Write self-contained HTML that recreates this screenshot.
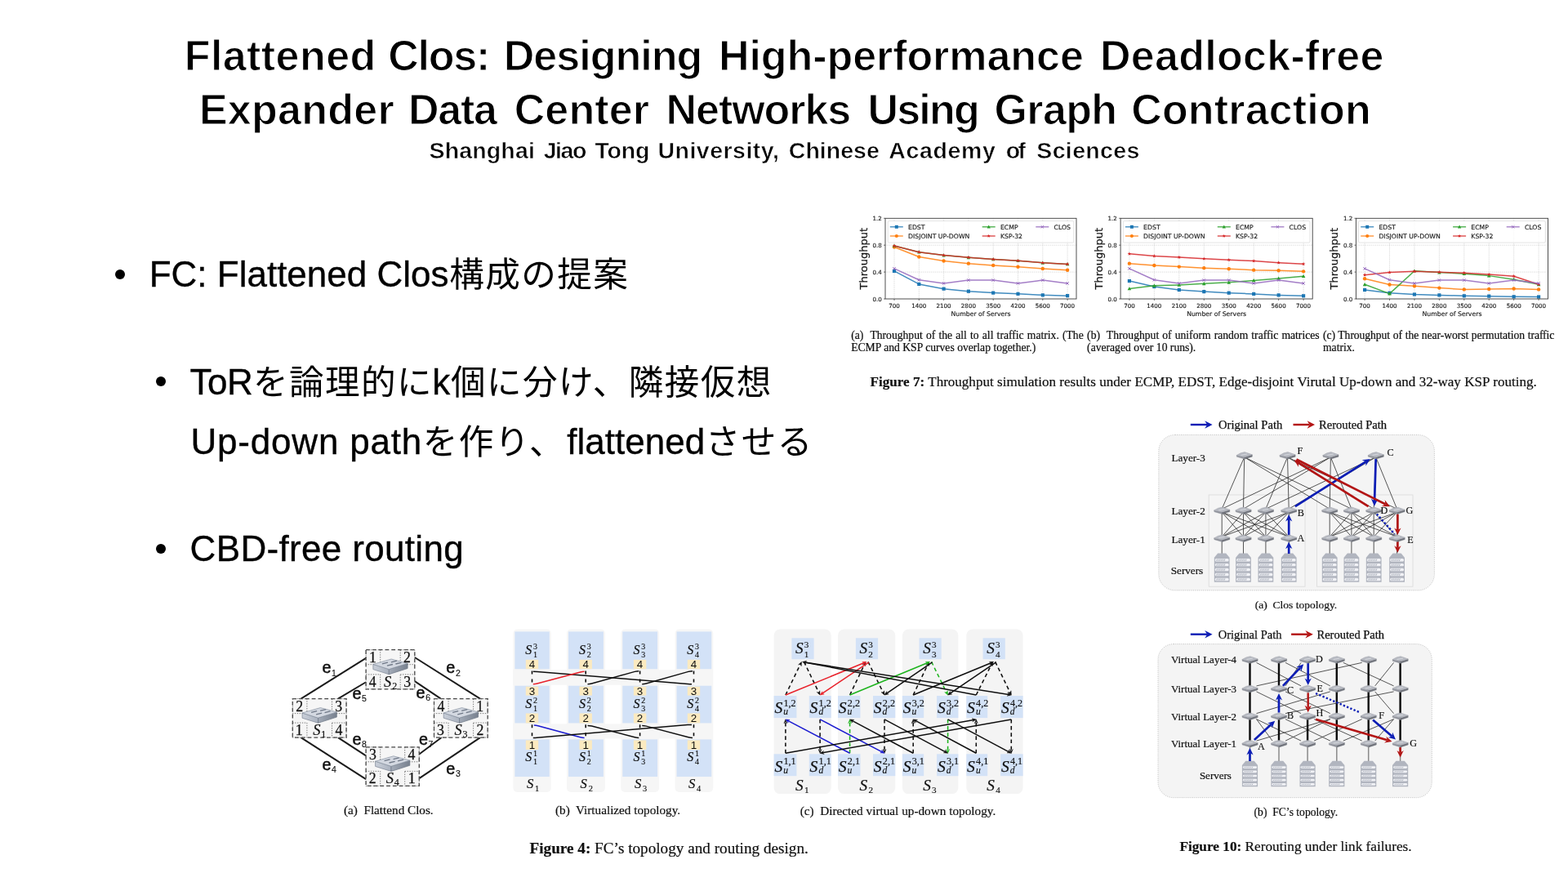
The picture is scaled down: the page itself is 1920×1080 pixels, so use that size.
<!DOCTYPE html>
<html lang="ja">
<head>
<meta charset="utf-8">
<title>Flattened Clos</title>
<style>
html,body{margin:0;padding:0;background:#fff;}
body{width:1920px;height:1080px;position:relative;overflow:hidden;font-family:"Liberation Sans","Noto Sans CJK JP",sans-serif;color:#000;}
.abs{position:absolute;white-space:nowrap;line-height:1;}
.t1{position:absolute;left:0;width:1920px;height:52px;font-size:52px;line-height:1;font-weight:bold;-webkit-text-stroke:1.1px #fff;white-space:nowrap;}
.t1 span{position:absolute;top:0;}
.sub{position:absolute;left:0;width:1920px;height:29px;font-size:28.5px;line-height:1;font-weight:bold;-webkit-text-stroke:0.6px #fff;white-space:nowrap;}
.sub span{position:absolute;top:0;}
.b span.l{-webkit-text-stroke:0.35px #000;}
.b span.c{font-size:42.6px;letter-spacing:1.4px;margin-left:0.7px;margin-right:-0.7px;}
.b{font-size:44px;transform-origin:0 0;}
.dot{position:absolute;border-radius:50%;background:#000;}
.cap{position:absolute;white-space:nowrap;font-family:"Liberation Serif",serif;font-size:13.64px;line-height:15.2px;color:#111;-webkit-text-stroke:0.22px #111;filter:blur(0.3px);}
.cap.j{text-align:justify;text-align-last:justify;white-space:normal;}
.figcap{position:absolute;white-space:nowrap;font-family:"Liberation Serif",serif;font-size:17.05px;line-height:20px;color:#111;text-align:justify;text-align-last:justify;white-space:normal;-webkit-text-stroke:0.22px #111;filter:blur(0.3px);}
svg{position:absolute;overflow:visible;}
svg text{white-space:pre;}
</style>
</head>
<body>
<div class="t1" id="t1a" style="top:42px;"><span style="left:225.7px;letter-spacing:0.429px">Flattened</span> <span style="left:475.3px;letter-spacing:-1.246px">Clos:</span> <span style="left:616.8px;letter-spacing:-0.997px">Designing</span> <span style="left:879.9px;letter-spacing:-0.061px">High-performance</span> <span style="left:1347.0px;letter-spacing:0.284px">Deadlock-free</span></div>
<div class="t1" id="t1b" style="top:107.5px;"><span style="left:243.9px;letter-spacing:0.267px">Expander</span> <span style="left:500.0px;letter-spacing:-1.263px">Data</span> <span style="left:629.7px;letter-spacing:0.125px">Center</span> <span style="left:815.6px;letter-spacing:-1.072px">Networks</span> <span style="left:1062.6px;letter-spacing:-1.846px">Using</span> <span style="left:1217.6px;letter-spacing:-0.667px">Graph</span> <span style="left:1385.2px;letter-spacing:0.17px">Contraction</span></div>
<div class="sub" id="sub" style="top:170px;"><span style="left:525.5px;letter-spacing:0.151px">Shanghai</span> <span style="left:665.7px;letter-spacing:-1.44px">Jiao</span> <span style="left:728.5px;letter-spacing:-0.204px">Tong</span> <span style="left:805.4px;letter-spacing:0.5px">University,</span> <span style="left:965.8px;letter-spacing:0.014px">Chinese</span> <span style="left:1088.3px;letter-spacing:0.62px">Academy</span> <span style="left:1231.7px;letter-spacing:-2.609px">of</span> <span style="left:1269.3px;letter-spacing:0.352px">Sciences</span></div>

<div class="dot" style="left:141px;top:330px;width:12px;height:12px;"></div>
<div class="abs b" id="b1" style="left:182.7px;top:313.6px;"><span class="l">FC: Flattened Clos</span><span class="c">構成の提案</span></div>
<div class="dot" style="left:191.1px;top:461.4px;width:12px;height:12px;"></div>
<div class="abs b" id="b2" style="left:232.5px;top:446.3px;"><span class="l" style="letter-spacing:-0.5px">ToR</span><span class="c">を論理的に</span><span class="l">k</span><span class="c">個に分け、隣接仮想</span></div>
<div class="abs b" id="b3" style="left:233.5px;top:519px;"><span class="l" style="letter-spacing:0.8px">Up-down path</span><span class="c">を作り、</span><span class="l" style="margin-left:3px">flattened</span><span class="c">させる</span></div>
<div class="dot" style="left:190.8px;top:665.6px;width:12px;height:12px;"></div>
<div class="abs b" id="b4" style="left:232.6px;top:649.7px;letter-spacing:0.33px;"><span class="l">CBD-free routing</span></div>
<!--FIG7-->
<svg id="fig7" style="left:0;top:0" width="1920" height="1080" viewBox="0 0 1920 1080" font-family="'DejaVu Sans',sans-serif" filter="url(#soft)">
<defs><filter id="soft" x="-5%" y="-5%" width="110%" height="110%"><feGaussianBlur stdDeviation="0.45"/></filter></defs>
<g><path d="M1095.00 267.3V366.0" stroke="#b8b8b8" stroke-width="0.6" stroke-dasharray="0.8 0.9"/><path d="M1125.30 267.3V366.0" stroke="#b8b8b8" stroke-width="0.6" stroke-dasharray="0.8 0.9"/><path d="M1155.60 267.3V366.0" stroke="#b8b8b8" stroke-width="0.6" stroke-dasharray="0.8 0.9"/><path d="M1185.90 267.3V366.0" stroke="#b8b8b8" stroke-width="0.6" stroke-dasharray="0.8 0.9"/><path d="M1216.20 267.3V366.0" stroke="#b8b8b8" stroke-width="0.6" stroke-dasharray="0.8 0.9"/><path d="M1246.50 267.3V366.0" stroke="#b8b8b8" stroke-width="0.6" stroke-dasharray="0.8 0.9"/><path d="M1276.80 267.3V366.0" stroke="#b8b8b8" stroke-width="0.6" stroke-dasharray="0.8 0.9"/><path d="M1307.10 267.3V366.0" stroke="#b8b8b8" stroke-width="0.6" stroke-dasharray="0.8 0.9"/><path d="M1084.0 333.10H1318.0" stroke="#b8b8b8" stroke-width="0.6" stroke-dasharray="0.8 0.9"/><path d="M1084.0 300.20H1318.0" stroke="#b8b8b8" stroke-width="0.6" stroke-dasharray="0.8 0.9"/><polyline points="1095.00,331.95 1125.30,347.90 1155.60,353.66 1185.90,356.71 1216.20,358.60 1246.50,359.83 1276.80,361.35 1307.10,362.13" fill="none" stroke="#1f77b4" stroke-width="1.5" stroke-opacity="0.85" stroke-linejoin="round"/><rect x="1092.90" y="329.85" width="4.20" height="4.20" fill="#1f77b4"/><rect x="1123.20" y="345.80" width="4.20" height="4.20" fill="#1f77b4"/><rect x="1153.50" y="351.56" width="4.20" height="4.20" fill="#1f77b4"/><rect x="1183.80" y="354.61" width="4.20" height="4.20" fill="#1f77b4"/><rect x="1214.10" y="356.50" width="4.20" height="4.20" fill="#1f77b4"/><rect x="1244.40" y="357.73" width="4.20" height="4.20" fill="#1f77b4"/><rect x="1274.70" y="359.25" width="4.20" height="4.20" fill="#1f77b4"/><rect x="1305.00" y="360.03" width="4.20" height="4.20" fill="#1f77b4"/><polyline points="1095.00,302.50 1125.30,314.43 1155.60,319.53 1185.90,322.65 1216.20,324.88 1246.50,326.77 1276.80,328.99 1307.10,330.80" fill="none" stroke="#ff7f0e" stroke-width="1.5" stroke-opacity="0.85" stroke-linejoin="round"/><circle cx="1095.00" cy="302.50" r="2.20" fill="#ff7f0e"/><circle cx="1125.30" cy="314.43" r="2.20" fill="#ff7f0e"/><circle cx="1155.60" cy="319.53" r="2.20" fill="#ff7f0e"/><circle cx="1185.90" cy="322.65" r="2.20" fill="#ff7f0e"/><circle cx="1216.20" cy="324.88" r="2.20" fill="#ff7f0e"/><circle cx="1246.50" cy="326.77" r="2.20" fill="#ff7f0e"/><circle cx="1276.80" cy="328.99" r="2.20" fill="#ff7f0e"/><circle cx="1307.10" cy="330.80" r="2.20" fill="#ff7f0e"/><polyline points="1095.00,301.02 1125.30,308.67 1155.60,312.54 1185.90,315.33 1216.20,317.47 1246.50,319.20 1276.80,321.83 1307.10,323.39" fill="none" stroke="#2ca02c" stroke-width="1.5" stroke-opacity="0.85" stroke-linejoin="round"/><path d="M1095.00 298.72L1097.30 302.86L1092.70 302.86Z" fill="#2ca02c"/><path d="M1125.30 306.37L1127.60 310.51L1123.00 310.51Z" fill="#2ca02c"/><path d="M1155.60 310.24L1157.90 314.38L1153.30 314.38Z" fill="#2ca02c"/><path d="M1185.90 313.03L1188.20 317.17L1183.60 317.17Z" fill="#2ca02c"/><path d="M1216.20 315.17L1218.50 319.31L1213.90 319.31Z" fill="#2ca02c"/><path d="M1246.50 316.90L1248.80 321.04L1244.20 321.04Z" fill="#2ca02c"/><path d="M1276.80 319.53L1279.10 323.67L1274.50 323.67Z" fill="#2ca02c"/><path d="M1307.10 321.09L1309.40 325.23L1304.80 325.23Z" fill="#2ca02c"/><polyline points="1095.00,301.02 1125.30,308.67 1155.60,312.54 1185.90,315.33 1216.20,317.47 1246.50,319.20 1276.80,321.83 1307.10,323.39" fill="none" stroke="#d62728" stroke-width="1.5" stroke-opacity="0.85" stroke-linejoin="round"/><polygon points="1095.00,298.62 1095.59,300.21 1097.28,300.28 1095.95,301.33 1096.41,302.96 1095.00,302.02 1093.59,302.96 1094.05,301.33 1092.72,300.28 1094.41,300.21" fill="#d62728"/><polygon points="1125.30,306.27 1125.89,307.86 1127.58,307.93 1126.25,308.98 1126.71,310.61 1125.30,309.67 1123.89,310.61 1124.35,308.98 1123.02,307.93 1124.71,307.86" fill="#d62728"/><polygon points="1155.60,310.14 1156.19,311.73 1157.88,311.80 1156.55,312.85 1157.01,314.48 1155.60,313.54 1154.19,314.48 1154.65,312.85 1153.32,311.80 1155.01,311.73" fill="#d62728"/><polygon points="1185.90,312.93 1186.49,314.52 1188.18,314.59 1186.85,315.64 1187.31,317.28 1185.90,316.33 1184.49,317.28 1184.95,315.64 1183.62,314.59 1185.31,314.52" fill="#d62728"/><polygon points="1216.20,315.07 1216.79,316.66 1218.48,316.73 1217.15,317.78 1217.61,319.41 1216.20,318.47 1214.79,319.41 1215.25,317.78 1213.92,316.73 1215.61,316.66" fill="#d62728"/><polygon points="1246.50,316.80 1247.09,318.39 1248.78,318.46 1247.45,319.51 1247.91,321.14 1246.50,320.20 1245.09,321.14 1245.55,319.51 1244.22,318.46 1245.91,318.39" fill="#d62728"/><polygon points="1276.80,319.43 1277.39,321.02 1279.08,321.09 1277.75,322.14 1278.21,323.77 1276.80,322.83 1275.39,323.77 1275.85,322.14 1274.52,321.09 1276.21,321.02" fill="#d62728"/><polygon points="1307.10,320.99 1307.69,322.59 1309.38,322.65 1308.05,323.70 1308.51,325.34 1307.10,324.39 1305.69,325.34 1306.15,323.70 1304.82,322.65 1306.51,322.59" fill="#d62728"/><polyline points="1095.00,328.82 1125.30,342.72 1155.60,346.92 1185.90,343.05 1216.20,343.05 1246.50,346.92 1276.80,343.05 1307.10,346.92" fill="none" stroke="#9467bd" stroke-width="1.5" stroke-opacity="0.85" stroke-linejoin="round"/><path d="M1093.30 327.12L1096.70 330.52M1093.30 330.52L1096.70 327.12" stroke="#9467bd" stroke-width="1" fill="none"/><path d="M1123.60 341.02L1127.00 344.42M1123.60 344.42L1127.00 341.02" stroke="#9467bd" stroke-width="1" fill="none"/><path d="M1153.90 345.22L1157.30 348.62M1153.90 348.62L1157.30 345.22" stroke="#9467bd" stroke-width="1" fill="none"/><path d="M1184.20 341.35L1187.60 344.75M1184.20 344.75L1187.60 341.35" stroke="#9467bd" stroke-width="1" fill="none"/><path d="M1214.50 341.35L1217.90 344.75M1214.50 344.75L1217.90 341.35" stroke="#9467bd" stroke-width="1" fill="none"/><path d="M1244.80 345.22L1248.20 348.62M1244.80 348.62L1248.20 345.22" stroke="#9467bd" stroke-width="1" fill="none"/><path d="M1275.10 341.35L1278.50 344.75M1275.10 344.75L1278.50 341.35" stroke="#9467bd" stroke-width="1" fill="none"/><path d="M1305.40 345.22L1308.80 348.62M1305.40 348.62L1308.80 345.22" stroke="#9467bd" stroke-width="1" fill="none"/><rect x="1084.0" y="267.3" width="234.00" height="98.70" fill="none" stroke="#3a3a3a" stroke-width="0.9"/><path d="M1095.00 366.0v2" stroke="#3a3a3a" stroke-width="0.7"/><text x="1095.00" y="377.20" font-size="7.1" text-anchor="middle" fill="#1a1a1a" stroke="#1a1a1a" stroke-width="0.15">700</text><path d="M1125.30 366.0v2" stroke="#3a3a3a" stroke-width="0.7"/><text x="1125.30" y="377.20" font-size="7.1" text-anchor="middle" fill="#1a1a1a" stroke="#1a1a1a" stroke-width="0.15">1400</text><path d="M1155.60 366.0v2" stroke="#3a3a3a" stroke-width="0.7"/><text x="1155.60" y="377.20" font-size="7.1" text-anchor="middle" fill="#1a1a1a" stroke="#1a1a1a" stroke-width="0.15">2100</text><path d="M1185.90 366.0v2" stroke="#3a3a3a" stroke-width="0.7"/><text x="1185.90" y="377.20" font-size="7.1" text-anchor="middle" fill="#1a1a1a" stroke="#1a1a1a" stroke-width="0.15">2800</text><path d="M1216.20 366.0v2" stroke="#3a3a3a" stroke-width="0.7"/><text x="1216.20" y="377.20" font-size="7.1" text-anchor="middle" fill="#1a1a1a" stroke="#1a1a1a" stroke-width="0.15">3500</text><path d="M1246.50 366.0v2" stroke="#3a3a3a" stroke-width="0.7"/><text x="1246.50" y="377.20" font-size="7.1" text-anchor="middle" fill="#1a1a1a" stroke="#1a1a1a" stroke-width="0.15">4200</text><path d="M1276.80 366.0v2" stroke="#3a3a3a" stroke-width="0.7"/><text x="1276.80" y="377.20" font-size="7.1" text-anchor="middle" fill="#1a1a1a" stroke="#1a1a1a" stroke-width="0.15">5600</text><path d="M1307.10 366.0v2" stroke="#3a3a3a" stroke-width="0.7"/><text x="1307.10" y="377.20" font-size="7.1" text-anchor="middle" fill="#1a1a1a" stroke="#1a1a1a" stroke-width="0.15">7000</text><path d="M1084.0 366.00h-2" stroke="#3a3a3a" stroke-width="0.7"/><text x="1079.80" y="368.60" font-size="7.1" text-anchor="end" fill="#1a1a1a" stroke="#1a1a1a" stroke-width="0.15">0.0</text><path d="M1084.0 333.10h-2" stroke="#3a3a3a" stroke-width="0.7"/><text x="1079.80" y="335.70" font-size="7.1" text-anchor="end" fill="#1a1a1a" stroke="#1a1a1a" stroke-width="0.15">0.4</text><path d="M1084.0 300.20h-2" stroke="#3a3a3a" stroke-width="0.7"/><text x="1079.80" y="302.80" font-size="7.1" text-anchor="end" fill="#1a1a1a" stroke="#1a1a1a" stroke-width="0.15">0.8</text><path d="M1084.0 267.30h-2" stroke="#3a3a3a" stroke-width="0.7"/><text x="1079.80" y="269.90" font-size="7.1" text-anchor="end" fill="#1a1a1a" stroke="#1a1a1a" stroke-width="0.15">1.2</text><text x="1201.00" y="387.30" font-size="7.75" text-anchor="middle" fill="#1a1a1a" stroke="#1a1a1a" stroke-width="0.15">Number of Servers</text><text transform="translate(1061.70 316.65) rotate(-90)" font-size="13" text-anchor="middle" fill="#1a1a1a" stroke="#1a1a1a" stroke-width="0.25">Throughput</text><rect x="1087.20" y="270.60" width="227.60" height="26.5" rx="1.3" fill="#fff" fill-opacity="0.8" stroke="#d0d0d0" stroke-width="0.6"/><path d="M1089.80 277.80h16" stroke="#1f77b4" stroke-width="1.35" stroke-opacity="0.85"/><rect x="1095.81" y="275.81" width="3.99" height="3.99" fill="#1f77b4"/><text x="1112.00" y="280.65" font-size="7.75" fill="#1a1a1a" stroke="#1a1a1a" stroke-width="0.15">EDST</text><path d="M1089.80 289.00h16" stroke="#ff7f0e" stroke-width="1.35" stroke-opacity="0.85"/><circle cx="1097.80" cy="289.00" r="2.09" fill="#ff7f0e"/><text x="1112.00" y="291.85" font-size="7.75" fill="#1a1a1a" stroke="#1a1a1a" stroke-width="0.15">DISJOINT UP-DOWN</text><path d="M1202.70 277.80h16" stroke="#2ca02c" stroke-width="1.35" stroke-opacity="0.85"/><path d="M1210.70 275.62L1212.88 279.55L1208.52 279.55Z" fill="#2ca02c"/><text x="1224.90" y="280.65" font-size="7.75" fill="#1a1a1a" stroke="#1a1a1a" stroke-width="0.15">ECMP</text><path d="M1202.70 289.00h16" stroke="#d62728" stroke-width="1.35" stroke-opacity="0.85"/><polygon points="1210.70,286.72 1211.26,288.23 1212.87,288.30 1211.60,289.29 1212.04,290.84 1210.70,289.95 1209.36,290.84 1209.80,289.29 1208.53,288.30 1210.14,288.23" fill="#d62728"/><text x="1224.90" y="291.85" font-size="7.75" fill="#1a1a1a" stroke="#1a1a1a" stroke-width="0.15">KSP-32</text><path d="M1268.30 277.80h16" stroke="#9467bd" stroke-width="1.35" stroke-opacity="0.85"/><path d="M1274.68 276.19L1277.91 279.42M1274.68 279.42L1277.91 276.19" stroke="#9467bd" stroke-width="1" fill="none"/><text x="1290.50" y="280.65" font-size="7.75" fill="#1a1a1a" stroke="#1a1a1a" stroke-width="0.15">CLOS</text></g>
<g><path d="M1382.90 267.3V366.0" stroke="#b8b8b8" stroke-width="0.6" stroke-dasharray="0.8 0.9"/><path d="M1413.36 267.3V366.0" stroke="#b8b8b8" stroke-width="0.6" stroke-dasharray="0.8 0.9"/><path d="M1443.81 267.3V366.0" stroke="#b8b8b8" stroke-width="0.6" stroke-dasharray="0.8 0.9"/><path d="M1474.27 267.3V366.0" stroke="#b8b8b8" stroke-width="0.6" stroke-dasharray="0.8 0.9"/><path d="M1504.73 267.3V366.0" stroke="#b8b8b8" stroke-width="0.6" stroke-dasharray="0.8 0.9"/><path d="M1535.19 267.3V366.0" stroke="#b8b8b8" stroke-width="0.6" stroke-dasharray="0.8 0.9"/><path d="M1565.64 267.3V366.0" stroke="#b8b8b8" stroke-width="0.6" stroke-dasharray="0.8 0.9"/><path d="M1596.10 267.3V366.0" stroke="#b8b8b8" stroke-width="0.6" stroke-dasharray="0.8 0.9"/><path d="M1372.1 333.10H1607.2" stroke="#b8b8b8" stroke-width="0.6" stroke-dasharray="0.8 0.9"/><path d="M1372.1 300.20H1607.2" stroke="#b8b8b8" stroke-width="0.6" stroke-dasharray="0.8 0.9"/><polyline points="1382.90,344.04 1413.36,351.03 1443.81,354.98 1474.27,357.12 1504.73,358.68 1535.19,359.91 1565.64,361.39 1596.10,362.30" fill="none" stroke="#1f77b4" stroke-width="1.5" stroke-opacity="0.85" stroke-linejoin="round"/><rect x="1380.80" y="341.94" width="4.20" height="4.20" fill="#1f77b4"/><rect x="1411.26" y="348.93" width="4.20" height="4.20" fill="#1f77b4"/><rect x="1441.71" y="352.88" width="4.20" height="4.20" fill="#1f77b4"/><rect x="1472.17" y="355.02" width="4.20" height="4.20" fill="#1f77b4"/><rect x="1502.63" y="356.58" width="4.20" height="4.20" fill="#1f77b4"/><rect x="1533.09" y="357.81" width="4.20" height="4.20" fill="#1f77b4"/><rect x="1563.54" y="359.29" width="4.20" height="4.20" fill="#1f77b4"/><rect x="1594.00" y="360.20" width="4.20" height="4.20" fill="#1f77b4"/><polyline points="1382.90,322.65 1413.36,325.04 1443.81,326.60 1474.27,328.17 1504.73,329.32 1535.19,330.63 1565.64,331.21 1596.10,332.36" fill="none" stroke="#ff7f0e" stroke-width="1.5" stroke-opacity="0.85" stroke-linejoin="round"/><circle cx="1382.90" cy="322.65" r="2.20" fill="#ff7f0e"/><circle cx="1413.36" cy="325.04" r="2.20" fill="#ff7f0e"/><circle cx="1443.81" cy="326.60" r="2.20" fill="#ff7f0e"/><circle cx="1474.27" cy="328.17" r="2.20" fill="#ff7f0e"/><circle cx="1504.73" cy="329.32" r="2.20" fill="#ff7f0e"/><circle cx="1535.19" cy="330.63" r="2.20" fill="#ff7f0e"/><circle cx="1565.64" cy="331.21" r="2.20" fill="#ff7f0e"/><circle cx="1596.10" cy="332.36" r="2.20" fill="#ff7f0e"/><polyline points="1382.90,353.50 1413.36,349.80 1443.81,348.89 1474.27,347.33 1504.73,345.85 1535.19,343.38 1565.64,340.91 1596.10,338.20" fill="none" stroke="#2ca02c" stroke-width="1.5" stroke-opacity="0.85" stroke-linejoin="round"/><path d="M1382.90 351.20L1385.20 355.34L1380.60 355.34Z" fill="#2ca02c"/><path d="M1413.36 347.50L1415.66 351.64L1411.06 351.64Z" fill="#2ca02c"/><path d="M1443.81 346.59L1446.11 350.73L1441.51 350.73Z" fill="#2ca02c"/><path d="M1474.27 345.03L1476.57 349.17L1471.97 349.17Z" fill="#2ca02c"/><path d="M1504.73 343.55L1507.03 347.69L1502.43 347.69Z" fill="#2ca02c"/><path d="M1535.19 341.08L1537.49 345.22L1532.89 345.22Z" fill="#2ca02c"/><path d="M1565.64 338.61L1567.94 342.75L1563.34 342.75Z" fill="#2ca02c"/><path d="M1596.10 335.90L1598.40 340.04L1593.80 340.04Z" fill="#2ca02c"/><polyline points="1382.90,310.73 1413.36,313.44 1443.81,315.00 1474.27,316.81 1504.73,318.30 1535.19,319.53 1565.64,321.67 1596.10,323.23" fill="none" stroke="#d62728" stroke-width="1.5" stroke-opacity="0.85" stroke-linejoin="round"/><polygon points="1382.90,308.33 1383.49,309.92 1385.18,309.99 1383.85,311.04 1384.31,312.67 1382.90,311.73 1381.49,312.67 1381.95,311.04 1380.62,309.99 1382.31,309.92" fill="#d62728"/><polygon points="1413.36,311.04 1413.94,312.63 1415.64,312.70 1414.31,313.75 1414.77,315.38 1413.36,314.44 1411.95,315.38 1412.41,313.75 1411.07,312.70 1412.77,312.63" fill="#d62728"/><polygon points="1443.81,312.61 1444.40,314.20 1446.10,314.26 1444.77,315.31 1445.22,316.95 1443.81,316.00 1442.40,316.95 1442.86,315.31 1441.53,314.26 1443.23,314.20" fill="#d62728"/><polygon points="1474.27,314.41 1474.86,316.01 1476.55,316.07 1475.22,317.12 1475.68,318.76 1474.27,317.81 1472.86,318.76 1473.32,317.12 1471.99,316.07 1473.68,316.01" fill="#d62728"/><polygon points="1504.73,315.90 1505.32,317.49 1507.01,317.55 1505.68,318.60 1506.14,320.24 1504.73,319.30 1503.32,320.24 1503.78,318.60 1502.45,317.55 1504.14,317.49" fill="#d62728"/><polygon points="1535.19,317.13 1535.77,318.72 1537.47,318.79 1536.14,319.84 1536.60,321.47 1535.19,320.53 1533.78,321.47 1534.23,319.84 1532.90,318.79 1534.60,318.72" fill="#d62728"/><polygon points="1565.64,319.27 1566.23,320.86 1567.93,320.93 1566.59,321.98 1567.05,323.61 1565.64,322.67 1564.23,323.61 1564.69,321.98 1563.36,320.93 1565.06,320.86" fill="#d62728"/><polygon points="1596.10,320.83 1596.69,322.42 1598.38,322.49 1597.05,323.54 1597.51,325.17 1596.10,324.23 1594.69,325.17 1595.15,323.54 1593.82,322.49 1595.51,322.42" fill="#d62728"/><polyline points="1382.90,328.82 1413.36,342.72 1443.81,346.92 1474.27,343.05 1504.73,343.05 1535.19,346.92 1565.64,343.05 1596.10,346.92" fill="none" stroke="#9467bd" stroke-width="1.5" stroke-opacity="0.85" stroke-linejoin="round"/><path d="M1381.20 327.12L1384.60 330.52M1381.20 330.52L1384.60 327.12" stroke="#9467bd" stroke-width="1" fill="none"/><path d="M1411.66 341.02L1415.06 344.42M1411.66 344.42L1415.06 341.02" stroke="#9467bd" stroke-width="1" fill="none"/><path d="M1442.11 345.22L1445.51 348.62M1442.11 348.62L1445.51 345.22" stroke="#9467bd" stroke-width="1" fill="none"/><path d="M1472.57 341.35L1475.97 344.75M1472.57 344.75L1475.97 341.35" stroke="#9467bd" stroke-width="1" fill="none"/><path d="M1503.03 341.35L1506.43 344.75M1503.03 344.75L1506.43 341.35" stroke="#9467bd" stroke-width="1" fill="none"/><path d="M1533.49 345.22L1536.89 348.62M1533.49 348.62L1536.89 345.22" stroke="#9467bd" stroke-width="1" fill="none"/><path d="M1563.94 341.35L1567.34 344.75M1563.94 344.75L1567.34 341.35" stroke="#9467bd" stroke-width="1" fill="none"/><path d="M1594.40 345.22L1597.80 348.62M1594.40 348.62L1597.80 345.22" stroke="#9467bd" stroke-width="1" fill="none"/><rect x="1372.1" y="267.3" width="235.10" height="98.70" fill="none" stroke="#3a3a3a" stroke-width="0.9"/><path d="M1382.90 366.0v2" stroke="#3a3a3a" stroke-width="0.7"/><text x="1382.90" y="377.20" font-size="7.1" text-anchor="middle" fill="#1a1a1a" stroke="#1a1a1a" stroke-width="0.15">700</text><path d="M1413.36 366.0v2" stroke="#3a3a3a" stroke-width="0.7"/><text x="1413.36" y="377.20" font-size="7.1" text-anchor="middle" fill="#1a1a1a" stroke="#1a1a1a" stroke-width="0.15">1400</text><path d="M1443.81 366.0v2" stroke="#3a3a3a" stroke-width="0.7"/><text x="1443.81" y="377.20" font-size="7.1" text-anchor="middle" fill="#1a1a1a" stroke="#1a1a1a" stroke-width="0.15">2100</text><path d="M1474.27 366.0v2" stroke="#3a3a3a" stroke-width="0.7"/><text x="1474.27" y="377.20" font-size="7.1" text-anchor="middle" fill="#1a1a1a" stroke="#1a1a1a" stroke-width="0.15">2800</text><path d="M1504.73 366.0v2" stroke="#3a3a3a" stroke-width="0.7"/><text x="1504.73" y="377.20" font-size="7.1" text-anchor="middle" fill="#1a1a1a" stroke="#1a1a1a" stroke-width="0.15">3500</text><path d="M1535.19 366.0v2" stroke="#3a3a3a" stroke-width="0.7"/><text x="1535.19" y="377.20" font-size="7.1" text-anchor="middle" fill="#1a1a1a" stroke="#1a1a1a" stroke-width="0.15">4200</text><path d="M1565.64 366.0v2" stroke="#3a3a3a" stroke-width="0.7"/><text x="1565.64" y="377.20" font-size="7.1" text-anchor="middle" fill="#1a1a1a" stroke="#1a1a1a" stroke-width="0.15">5600</text><path d="M1596.10 366.0v2" stroke="#3a3a3a" stroke-width="0.7"/><text x="1596.10" y="377.20" font-size="7.1" text-anchor="middle" fill="#1a1a1a" stroke="#1a1a1a" stroke-width="0.15">7000</text><path d="M1372.1 366.00h-2" stroke="#3a3a3a" stroke-width="0.7"/><text x="1367.90" y="368.60" font-size="7.1" text-anchor="end" fill="#1a1a1a" stroke="#1a1a1a" stroke-width="0.15">0.0</text><path d="M1372.1 333.10h-2" stroke="#3a3a3a" stroke-width="0.7"/><text x="1367.90" y="335.70" font-size="7.1" text-anchor="end" fill="#1a1a1a" stroke="#1a1a1a" stroke-width="0.15">0.4</text><path d="M1372.1 300.20h-2" stroke="#3a3a3a" stroke-width="0.7"/><text x="1367.90" y="302.80" font-size="7.1" text-anchor="end" fill="#1a1a1a" stroke="#1a1a1a" stroke-width="0.15">0.8</text><path d="M1372.1 267.30h-2" stroke="#3a3a3a" stroke-width="0.7"/><text x="1367.90" y="269.90" font-size="7.1" text-anchor="end" fill="#1a1a1a" stroke="#1a1a1a" stroke-width="0.15">1.2</text><text x="1489.65" y="387.30" font-size="7.75" text-anchor="middle" fill="#1a1a1a" stroke="#1a1a1a" stroke-width="0.15">Number of Servers</text><text transform="translate(1349.80 316.65) rotate(-90)" font-size="13" text-anchor="middle" fill="#1a1a1a" stroke="#1a1a1a" stroke-width="0.25">Throughput</text><rect x="1375.30" y="270.60" width="228.70" height="26.5" rx="1.3" fill="#fff" fill-opacity="0.8" stroke="#d0d0d0" stroke-width="0.6"/><path d="M1377.90 277.80h16" stroke="#1f77b4" stroke-width="1.35" stroke-opacity="0.85"/><rect x="1383.90" y="275.81" width="3.99" height="3.99" fill="#1f77b4"/><text x="1400.10" y="280.65" font-size="7.75" fill="#1a1a1a" stroke="#1a1a1a" stroke-width="0.15">EDST</text><path d="M1377.90 289.00h16" stroke="#ff7f0e" stroke-width="1.35" stroke-opacity="0.85"/><circle cx="1385.90" cy="289.00" r="2.09" fill="#ff7f0e"/><text x="1400.10" y="291.85" font-size="7.75" fill="#1a1a1a" stroke="#1a1a1a" stroke-width="0.15">DISJOINT UP-DOWN</text><path d="M1490.80 277.80h16" stroke="#2ca02c" stroke-width="1.35" stroke-opacity="0.85"/><path d="M1498.80 275.62L1500.98 279.55L1496.62 279.55Z" fill="#2ca02c"/><text x="1513.00" y="280.65" font-size="7.75" fill="#1a1a1a" stroke="#1a1a1a" stroke-width="0.15">ECMP</text><path d="M1490.80 289.00h16" stroke="#d62728" stroke-width="1.35" stroke-opacity="0.85"/><polygon points="1498.80,286.72 1499.36,288.23 1500.97,288.30 1499.70,289.29 1500.14,290.84 1498.80,289.95 1497.46,290.84 1497.90,289.29 1496.63,288.30 1498.24,288.23" fill="#d62728"/><text x="1513.00" y="291.85" font-size="7.75" fill="#1a1a1a" stroke="#1a1a1a" stroke-width="0.15">KSP-32</text><path d="M1556.40 277.80h16" stroke="#9467bd" stroke-width="1.35" stroke-opacity="0.85"/><path d="M1562.78 276.19L1566.01 279.42M1562.78 279.42L1566.01 276.19" stroke="#9467bd" stroke-width="1" fill="none"/><text x="1578.60" y="280.65" font-size="7.75" fill="#1a1a1a" stroke="#1a1a1a" stroke-width="0.15">CLOS</text></g>
<g><path d="M1671.10 267.3V366.0" stroke="#b8b8b8" stroke-width="0.6" stroke-dasharray="0.8 0.9"/><path d="M1701.53 267.3V366.0" stroke="#b8b8b8" stroke-width="0.6" stroke-dasharray="0.8 0.9"/><path d="M1731.96 267.3V366.0" stroke="#b8b8b8" stroke-width="0.6" stroke-dasharray="0.8 0.9"/><path d="M1762.39 267.3V366.0" stroke="#b8b8b8" stroke-width="0.6" stroke-dasharray="0.8 0.9"/><path d="M1792.81 267.3V366.0" stroke="#b8b8b8" stroke-width="0.6" stroke-dasharray="0.8 0.9"/><path d="M1823.24 267.3V366.0" stroke="#b8b8b8" stroke-width="0.6" stroke-dasharray="0.8 0.9"/><path d="M1853.67 267.3V366.0" stroke="#b8b8b8" stroke-width="0.6" stroke-dasharray="0.8 0.9"/><path d="M1884.10 267.3V366.0" stroke="#b8b8b8" stroke-width="0.6" stroke-dasharray="0.8 0.9"/><path d="M1660.4 333.10H1895.5" stroke="#b8b8b8" stroke-width="0.6" stroke-dasharray="0.8 0.9"/><path d="M1660.4 300.20H1895.5" stroke="#b8b8b8" stroke-width="0.6" stroke-dasharray="0.8 0.9"/><polyline points="1671.10,354.98 1701.53,358.68 1731.96,360.49 1762.39,361.39 1792.81,362.30 1823.24,362.63 1853.67,363.29 1884.10,363.53" fill="none" stroke="#1f77b4" stroke-width="1.5" stroke-opacity="0.85" stroke-linejoin="round"/><rect x="1669.00" y="352.88" width="4.20" height="4.20" fill="#1f77b4"/><rect x="1699.43" y="356.58" width="4.20" height="4.20" fill="#1f77b4"/><rect x="1729.86" y="358.39" width="4.20" height="4.20" fill="#1f77b4"/><rect x="1760.29" y="359.29" width="4.20" height="4.20" fill="#1f77b4"/><rect x="1790.71" y="360.20" width="4.20" height="4.20" fill="#1f77b4"/><rect x="1821.14" y="360.53" width="4.20" height="4.20" fill="#1f77b4"/><rect x="1851.57" y="361.19" width="4.20" height="4.20" fill="#1f77b4"/><rect x="1882.00" y="361.43" width="4.20" height="4.20" fill="#1f77b4"/><polyline points="1671.10,341.32 1701.53,348.56 1731.96,350.37 1762.39,352.59 1792.81,354.40 1823.24,354.07 1853.67,353.50 1884.10,354.40" fill="none" stroke="#ff7f0e" stroke-width="1.5" stroke-opacity="0.85" stroke-linejoin="round"/><circle cx="1671.10" cy="341.32" r="2.20" fill="#ff7f0e"/><circle cx="1701.53" cy="348.56" r="2.20" fill="#ff7f0e"/><circle cx="1731.96" cy="350.37" r="2.20" fill="#ff7f0e"/><circle cx="1762.39" cy="352.59" r="2.20" fill="#ff7f0e"/><circle cx="1792.81" cy="354.40" r="2.20" fill="#ff7f0e"/><circle cx="1823.24" cy="354.07" r="2.20" fill="#ff7f0e"/><circle cx="1853.67" cy="353.50" r="2.20" fill="#ff7f0e"/><circle cx="1884.10" cy="354.40" r="2.20" fill="#ff7f0e"/><polyline points="1671.10,348.32 1701.53,359.58 1731.96,331.78 1762.39,333.59 1792.81,335.16 1823.24,337.62 1853.67,342.15 1884.10,348.32" fill="none" stroke="#2ca02c" stroke-width="1.5" stroke-opacity="0.85" stroke-linejoin="round"/><path d="M1671.10 346.02L1673.40 350.16L1668.80 350.16Z" fill="#2ca02c"/><path d="M1701.53 357.28L1703.83 361.42L1699.23 361.42Z" fill="#2ca02c"/><path d="M1731.96 329.48L1734.26 333.62L1729.66 333.62Z" fill="#2ca02c"/><path d="M1762.39 331.29L1764.69 335.43L1760.09 335.43Z" fill="#2ca02c"/><path d="M1792.81 332.86L1795.11 337.00L1790.51 337.00Z" fill="#2ca02c"/><path d="M1823.24 335.32L1825.54 339.46L1820.94 339.46Z" fill="#2ca02c"/><path d="M1853.67 339.85L1855.97 343.99L1851.37 343.99Z" fill="#2ca02c"/><path d="M1884.10 346.02L1886.40 350.16L1881.80 350.16Z" fill="#2ca02c"/><polyline points="1671.10,336.64 1701.53,333.59 1731.96,332.36 1762.39,333.35 1792.81,334.25 1823.24,336.06 1853.67,338.20 1884.10,348.32" fill="none" stroke="#d62728" stroke-width="1.5" stroke-opacity="0.85" stroke-linejoin="round"/><polygon points="1671.10,334.24 1671.69,335.83 1673.38,335.90 1672.05,336.95 1672.51,338.58 1671.10,337.64 1669.69,338.58 1670.15,336.95 1668.82,335.90 1670.51,335.83" fill="#d62728"/><polygon points="1701.53,331.19 1702.12,332.78 1703.81,332.85 1702.48,333.90 1702.94,335.54 1701.53,334.59 1700.12,335.54 1700.58,333.90 1699.25,332.85 1700.94,332.78" fill="#d62728"/><polygon points="1731.96,329.96 1732.54,331.55 1734.24,331.62 1732.91,332.67 1733.37,334.30 1731.96,333.36 1730.55,334.30 1731.01,332.67 1729.67,331.62 1731.37,331.55" fill="#d62728"/><polygon points="1762.39,330.95 1762.97,332.54 1764.67,332.61 1763.34,333.66 1763.80,335.29 1762.39,334.35 1760.98,335.29 1761.43,333.66 1760.10,332.61 1761.80,332.54" fill="#d62728"/><polygon points="1792.81,331.85 1793.40,333.44 1795.10,333.51 1793.77,334.56 1794.22,336.19 1792.81,335.25 1791.40,336.19 1791.86,334.56 1790.53,333.51 1792.23,333.44" fill="#d62728"/><polygon points="1823.24,333.66 1823.83,335.25 1825.53,335.32 1824.19,336.37 1824.65,338.00 1823.24,337.06 1821.83,338.00 1822.29,336.37 1820.96,335.32 1822.66,335.25" fill="#d62728"/><polygon points="1853.67,335.80 1854.26,337.39 1855.95,337.46 1854.62,338.51 1855.08,340.14 1853.67,339.20 1852.26,340.14 1852.72,338.51 1851.39,337.46 1853.08,337.39" fill="#d62728"/><polygon points="1884.10,345.92 1884.69,347.51 1886.38,347.57 1885.05,348.63 1885.51,350.26 1884.10,349.32 1882.69,350.26 1883.15,348.63 1881.82,347.57 1883.51,347.51" fill="#d62728"/><polyline points="1671.10,328.82 1701.53,342.72 1731.96,346.92 1762.39,343.05 1792.81,343.05 1823.24,346.92 1853.67,343.05 1884.10,346.92" fill="none" stroke="#9467bd" stroke-width="1.5" stroke-opacity="0.85" stroke-linejoin="round"/><path d="M1669.40 327.12L1672.80 330.52M1669.40 330.52L1672.80 327.12" stroke="#9467bd" stroke-width="1" fill="none"/><path d="M1699.83 341.02L1703.23 344.42M1699.83 344.42L1703.23 341.02" stroke="#9467bd" stroke-width="1" fill="none"/><path d="M1730.26 345.22L1733.66 348.62M1730.26 348.62L1733.66 345.22" stroke="#9467bd" stroke-width="1" fill="none"/><path d="M1760.69 341.35L1764.09 344.75M1760.69 344.75L1764.09 341.35" stroke="#9467bd" stroke-width="1" fill="none"/><path d="M1791.11 341.35L1794.51 344.75M1791.11 344.75L1794.51 341.35" stroke="#9467bd" stroke-width="1" fill="none"/><path d="M1821.54 345.22L1824.94 348.62M1821.54 348.62L1824.94 345.22" stroke="#9467bd" stroke-width="1" fill="none"/><path d="M1851.97 341.35L1855.37 344.75M1851.97 344.75L1855.37 341.35" stroke="#9467bd" stroke-width="1" fill="none"/><path d="M1882.40 345.22L1885.80 348.62M1882.40 348.62L1885.80 345.22" stroke="#9467bd" stroke-width="1" fill="none"/><rect x="1660.4" y="267.3" width="235.10" height="98.70" fill="none" stroke="#3a3a3a" stroke-width="0.9"/><path d="M1671.10 366.0v2" stroke="#3a3a3a" stroke-width="0.7"/><text x="1671.10" y="377.20" font-size="7.1" text-anchor="middle" fill="#1a1a1a" stroke="#1a1a1a" stroke-width="0.15">700</text><path d="M1701.53 366.0v2" stroke="#3a3a3a" stroke-width="0.7"/><text x="1701.53" y="377.20" font-size="7.1" text-anchor="middle" fill="#1a1a1a" stroke="#1a1a1a" stroke-width="0.15">1400</text><path d="M1731.96 366.0v2" stroke="#3a3a3a" stroke-width="0.7"/><text x="1731.96" y="377.20" font-size="7.1" text-anchor="middle" fill="#1a1a1a" stroke="#1a1a1a" stroke-width="0.15">2100</text><path d="M1762.39 366.0v2" stroke="#3a3a3a" stroke-width="0.7"/><text x="1762.39" y="377.20" font-size="7.1" text-anchor="middle" fill="#1a1a1a" stroke="#1a1a1a" stroke-width="0.15">2800</text><path d="M1792.81 366.0v2" stroke="#3a3a3a" stroke-width="0.7"/><text x="1792.81" y="377.20" font-size="7.1" text-anchor="middle" fill="#1a1a1a" stroke="#1a1a1a" stroke-width="0.15">3500</text><path d="M1823.24 366.0v2" stroke="#3a3a3a" stroke-width="0.7"/><text x="1823.24" y="377.20" font-size="7.1" text-anchor="middle" fill="#1a1a1a" stroke="#1a1a1a" stroke-width="0.15">4200</text><path d="M1853.67 366.0v2" stroke="#3a3a3a" stroke-width="0.7"/><text x="1853.67" y="377.20" font-size="7.1" text-anchor="middle" fill="#1a1a1a" stroke="#1a1a1a" stroke-width="0.15">5600</text><path d="M1884.10 366.0v2" stroke="#3a3a3a" stroke-width="0.7"/><text x="1884.10" y="377.20" font-size="7.1" text-anchor="middle" fill="#1a1a1a" stroke="#1a1a1a" stroke-width="0.15">7000</text><path d="M1660.4 366.00h-2" stroke="#3a3a3a" stroke-width="0.7"/><text x="1656.20" y="368.60" font-size="7.1" text-anchor="end" fill="#1a1a1a" stroke="#1a1a1a" stroke-width="0.15">0.0</text><path d="M1660.4 333.10h-2" stroke="#3a3a3a" stroke-width="0.7"/><text x="1656.20" y="335.70" font-size="7.1" text-anchor="end" fill="#1a1a1a" stroke="#1a1a1a" stroke-width="0.15">0.4</text><path d="M1660.4 300.20h-2" stroke="#3a3a3a" stroke-width="0.7"/><text x="1656.20" y="302.80" font-size="7.1" text-anchor="end" fill="#1a1a1a" stroke="#1a1a1a" stroke-width="0.15">0.8</text><path d="M1660.4 267.30h-2" stroke="#3a3a3a" stroke-width="0.7"/><text x="1656.20" y="269.90" font-size="7.1" text-anchor="end" fill="#1a1a1a" stroke="#1a1a1a" stroke-width="0.15">1.2</text><text x="1777.95" y="387.30" font-size="7.75" text-anchor="middle" fill="#1a1a1a" stroke="#1a1a1a" stroke-width="0.15">Number of Servers</text><text transform="translate(1638.10 316.65) rotate(-90)" font-size="13" text-anchor="middle" fill="#1a1a1a" stroke="#1a1a1a" stroke-width="0.25">Throughput</text><rect x="1663.60" y="270.60" width="228.70" height="26.5" rx="1.3" fill="#fff" fill-opacity="0.8" stroke="#d0d0d0" stroke-width="0.6"/><path d="M1666.20 277.80h16" stroke="#1f77b4" stroke-width="1.35" stroke-opacity="0.85"/><rect x="1672.21" y="275.81" width="3.99" height="3.99" fill="#1f77b4"/><text x="1688.40" y="280.65" font-size="7.75" fill="#1a1a1a" stroke="#1a1a1a" stroke-width="0.15">EDST</text><path d="M1666.20 289.00h16" stroke="#ff7f0e" stroke-width="1.35" stroke-opacity="0.85"/><circle cx="1674.20" cy="289.00" r="2.09" fill="#ff7f0e"/><text x="1688.40" y="291.85" font-size="7.75" fill="#1a1a1a" stroke="#1a1a1a" stroke-width="0.15">DISJOINT UP-DOWN</text><path d="M1779.10 277.80h16" stroke="#2ca02c" stroke-width="1.35" stroke-opacity="0.85"/><path d="M1787.10 275.62L1789.29 279.55L1784.92 279.55Z" fill="#2ca02c"/><text x="1801.30" y="280.65" font-size="7.75" fill="#1a1a1a" stroke="#1a1a1a" stroke-width="0.15">ECMP</text><path d="M1779.10 289.00h16" stroke="#d62728" stroke-width="1.35" stroke-opacity="0.85"/><polygon points="1787.10,286.72 1787.66,288.23 1789.27,288.30 1788.00,289.29 1788.44,290.84 1787.10,289.95 1785.76,290.84 1786.20,289.29 1784.93,288.30 1786.54,288.23" fill="#d62728"/><text x="1801.30" y="291.85" font-size="7.75" fill="#1a1a1a" stroke="#1a1a1a" stroke-width="0.15">KSP-32</text><path d="M1844.70 277.80h16" stroke="#9467bd" stroke-width="1.35" stroke-opacity="0.85"/><path d="M1851.09 276.19L1854.32 279.42M1851.09 279.42L1854.32 276.19" stroke="#9467bd" stroke-width="1" fill="none"/><text x="1866.90" y="280.65" font-size="7.75" fill="#1a1a1a" stroke="#1a1a1a" stroke-width="0.15">CLOS</text></g>
</svg>
<div class="cap j" style="left:1042.2px;top:403.2px;width:284.5px;">(a)&nbsp; Throughput of the all to all traffic matrix. (The</div>
<div class="cap" style="left:1042.2px;top:418.4px;width:300px;">ECMP and KSP curves overlap together.)</div>
<div class="cap j" style="left:1331.1px;top:403.2px;width:284.5px;">(b)&nbsp; Throughput of uniform random traffic matrices</div>
<div class="cap" style="left:1331.1px;top:418.4px;width:300px;">(averaged over 10 runs).</div>
<div class="cap j" style="left:1620.0px;top:403.2px;width:283.3px;"><span style="letter-spacing:-0.06px">(c) Throughput of the near-worst permutation traffic</span></div>
<div class="cap" style="left:1620.0px;top:418.4px;width:300px;">matrix.</div>
<div class="figcap" style="left:1065.6px;top:458.3px;width:816.2px;"><b>Figure 7:</b> Throughput simulation results under ECMP, EDST, Edge-disjoint Virutal Up-down and 32-way KSP routing.</div>
<!--/FIG7-->
<!--FIG10A-->
<svg id="fig10a" style="left:0;top:0" width="1920" height="1080" viewBox="0 0 1920 1080" font-family="'Liberation Serif',serif" filter="url(#soft)">
<path d="M1457.80 520.00L1478.02 520.00" stroke="#0b1fb5" stroke-width="2.4" fill="none"/><path d="M1484.60 520.00L1475.20 524.70L1478.21 520.00L1475.20 515.30Z" fill="#0b1fb5"/>
<text x="1492" y="524.8" font-size="14.6" fill="#111" stroke="#111" stroke-width="0.25">Original Path</text>
<path d="M1583.50 520.00L1603.42 520.00" stroke="#b31212" stroke-width="2.4" fill="none"/><path d="M1610.00 520.00L1600.60 524.70L1603.61 520.00L1600.60 515.30Z" fill="#b31212"/>
<text x="1615" y="524.8" font-size="14.6" fill="#111" stroke="#111" stroke-width="0.25">Rerouted Path</text>
<rect x="1418.8" y="532.5" width="337.6" height="190.4" rx="20" fill="#f4f4f4" stroke="#a8a8a8" stroke-width="0.8" stroke-dasharray="0.9 1.5"/>
<rect x="1480.2" y="606" width="117.8" height="112.2" fill="#f5f5f5" stroke="#d9d9d9" stroke-width="0.8"/>
<rect x="1612.6" y="606" width="117.4" height="112.2" fill="#f5f5f5" stroke="#d9d9d9" stroke-width="0.8"/>
<path d="M1523.7 559.8L1496.2 623.2M1523.7 559.8L1628.2 623.2M1523.7 559.8L1522.5 623.2M1523.7 559.8L1654.9 623.2M1576.5 559.8L1549.9 623.2M1576.5 559.8L1682.2 623.2M1576.5 559.8L1578.2 623.2M1576.5 559.8L1710.6 623.2M1629.4 559.8L1496.2 623.2M1629.4 559.8L1628.2 623.2M1629.4 559.8L1522.5 623.2M1629.4 559.8L1654.9 623.2M1684.7 559.8L1549.9 623.2M1684.7 559.8L1682.2 623.2M1684.7 559.8L1578.2 623.2M1684.7 559.8L1710.6 623.2M1496.2 627.2L1496.2 657.2M1496.2 627.2L1522.5 657.2M1496.2 627.2L1549.9 657.2M1496.2 627.2L1578.2 657.2M1522.5 627.2L1496.2 657.2M1522.5 627.2L1522.5 657.2M1522.5 627.2L1549.9 657.2M1522.5 627.2L1578.2 657.2M1549.9 627.2L1496.2 657.2M1549.9 627.2L1522.5 657.2M1549.9 627.2L1549.9 657.2M1549.9 627.2L1578.2 657.2M1578.2 627.2L1496.2 657.2M1578.2 627.2L1522.5 657.2M1578.2 627.2L1549.9 657.2M1578.2 627.2L1578.2 657.2M1496.2 661.2V678M1522.5 661.2V678M1549.9 661.2V678M1578.2 661.2V678M1628.2 627.2L1628.2 657.2M1628.2 627.2L1654.9 657.2M1628.2 627.2L1682.2 657.2M1628.2 627.2L1710.6 657.2M1654.9 627.2L1628.2 657.2M1654.9 627.2L1654.9 657.2M1654.9 627.2L1682.2 657.2M1654.9 627.2L1710.6 657.2M1682.2 627.2L1628.2 657.2M1682.2 627.2L1654.9 657.2M1682.2 627.2L1682.2 657.2M1682.2 627.2L1710.6 657.2M1710.6 627.2L1628.2 657.2M1710.6 627.2L1654.9 657.2M1710.6 627.2L1682.2 657.2M1710.6 627.2L1710.6 657.2M1628.2 661.2V678M1654.9 661.2V678M1682.2 661.2V678M1710.6 661.2V678" stroke="#2b2b2b" stroke-width="0.8" fill="none"/>
<path d="M1486.80 682.80L1491.20 677.40H1501.20L1505.60 682.80V712.80H1486.80Z" fill="#b1b5bf"/><rect x="1487.80" y="683.95" width="16.80" height="3.46" rx="1.5" fill="#f1f2f6"/><path d="M1489.50 686.81l0.9 -2.26" stroke="#9ba0ad" stroke-width="0.85"/><path d="M1491.40 686.81l0.9 -2.26" stroke="#9ba0ad" stroke-width="0.85"/><path d="M1493.30 686.81l0.9 -2.26" stroke="#9ba0ad" stroke-width="0.85"/><path d="M1495.20 686.81l0.9 -2.26" stroke="#9ba0ad" stroke-width="0.85"/><path d="M1497.10 686.81l0.9 -2.26" stroke="#9ba0ad" stroke-width="0.85"/><path d="M1499.00 686.81l0.9 -2.26" stroke="#9ba0ad" stroke-width="0.85"/><rect x="1487.80" y="689.91" width="16.80" height="3.46" rx="1.5" fill="#f1f2f6"/><path d="M1489.50 692.77l0.9 -2.26" stroke="#9ba0ad" stroke-width="0.85"/><path d="M1491.40 692.77l0.9 -2.26" stroke="#9ba0ad" stroke-width="0.85"/><path d="M1493.30 692.77l0.9 -2.26" stroke="#9ba0ad" stroke-width="0.85"/><path d="M1495.20 692.77l0.9 -2.26" stroke="#9ba0ad" stroke-width="0.85"/><path d="M1497.10 692.77l0.9 -2.26" stroke="#9ba0ad" stroke-width="0.85"/><path d="M1499.00 692.77l0.9 -2.26" stroke="#9ba0ad" stroke-width="0.85"/><rect x="1487.80" y="695.87" width="16.80" height="3.46" rx="1.5" fill="#f1f2f6"/><path d="M1489.50 698.73l0.9 -2.26" stroke="#9ba0ad" stroke-width="0.85"/><path d="M1491.40 698.73l0.9 -2.26" stroke="#9ba0ad" stroke-width="0.85"/><path d="M1493.30 698.73l0.9 -2.26" stroke="#9ba0ad" stroke-width="0.85"/><path d="M1495.20 698.73l0.9 -2.26" stroke="#9ba0ad" stroke-width="0.85"/><path d="M1497.10 698.73l0.9 -2.26" stroke="#9ba0ad" stroke-width="0.85"/><path d="M1499.00 698.73l0.9 -2.26" stroke="#9ba0ad" stroke-width="0.85"/><rect x="1487.80" y="701.83" width="16.80" height="3.46" rx="1.5" fill="#f1f2f6"/><path d="M1489.50 704.69l0.9 -2.26" stroke="#9ba0ad" stroke-width="0.85"/><path d="M1491.40 704.69l0.9 -2.26" stroke="#9ba0ad" stroke-width="0.85"/><path d="M1493.30 704.69l0.9 -2.26" stroke="#9ba0ad" stroke-width="0.85"/><path d="M1495.20 704.69l0.9 -2.26" stroke="#9ba0ad" stroke-width="0.85"/><path d="M1497.10 704.69l0.9 -2.26" stroke="#9ba0ad" stroke-width="0.85"/><path d="M1499.00 704.69l0.9 -2.26" stroke="#9ba0ad" stroke-width="0.85"/><rect x="1487.80" y="707.79" width="16.80" height="3.46" rx="1.5" fill="#f1f2f6"/><path d="M1489.50 710.65l0.9 -2.26" stroke="#9ba0ad" stroke-width="0.85"/><path d="M1491.40 710.65l0.9 -2.26" stroke="#9ba0ad" stroke-width="0.85"/><path d="M1493.30 710.65l0.9 -2.26" stroke="#9ba0ad" stroke-width="0.85"/><path d="M1495.20 710.65l0.9 -2.26" stroke="#9ba0ad" stroke-width="0.85"/><path d="M1497.10 710.65l0.9 -2.26" stroke="#9ba0ad" stroke-width="0.85"/><path d="M1499.00 710.65l0.9 -2.26" stroke="#9ba0ad" stroke-width="0.85"/>
<path d="M1513.10 682.80L1517.50 677.40H1527.50L1531.90 682.80V712.80H1513.10Z" fill="#b1b5bf"/><rect x="1514.10" y="683.95" width="16.80" height="3.46" rx="1.5" fill="#f1f2f6"/><path d="M1515.80 686.81l0.9 -2.26" stroke="#9ba0ad" stroke-width="0.85"/><path d="M1517.70 686.81l0.9 -2.26" stroke="#9ba0ad" stroke-width="0.85"/><path d="M1519.60 686.81l0.9 -2.26" stroke="#9ba0ad" stroke-width="0.85"/><path d="M1521.50 686.81l0.9 -2.26" stroke="#9ba0ad" stroke-width="0.85"/><path d="M1523.40 686.81l0.9 -2.26" stroke="#9ba0ad" stroke-width="0.85"/><path d="M1525.30 686.81l0.9 -2.26" stroke="#9ba0ad" stroke-width="0.85"/><rect x="1514.10" y="689.91" width="16.80" height="3.46" rx="1.5" fill="#f1f2f6"/><path d="M1515.80 692.77l0.9 -2.26" stroke="#9ba0ad" stroke-width="0.85"/><path d="M1517.70 692.77l0.9 -2.26" stroke="#9ba0ad" stroke-width="0.85"/><path d="M1519.60 692.77l0.9 -2.26" stroke="#9ba0ad" stroke-width="0.85"/><path d="M1521.50 692.77l0.9 -2.26" stroke="#9ba0ad" stroke-width="0.85"/><path d="M1523.40 692.77l0.9 -2.26" stroke="#9ba0ad" stroke-width="0.85"/><path d="M1525.30 692.77l0.9 -2.26" stroke="#9ba0ad" stroke-width="0.85"/><rect x="1514.10" y="695.87" width="16.80" height="3.46" rx="1.5" fill="#f1f2f6"/><path d="M1515.80 698.73l0.9 -2.26" stroke="#9ba0ad" stroke-width="0.85"/><path d="M1517.70 698.73l0.9 -2.26" stroke="#9ba0ad" stroke-width="0.85"/><path d="M1519.60 698.73l0.9 -2.26" stroke="#9ba0ad" stroke-width="0.85"/><path d="M1521.50 698.73l0.9 -2.26" stroke="#9ba0ad" stroke-width="0.85"/><path d="M1523.40 698.73l0.9 -2.26" stroke="#9ba0ad" stroke-width="0.85"/><path d="M1525.30 698.73l0.9 -2.26" stroke="#9ba0ad" stroke-width="0.85"/><rect x="1514.10" y="701.83" width="16.80" height="3.46" rx="1.5" fill="#f1f2f6"/><path d="M1515.80 704.69l0.9 -2.26" stroke="#9ba0ad" stroke-width="0.85"/><path d="M1517.70 704.69l0.9 -2.26" stroke="#9ba0ad" stroke-width="0.85"/><path d="M1519.60 704.69l0.9 -2.26" stroke="#9ba0ad" stroke-width="0.85"/><path d="M1521.50 704.69l0.9 -2.26" stroke="#9ba0ad" stroke-width="0.85"/><path d="M1523.40 704.69l0.9 -2.26" stroke="#9ba0ad" stroke-width="0.85"/><path d="M1525.30 704.69l0.9 -2.26" stroke="#9ba0ad" stroke-width="0.85"/><rect x="1514.10" y="707.79" width="16.80" height="3.46" rx="1.5" fill="#f1f2f6"/><path d="M1515.80 710.65l0.9 -2.26" stroke="#9ba0ad" stroke-width="0.85"/><path d="M1517.70 710.65l0.9 -2.26" stroke="#9ba0ad" stroke-width="0.85"/><path d="M1519.60 710.65l0.9 -2.26" stroke="#9ba0ad" stroke-width="0.85"/><path d="M1521.50 710.65l0.9 -2.26" stroke="#9ba0ad" stroke-width="0.85"/><path d="M1523.40 710.65l0.9 -2.26" stroke="#9ba0ad" stroke-width="0.85"/><path d="M1525.30 710.65l0.9 -2.26" stroke="#9ba0ad" stroke-width="0.85"/>
<path d="M1540.50 682.80L1544.90 677.40H1554.90L1559.30 682.80V712.80H1540.50Z" fill="#b1b5bf"/><rect x="1541.50" y="683.95" width="16.80" height="3.46" rx="1.5" fill="#f1f2f6"/><path d="M1543.20 686.81l0.9 -2.26" stroke="#9ba0ad" stroke-width="0.85"/><path d="M1545.10 686.81l0.9 -2.26" stroke="#9ba0ad" stroke-width="0.85"/><path d="M1547.00 686.81l0.9 -2.26" stroke="#9ba0ad" stroke-width="0.85"/><path d="M1548.90 686.81l0.9 -2.26" stroke="#9ba0ad" stroke-width="0.85"/><path d="M1550.80 686.81l0.9 -2.26" stroke="#9ba0ad" stroke-width="0.85"/><path d="M1552.70 686.81l0.9 -2.26" stroke="#9ba0ad" stroke-width="0.85"/><rect x="1541.50" y="689.91" width="16.80" height="3.46" rx="1.5" fill="#f1f2f6"/><path d="M1543.20 692.77l0.9 -2.26" stroke="#9ba0ad" stroke-width="0.85"/><path d="M1545.10 692.77l0.9 -2.26" stroke="#9ba0ad" stroke-width="0.85"/><path d="M1547.00 692.77l0.9 -2.26" stroke="#9ba0ad" stroke-width="0.85"/><path d="M1548.90 692.77l0.9 -2.26" stroke="#9ba0ad" stroke-width="0.85"/><path d="M1550.80 692.77l0.9 -2.26" stroke="#9ba0ad" stroke-width="0.85"/><path d="M1552.70 692.77l0.9 -2.26" stroke="#9ba0ad" stroke-width="0.85"/><rect x="1541.50" y="695.87" width="16.80" height="3.46" rx="1.5" fill="#f1f2f6"/><path d="M1543.20 698.73l0.9 -2.26" stroke="#9ba0ad" stroke-width="0.85"/><path d="M1545.10 698.73l0.9 -2.26" stroke="#9ba0ad" stroke-width="0.85"/><path d="M1547.00 698.73l0.9 -2.26" stroke="#9ba0ad" stroke-width="0.85"/><path d="M1548.90 698.73l0.9 -2.26" stroke="#9ba0ad" stroke-width="0.85"/><path d="M1550.80 698.73l0.9 -2.26" stroke="#9ba0ad" stroke-width="0.85"/><path d="M1552.70 698.73l0.9 -2.26" stroke="#9ba0ad" stroke-width="0.85"/><rect x="1541.50" y="701.83" width="16.80" height="3.46" rx="1.5" fill="#f1f2f6"/><path d="M1543.20 704.69l0.9 -2.26" stroke="#9ba0ad" stroke-width="0.85"/><path d="M1545.10 704.69l0.9 -2.26" stroke="#9ba0ad" stroke-width="0.85"/><path d="M1547.00 704.69l0.9 -2.26" stroke="#9ba0ad" stroke-width="0.85"/><path d="M1548.90 704.69l0.9 -2.26" stroke="#9ba0ad" stroke-width="0.85"/><path d="M1550.80 704.69l0.9 -2.26" stroke="#9ba0ad" stroke-width="0.85"/><path d="M1552.70 704.69l0.9 -2.26" stroke="#9ba0ad" stroke-width="0.85"/><rect x="1541.50" y="707.79" width="16.80" height="3.46" rx="1.5" fill="#f1f2f6"/><path d="M1543.20 710.65l0.9 -2.26" stroke="#9ba0ad" stroke-width="0.85"/><path d="M1545.10 710.65l0.9 -2.26" stroke="#9ba0ad" stroke-width="0.85"/><path d="M1547.00 710.65l0.9 -2.26" stroke="#9ba0ad" stroke-width="0.85"/><path d="M1548.90 710.65l0.9 -2.26" stroke="#9ba0ad" stroke-width="0.85"/><path d="M1550.80 710.65l0.9 -2.26" stroke="#9ba0ad" stroke-width="0.85"/><path d="M1552.70 710.65l0.9 -2.26" stroke="#9ba0ad" stroke-width="0.85"/>
<path d="M1568.80 682.80L1573.20 677.40H1583.20L1587.60 682.80V712.80H1568.80Z" fill="#b1b5bf"/><rect x="1569.80" y="683.95" width="16.80" height="3.46" rx="1.5" fill="#f1f2f6"/><path d="M1571.50 686.81l0.9 -2.26" stroke="#9ba0ad" stroke-width="0.85"/><path d="M1573.40 686.81l0.9 -2.26" stroke="#9ba0ad" stroke-width="0.85"/><path d="M1575.30 686.81l0.9 -2.26" stroke="#9ba0ad" stroke-width="0.85"/><path d="M1577.20 686.81l0.9 -2.26" stroke="#9ba0ad" stroke-width="0.85"/><path d="M1579.10 686.81l0.9 -2.26" stroke="#9ba0ad" stroke-width="0.85"/><path d="M1581.00 686.81l0.9 -2.26" stroke="#9ba0ad" stroke-width="0.85"/><rect x="1569.80" y="689.91" width="16.80" height="3.46" rx="1.5" fill="#f1f2f6"/><path d="M1571.50 692.77l0.9 -2.26" stroke="#9ba0ad" stroke-width="0.85"/><path d="M1573.40 692.77l0.9 -2.26" stroke="#9ba0ad" stroke-width="0.85"/><path d="M1575.30 692.77l0.9 -2.26" stroke="#9ba0ad" stroke-width="0.85"/><path d="M1577.20 692.77l0.9 -2.26" stroke="#9ba0ad" stroke-width="0.85"/><path d="M1579.10 692.77l0.9 -2.26" stroke="#9ba0ad" stroke-width="0.85"/><path d="M1581.00 692.77l0.9 -2.26" stroke="#9ba0ad" stroke-width="0.85"/><rect x="1569.80" y="695.87" width="16.80" height="3.46" rx="1.5" fill="#f1f2f6"/><path d="M1571.50 698.73l0.9 -2.26" stroke="#9ba0ad" stroke-width="0.85"/><path d="M1573.40 698.73l0.9 -2.26" stroke="#9ba0ad" stroke-width="0.85"/><path d="M1575.30 698.73l0.9 -2.26" stroke="#9ba0ad" stroke-width="0.85"/><path d="M1577.20 698.73l0.9 -2.26" stroke="#9ba0ad" stroke-width="0.85"/><path d="M1579.10 698.73l0.9 -2.26" stroke="#9ba0ad" stroke-width="0.85"/><path d="M1581.00 698.73l0.9 -2.26" stroke="#9ba0ad" stroke-width="0.85"/><rect x="1569.80" y="701.83" width="16.80" height="3.46" rx="1.5" fill="#f1f2f6"/><path d="M1571.50 704.69l0.9 -2.26" stroke="#9ba0ad" stroke-width="0.85"/><path d="M1573.40 704.69l0.9 -2.26" stroke="#9ba0ad" stroke-width="0.85"/><path d="M1575.30 704.69l0.9 -2.26" stroke="#9ba0ad" stroke-width="0.85"/><path d="M1577.20 704.69l0.9 -2.26" stroke="#9ba0ad" stroke-width="0.85"/><path d="M1579.10 704.69l0.9 -2.26" stroke="#9ba0ad" stroke-width="0.85"/><path d="M1581.00 704.69l0.9 -2.26" stroke="#9ba0ad" stroke-width="0.85"/><rect x="1569.80" y="707.79" width="16.80" height="3.46" rx="1.5" fill="#f1f2f6"/><path d="M1571.50 710.65l0.9 -2.26" stroke="#9ba0ad" stroke-width="0.85"/><path d="M1573.40 710.65l0.9 -2.26" stroke="#9ba0ad" stroke-width="0.85"/><path d="M1575.30 710.65l0.9 -2.26" stroke="#9ba0ad" stroke-width="0.85"/><path d="M1577.20 710.65l0.9 -2.26" stroke="#9ba0ad" stroke-width="0.85"/><path d="M1579.10 710.65l0.9 -2.26" stroke="#9ba0ad" stroke-width="0.85"/><path d="M1581.00 710.65l0.9 -2.26" stroke="#9ba0ad" stroke-width="0.85"/>
<path d="M1618.80 682.80L1623.20 677.40H1633.20L1637.60 682.80V712.80H1618.80Z" fill="#b1b5bf"/><rect x="1619.80" y="683.95" width="16.80" height="3.46" rx="1.5" fill="#f1f2f6"/><path d="M1621.50 686.81l0.9 -2.26" stroke="#9ba0ad" stroke-width="0.85"/><path d="M1623.40 686.81l0.9 -2.26" stroke="#9ba0ad" stroke-width="0.85"/><path d="M1625.30 686.81l0.9 -2.26" stroke="#9ba0ad" stroke-width="0.85"/><path d="M1627.20 686.81l0.9 -2.26" stroke="#9ba0ad" stroke-width="0.85"/><path d="M1629.10 686.81l0.9 -2.26" stroke="#9ba0ad" stroke-width="0.85"/><path d="M1631.00 686.81l0.9 -2.26" stroke="#9ba0ad" stroke-width="0.85"/><rect x="1619.80" y="689.91" width="16.80" height="3.46" rx="1.5" fill="#f1f2f6"/><path d="M1621.50 692.77l0.9 -2.26" stroke="#9ba0ad" stroke-width="0.85"/><path d="M1623.40 692.77l0.9 -2.26" stroke="#9ba0ad" stroke-width="0.85"/><path d="M1625.30 692.77l0.9 -2.26" stroke="#9ba0ad" stroke-width="0.85"/><path d="M1627.20 692.77l0.9 -2.26" stroke="#9ba0ad" stroke-width="0.85"/><path d="M1629.10 692.77l0.9 -2.26" stroke="#9ba0ad" stroke-width="0.85"/><path d="M1631.00 692.77l0.9 -2.26" stroke="#9ba0ad" stroke-width="0.85"/><rect x="1619.80" y="695.87" width="16.80" height="3.46" rx="1.5" fill="#f1f2f6"/><path d="M1621.50 698.73l0.9 -2.26" stroke="#9ba0ad" stroke-width="0.85"/><path d="M1623.40 698.73l0.9 -2.26" stroke="#9ba0ad" stroke-width="0.85"/><path d="M1625.30 698.73l0.9 -2.26" stroke="#9ba0ad" stroke-width="0.85"/><path d="M1627.20 698.73l0.9 -2.26" stroke="#9ba0ad" stroke-width="0.85"/><path d="M1629.10 698.73l0.9 -2.26" stroke="#9ba0ad" stroke-width="0.85"/><path d="M1631.00 698.73l0.9 -2.26" stroke="#9ba0ad" stroke-width="0.85"/><rect x="1619.80" y="701.83" width="16.80" height="3.46" rx="1.5" fill="#f1f2f6"/><path d="M1621.50 704.69l0.9 -2.26" stroke="#9ba0ad" stroke-width="0.85"/><path d="M1623.40 704.69l0.9 -2.26" stroke="#9ba0ad" stroke-width="0.85"/><path d="M1625.30 704.69l0.9 -2.26" stroke="#9ba0ad" stroke-width="0.85"/><path d="M1627.20 704.69l0.9 -2.26" stroke="#9ba0ad" stroke-width="0.85"/><path d="M1629.10 704.69l0.9 -2.26" stroke="#9ba0ad" stroke-width="0.85"/><path d="M1631.00 704.69l0.9 -2.26" stroke="#9ba0ad" stroke-width="0.85"/><rect x="1619.80" y="707.79" width="16.80" height="3.46" rx="1.5" fill="#f1f2f6"/><path d="M1621.50 710.65l0.9 -2.26" stroke="#9ba0ad" stroke-width="0.85"/><path d="M1623.40 710.65l0.9 -2.26" stroke="#9ba0ad" stroke-width="0.85"/><path d="M1625.30 710.65l0.9 -2.26" stroke="#9ba0ad" stroke-width="0.85"/><path d="M1627.20 710.65l0.9 -2.26" stroke="#9ba0ad" stroke-width="0.85"/><path d="M1629.10 710.65l0.9 -2.26" stroke="#9ba0ad" stroke-width="0.85"/><path d="M1631.00 710.65l0.9 -2.26" stroke="#9ba0ad" stroke-width="0.85"/>
<path d="M1645.50 682.80L1649.90 677.40H1659.90L1664.30 682.80V712.80H1645.50Z" fill="#b1b5bf"/><rect x="1646.50" y="683.95" width="16.80" height="3.46" rx="1.5" fill="#f1f2f6"/><path d="M1648.20 686.81l0.9 -2.26" stroke="#9ba0ad" stroke-width="0.85"/><path d="M1650.10 686.81l0.9 -2.26" stroke="#9ba0ad" stroke-width="0.85"/><path d="M1652.00 686.81l0.9 -2.26" stroke="#9ba0ad" stroke-width="0.85"/><path d="M1653.90 686.81l0.9 -2.26" stroke="#9ba0ad" stroke-width="0.85"/><path d="M1655.80 686.81l0.9 -2.26" stroke="#9ba0ad" stroke-width="0.85"/><path d="M1657.70 686.81l0.9 -2.26" stroke="#9ba0ad" stroke-width="0.85"/><rect x="1646.50" y="689.91" width="16.80" height="3.46" rx="1.5" fill="#f1f2f6"/><path d="M1648.20 692.77l0.9 -2.26" stroke="#9ba0ad" stroke-width="0.85"/><path d="M1650.10 692.77l0.9 -2.26" stroke="#9ba0ad" stroke-width="0.85"/><path d="M1652.00 692.77l0.9 -2.26" stroke="#9ba0ad" stroke-width="0.85"/><path d="M1653.90 692.77l0.9 -2.26" stroke="#9ba0ad" stroke-width="0.85"/><path d="M1655.80 692.77l0.9 -2.26" stroke="#9ba0ad" stroke-width="0.85"/><path d="M1657.70 692.77l0.9 -2.26" stroke="#9ba0ad" stroke-width="0.85"/><rect x="1646.50" y="695.87" width="16.80" height="3.46" rx="1.5" fill="#f1f2f6"/><path d="M1648.20 698.73l0.9 -2.26" stroke="#9ba0ad" stroke-width="0.85"/><path d="M1650.10 698.73l0.9 -2.26" stroke="#9ba0ad" stroke-width="0.85"/><path d="M1652.00 698.73l0.9 -2.26" stroke="#9ba0ad" stroke-width="0.85"/><path d="M1653.90 698.73l0.9 -2.26" stroke="#9ba0ad" stroke-width="0.85"/><path d="M1655.80 698.73l0.9 -2.26" stroke="#9ba0ad" stroke-width="0.85"/><path d="M1657.70 698.73l0.9 -2.26" stroke="#9ba0ad" stroke-width="0.85"/><rect x="1646.50" y="701.83" width="16.80" height="3.46" rx="1.5" fill="#f1f2f6"/><path d="M1648.20 704.69l0.9 -2.26" stroke="#9ba0ad" stroke-width="0.85"/><path d="M1650.10 704.69l0.9 -2.26" stroke="#9ba0ad" stroke-width="0.85"/><path d="M1652.00 704.69l0.9 -2.26" stroke="#9ba0ad" stroke-width="0.85"/><path d="M1653.90 704.69l0.9 -2.26" stroke="#9ba0ad" stroke-width="0.85"/><path d="M1655.80 704.69l0.9 -2.26" stroke="#9ba0ad" stroke-width="0.85"/><path d="M1657.70 704.69l0.9 -2.26" stroke="#9ba0ad" stroke-width="0.85"/><rect x="1646.50" y="707.79" width="16.80" height="3.46" rx="1.5" fill="#f1f2f6"/><path d="M1648.20 710.65l0.9 -2.26" stroke="#9ba0ad" stroke-width="0.85"/><path d="M1650.10 710.65l0.9 -2.26" stroke="#9ba0ad" stroke-width="0.85"/><path d="M1652.00 710.65l0.9 -2.26" stroke="#9ba0ad" stroke-width="0.85"/><path d="M1653.90 710.65l0.9 -2.26" stroke="#9ba0ad" stroke-width="0.85"/><path d="M1655.80 710.65l0.9 -2.26" stroke="#9ba0ad" stroke-width="0.85"/><path d="M1657.70 710.65l0.9 -2.26" stroke="#9ba0ad" stroke-width="0.85"/>
<path d="M1672.80 682.80L1677.20 677.40H1687.20L1691.60 682.80V712.80H1672.80Z" fill="#b1b5bf"/><rect x="1673.80" y="683.95" width="16.80" height="3.46" rx="1.5" fill="#f1f2f6"/><path d="M1675.50 686.81l0.9 -2.26" stroke="#9ba0ad" stroke-width="0.85"/><path d="M1677.40 686.81l0.9 -2.26" stroke="#9ba0ad" stroke-width="0.85"/><path d="M1679.30 686.81l0.9 -2.26" stroke="#9ba0ad" stroke-width="0.85"/><path d="M1681.20 686.81l0.9 -2.26" stroke="#9ba0ad" stroke-width="0.85"/><path d="M1683.10 686.81l0.9 -2.26" stroke="#9ba0ad" stroke-width="0.85"/><path d="M1685.00 686.81l0.9 -2.26" stroke="#9ba0ad" stroke-width="0.85"/><rect x="1673.80" y="689.91" width="16.80" height="3.46" rx="1.5" fill="#f1f2f6"/><path d="M1675.50 692.77l0.9 -2.26" stroke="#9ba0ad" stroke-width="0.85"/><path d="M1677.40 692.77l0.9 -2.26" stroke="#9ba0ad" stroke-width="0.85"/><path d="M1679.30 692.77l0.9 -2.26" stroke="#9ba0ad" stroke-width="0.85"/><path d="M1681.20 692.77l0.9 -2.26" stroke="#9ba0ad" stroke-width="0.85"/><path d="M1683.10 692.77l0.9 -2.26" stroke="#9ba0ad" stroke-width="0.85"/><path d="M1685.00 692.77l0.9 -2.26" stroke="#9ba0ad" stroke-width="0.85"/><rect x="1673.80" y="695.87" width="16.80" height="3.46" rx="1.5" fill="#f1f2f6"/><path d="M1675.50 698.73l0.9 -2.26" stroke="#9ba0ad" stroke-width="0.85"/><path d="M1677.40 698.73l0.9 -2.26" stroke="#9ba0ad" stroke-width="0.85"/><path d="M1679.30 698.73l0.9 -2.26" stroke="#9ba0ad" stroke-width="0.85"/><path d="M1681.20 698.73l0.9 -2.26" stroke="#9ba0ad" stroke-width="0.85"/><path d="M1683.10 698.73l0.9 -2.26" stroke="#9ba0ad" stroke-width="0.85"/><path d="M1685.00 698.73l0.9 -2.26" stroke="#9ba0ad" stroke-width="0.85"/><rect x="1673.80" y="701.83" width="16.80" height="3.46" rx="1.5" fill="#f1f2f6"/><path d="M1675.50 704.69l0.9 -2.26" stroke="#9ba0ad" stroke-width="0.85"/><path d="M1677.40 704.69l0.9 -2.26" stroke="#9ba0ad" stroke-width="0.85"/><path d="M1679.30 704.69l0.9 -2.26" stroke="#9ba0ad" stroke-width="0.85"/><path d="M1681.20 704.69l0.9 -2.26" stroke="#9ba0ad" stroke-width="0.85"/><path d="M1683.10 704.69l0.9 -2.26" stroke="#9ba0ad" stroke-width="0.85"/><path d="M1685.00 704.69l0.9 -2.26" stroke="#9ba0ad" stroke-width="0.85"/><rect x="1673.80" y="707.79" width="16.80" height="3.46" rx="1.5" fill="#f1f2f6"/><path d="M1675.50 710.65l0.9 -2.26" stroke="#9ba0ad" stroke-width="0.85"/><path d="M1677.40 710.65l0.9 -2.26" stroke="#9ba0ad" stroke-width="0.85"/><path d="M1679.30 710.65l0.9 -2.26" stroke="#9ba0ad" stroke-width="0.85"/><path d="M1681.20 710.65l0.9 -2.26" stroke="#9ba0ad" stroke-width="0.85"/><path d="M1683.10 710.65l0.9 -2.26" stroke="#9ba0ad" stroke-width="0.85"/><path d="M1685.00 710.65l0.9 -2.26" stroke="#9ba0ad" stroke-width="0.85"/>
<path d="M1701.20 682.80L1705.60 677.40H1715.60L1720.00 682.80V712.80H1701.20Z" fill="#b1b5bf"/><rect x="1702.20" y="683.95" width="16.80" height="3.46" rx="1.5" fill="#f1f2f6"/><path d="M1703.90 686.81l0.9 -2.26" stroke="#9ba0ad" stroke-width="0.85"/><path d="M1705.80 686.81l0.9 -2.26" stroke="#9ba0ad" stroke-width="0.85"/><path d="M1707.70 686.81l0.9 -2.26" stroke="#9ba0ad" stroke-width="0.85"/><path d="M1709.60 686.81l0.9 -2.26" stroke="#9ba0ad" stroke-width="0.85"/><path d="M1711.50 686.81l0.9 -2.26" stroke="#9ba0ad" stroke-width="0.85"/><path d="M1713.40 686.81l0.9 -2.26" stroke="#9ba0ad" stroke-width="0.85"/><rect x="1702.20" y="689.91" width="16.80" height="3.46" rx="1.5" fill="#f1f2f6"/><path d="M1703.90 692.77l0.9 -2.26" stroke="#9ba0ad" stroke-width="0.85"/><path d="M1705.80 692.77l0.9 -2.26" stroke="#9ba0ad" stroke-width="0.85"/><path d="M1707.70 692.77l0.9 -2.26" stroke="#9ba0ad" stroke-width="0.85"/><path d="M1709.60 692.77l0.9 -2.26" stroke="#9ba0ad" stroke-width="0.85"/><path d="M1711.50 692.77l0.9 -2.26" stroke="#9ba0ad" stroke-width="0.85"/><path d="M1713.40 692.77l0.9 -2.26" stroke="#9ba0ad" stroke-width="0.85"/><rect x="1702.20" y="695.87" width="16.80" height="3.46" rx="1.5" fill="#f1f2f6"/><path d="M1703.90 698.73l0.9 -2.26" stroke="#9ba0ad" stroke-width="0.85"/><path d="M1705.80 698.73l0.9 -2.26" stroke="#9ba0ad" stroke-width="0.85"/><path d="M1707.70 698.73l0.9 -2.26" stroke="#9ba0ad" stroke-width="0.85"/><path d="M1709.60 698.73l0.9 -2.26" stroke="#9ba0ad" stroke-width="0.85"/><path d="M1711.50 698.73l0.9 -2.26" stroke="#9ba0ad" stroke-width="0.85"/><path d="M1713.40 698.73l0.9 -2.26" stroke="#9ba0ad" stroke-width="0.85"/><rect x="1702.20" y="701.83" width="16.80" height="3.46" rx="1.5" fill="#f1f2f6"/><path d="M1703.90 704.69l0.9 -2.26" stroke="#9ba0ad" stroke-width="0.85"/><path d="M1705.80 704.69l0.9 -2.26" stroke="#9ba0ad" stroke-width="0.85"/><path d="M1707.70 704.69l0.9 -2.26" stroke="#9ba0ad" stroke-width="0.85"/><path d="M1709.60 704.69l0.9 -2.26" stroke="#9ba0ad" stroke-width="0.85"/><path d="M1711.50 704.69l0.9 -2.26" stroke="#9ba0ad" stroke-width="0.85"/><path d="M1713.40 704.69l0.9 -2.26" stroke="#9ba0ad" stroke-width="0.85"/><rect x="1702.20" y="707.79" width="16.80" height="3.46" rx="1.5" fill="#f1f2f6"/><path d="M1703.90 710.65l0.9 -2.26" stroke="#9ba0ad" stroke-width="0.85"/><path d="M1705.80 710.65l0.9 -2.26" stroke="#9ba0ad" stroke-width="0.85"/><path d="M1707.70 710.65l0.9 -2.26" stroke="#9ba0ad" stroke-width="0.85"/><path d="M1709.60 710.65l0.9 -2.26" stroke="#9ba0ad" stroke-width="0.85"/><path d="M1711.50 710.65l0.9 -2.26" stroke="#9ba0ad" stroke-width="0.85"/><path d="M1713.40 710.65l0.9 -2.26" stroke="#9ba0ad" stroke-width="0.85"/>
<path d="M1578.20 678.00L1578.20 669.55" stroke="#0b1fb5" stroke-width="2.7" fill="none"/><path d="M1578.20 663.60L1582.30 672.10L1578.20 669.38L1574.10 672.10Z" fill="#0b1fb5"/>
<path d="M1578.20 656.00L1578.20 635.95" stroke="#0b1fb5" stroke-width="2.7" fill="none"/><path d="M1578.20 630.00L1582.30 638.50L1578.20 635.78L1574.10 638.50Z" fill="#0b1fb5"/>
<path d="M1585.90 620.20L1672.36 565.35" stroke="#0b1fb5" stroke-width="2.7" fill="none"/><path d="M1677.80 561.90L1672.33 570.46L1672.52 565.25L1667.73 563.20Z" fill="#0b1fb5"/>
<path d="M1684.70 561.50L1683.10 613.36" stroke="#0b1fb5" stroke-width="2.7" fill="none"/><path d="M1682.90 619.80L1678.89 610.47L1683.09 613.55L1687.48 610.74Z" fill="#0b1fb5"/>
<path d="M1685.80 629.50L1707.70 654.00" stroke="#0b1fb5" stroke-width="2.6" fill="none" stroke-dasharray="2.3 2.3"/>
<path d="M1675.60 620.20L1589.96 566.71" stroke="#b31212" stroke-width="2.7" fill="none"/><path d="M1584.50 563.30L1594.58 564.53L1589.81 566.61L1590.03 571.82Z" fill="#b31212"/>
<path d="M1587.50 562.50L1696.25 617.40" stroke="#b31212" stroke-width="2.7" fill="none"/><path d="M1702.00 620.30L1691.85 619.99L1696.42 617.48L1695.72 612.32Z" fill="#b31212"/>
<path d="M1711.40 629.50L1711.40 649.05" stroke="#b31212" stroke-width="2.7" fill="none"/><path d="M1711.40 655.00L1707.30 646.50L1711.40 649.22L1715.50 646.50Z" fill="#b31212"/>
<path d="M1711.40 663.00L1711.40 670.85" stroke="#b31212" stroke-width="2.7" fill="none"/><path d="M1711.40 676.80L1707.30 668.30L1711.40 671.02L1715.50 668.30Z" fill="#b31212"/>
<path d="M1514.10 557.50L1524.10 559.70V562.10L1514.40 559.30Z" fill="#8f929b" stroke="#8f929b" stroke-width="0.4" stroke-linejoin="round"/><path d="M1524.10 559.70L1533.30 556.80V559.20L1524.10 562.10Z" fill="#70737b" stroke="#70737b" stroke-width="0.4" stroke-linejoin="round"/><path d="M1514.10 557.50L1519.10 554.80L1524.10 553.60L1530.00 555.60L1533.30 556.80L1524.10 559.70Z" fill="#b7bac2" stroke="#a0a3ab" stroke-width="0.5" stroke-linejoin="round"/><path d="M1519.70 557.40L1527.10 555.90" stroke="#d9dbe0" stroke-width="0.9"/>
<path d="M1566.90 557.50L1576.90 559.70V562.10L1567.20 559.30Z" fill="#8f929b" stroke="#8f929b" stroke-width="0.4" stroke-linejoin="round"/><path d="M1576.90 559.70L1586.10 556.80V559.20L1576.90 562.10Z" fill="#70737b" stroke="#70737b" stroke-width="0.4" stroke-linejoin="round"/><path d="M1566.90 557.50L1571.90 554.80L1576.90 553.60L1582.80 555.60L1586.10 556.80L1576.90 559.70Z" fill="#b7bac2" stroke="#a0a3ab" stroke-width="0.5" stroke-linejoin="round"/><path d="M1572.50 557.40L1579.90 555.90" stroke="#d9dbe0" stroke-width="0.9"/>
<path d="M1619.80 557.50L1629.80 559.70V562.10L1620.10 559.30Z" fill="#8f929b" stroke="#8f929b" stroke-width="0.4" stroke-linejoin="round"/><path d="M1629.80 559.70L1639.00 556.80V559.20L1629.80 562.10Z" fill="#70737b" stroke="#70737b" stroke-width="0.4" stroke-linejoin="round"/><path d="M1619.80 557.50L1624.80 554.80L1629.80 553.60L1635.70 555.60L1639.00 556.80L1629.80 559.70Z" fill="#b7bac2" stroke="#a0a3ab" stroke-width="0.5" stroke-linejoin="round"/><path d="M1625.40 557.40L1632.80 555.90" stroke="#d9dbe0" stroke-width="0.9"/>
<path d="M1675.10 557.50L1685.10 559.70V562.10L1675.40 559.30Z" fill="#8f929b" stroke="#8f929b" stroke-width="0.4" stroke-linejoin="round"/><path d="M1685.10 559.70L1694.30 556.80V559.20L1685.10 562.10Z" fill="#70737b" stroke="#70737b" stroke-width="0.4" stroke-linejoin="round"/><path d="M1675.10 557.50L1680.10 554.80L1685.10 553.60L1691.00 555.60L1694.30 556.80L1685.10 559.70Z" fill="#b7bac2" stroke="#a0a3ab" stroke-width="0.5" stroke-linejoin="round"/><path d="M1680.70 557.40L1688.10 555.90" stroke="#d9dbe0" stroke-width="0.9"/>
<path d="M1486.60 624.90L1496.60 627.10V629.50L1486.90 626.70Z" fill="#8f929b" stroke="#8f929b" stroke-width="0.4" stroke-linejoin="round"/><path d="M1496.60 627.10L1505.80 624.20V626.60L1496.60 629.50Z" fill="#70737b" stroke="#70737b" stroke-width="0.4" stroke-linejoin="round"/><path d="M1486.60 624.90L1491.60 622.20L1496.60 621.00L1502.50 623.00L1505.80 624.20L1496.60 627.10Z" fill="#b7bac2" stroke="#a0a3ab" stroke-width="0.5" stroke-linejoin="round"/><path d="M1492.20 624.80L1499.60 623.30" stroke="#d9dbe0" stroke-width="0.9"/>
<path d="M1486.60 658.90L1496.60 661.10V663.50L1486.90 660.70Z" fill="#8f929b" stroke="#8f929b" stroke-width="0.4" stroke-linejoin="round"/><path d="M1496.60 661.10L1505.80 658.20V660.60L1496.60 663.50Z" fill="#70737b" stroke="#70737b" stroke-width="0.4" stroke-linejoin="round"/><path d="M1486.60 658.90L1491.60 656.20L1496.60 655.00L1502.50 657.00L1505.80 658.20L1496.60 661.10Z" fill="#b7bac2" stroke="#a0a3ab" stroke-width="0.5" stroke-linejoin="round"/><path d="M1492.20 658.80L1499.60 657.30" stroke="#d9dbe0" stroke-width="0.9"/>
<path d="M1512.90 624.90L1522.90 627.10V629.50L1513.20 626.70Z" fill="#8f929b" stroke="#8f929b" stroke-width="0.4" stroke-linejoin="round"/><path d="M1522.90 627.10L1532.10 624.20V626.60L1522.90 629.50Z" fill="#70737b" stroke="#70737b" stroke-width="0.4" stroke-linejoin="round"/><path d="M1512.90 624.90L1517.90 622.20L1522.90 621.00L1528.80 623.00L1532.10 624.20L1522.90 627.10Z" fill="#b7bac2" stroke="#a0a3ab" stroke-width="0.5" stroke-linejoin="round"/><path d="M1518.50 624.80L1525.90 623.30" stroke="#d9dbe0" stroke-width="0.9"/>
<path d="M1512.90 658.90L1522.90 661.10V663.50L1513.20 660.70Z" fill="#8f929b" stroke="#8f929b" stroke-width="0.4" stroke-linejoin="round"/><path d="M1522.90 661.10L1532.10 658.20V660.60L1522.90 663.50Z" fill="#70737b" stroke="#70737b" stroke-width="0.4" stroke-linejoin="round"/><path d="M1512.90 658.90L1517.90 656.20L1522.90 655.00L1528.80 657.00L1532.10 658.20L1522.90 661.10Z" fill="#b7bac2" stroke="#a0a3ab" stroke-width="0.5" stroke-linejoin="round"/><path d="M1518.50 658.80L1525.90 657.30" stroke="#d9dbe0" stroke-width="0.9"/>
<path d="M1540.30 624.90L1550.30 627.10V629.50L1540.60 626.70Z" fill="#8f929b" stroke="#8f929b" stroke-width="0.4" stroke-linejoin="round"/><path d="M1550.30 627.10L1559.50 624.20V626.60L1550.30 629.50Z" fill="#70737b" stroke="#70737b" stroke-width="0.4" stroke-linejoin="round"/><path d="M1540.30 624.90L1545.30 622.20L1550.30 621.00L1556.20 623.00L1559.50 624.20L1550.30 627.10Z" fill="#b7bac2" stroke="#a0a3ab" stroke-width="0.5" stroke-linejoin="round"/><path d="M1545.90 624.80L1553.30 623.30" stroke="#d9dbe0" stroke-width="0.9"/>
<path d="M1540.30 658.90L1550.30 661.10V663.50L1540.60 660.70Z" fill="#8f929b" stroke="#8f929b" stroke-width="0.4" stroke-linejoin="round"/><path d="M1550.30 661.10L1559.50 658.20V660.60L1550.30 663.50Z" fill="#70737b" stroke="#70737b" stroke-width="0.4" stroke-linejoin="round"/><path d="M1540.30 658.90L1545.30 656.20L1550.30 655.00L1556.20 657.00L1559.50 658.20L1550.30 661.10Z" fill="#b7bac2" stroke="#a0a3ab" stroke-width="0.5" stroke-linejoin="round"/><path d="M1545.90 658.80L1553.30 657.30" stroke="#d9dbe0" stroke-width="0.9"/>
<path d="M1568.60 624.90L1578.60 627.10V629.50L1568.90 626.70Z" fill="#8f929b" stroke="#8f929b" stroke-width="0.4" stroke-linejoin="round"/><path d="M1578.60 627.10L1587.80 624.20V626.60L1578.60 629.50Z" fill="#70737b" stroke="#70737b" stroke-width="0.4" stroke-linejoin="round"/><path d="M1568.60 624.90L1573.60 622.20L1578.60 621.00L1584.50 623.00L1587.80 624.20L1578.60 627.10Z" fill="#b7bac2" stroke="#a0a3ab" stroke-width="0.5" stroke-linejoin="round"/><path d="M1574.20 624.80L1581.60 623.30" stroke="#d9dbe0" stroke-width="0.9"/>
<path d="M1568.60 658.90L1578.60 661.10V663.50L1568.90 660.70Z" fill="#8f929b" stroke="#8f929b" stroke-width="0.4" stroke-linejoin="round"/><path d="M1578.60 661.10L1587.80 658.20V660.60L1578.60 663.50Z" fill="#70737b" stroke="#70737b" stroke-width="0.4" stroke-linejoin="round"/><path d="M1568.60 658.90L1573.60 656.20L1578.60 655.00L1584.50 657.00L1587.80 658.20L1578.60 661.10Z" fill="#b7bac2" stroke="#a0a3ab" stroke-width="0.5" stroke-linejoin="round"/><path d="M1574.20 658.80L1581.60 657.30" stroke="#d9dbe0" stroke-width="0.9"/>
<path d="M1618.60 624.90L1628.60 627.10V629.50L1618.90 626.70Z" fill="#8f929b" stroke="#8f929b" stroke-width="0.4" stroke-linejoin="round"/><path d="M1628.60 627.10L1637.80 624.20V626.60L1628.60 629.50Z" fill="#70737b" stroke="#70737b" stroke-width="0.4" stroke-linejoin="round"/><path d="M1618.60 624.90L1623.60 622.20L1628.60 621.00L1634.50 623.00L1637.80 624.20L1628.60 627.10Z" fill="#b7bac2" stroke="#a0a3ab" stroke-width="0.5" stroke-linejoin="round"/><path d="M1624.20 624.80L1631.60 623.30" stroke="#d9dbe0" stroke-width="0.9"/>
<path d="M1618.60 658.90L1628.60 661.10V663.50L1618.90 660.70Z" fill="#8f929b" stroke="#8f929b" stroke-width="0.4" stroke-linejoin="round"/><path d="M1628.60 661.10L1637.80 658.20V660.60L1628.60 663.50Z" fill="#70737b" stroke="#70737b" stroke-width="0.4" stroke-linejoin="round"/><path d="M1618.60 658.90L1623.60 656.20L1628.60 655.00L1634.50 657.00L1637.80 658.20L1628.60 661.10Z" fill="#b7bac2" stroke="#a0a3ab" stroke-width="0.5" stroke-linejoin="round"/><path d="M1624.20 658.80L1631.60 657.30" stroke="#d9dbe0" stroke-width="0.9"/>
<path d="M1645.30 624.90L1655.30 627.10V629.50L1645.60 626.70Z" fill="#8f929b" stroke="#8f929b" stroke-width="0.4" stroke-linejoin="round"/><path d="M1655.30 627.10L1664.50 624.20V626.60L1655.30 629.50Z" fill="#70737b" stroke="#70737b" stroke-width="0.4" stroke-linejoin="round"/><path d="M1645.30 624.90L1650.30 622.20L1655.30 621.00L1661.20 623.00L1664.50 624.20L1655.30 627.10Z" fill="#b7bac2" stroke="#a0a3ab" stroke-width="0.5" stroke-linejoin="round"/><path d="M1650.90 624.80L1658.30 623.30" stroke="#d9dbe0" stroke-width="0.9"/>
<path d="M1645.30 658.90L1655.30 661.10V663.50L1645.60 660.70Z" fill="#8f929b" stroke="#8f929b" stroke-width="0.4" stroke-linejoin="round"/><path d="M1655.30 661.10L1664.50 658.20V660.60L1655.30 663.50Z" fill="#70737b" stroke="#70737b" stroke-width="0.4" stroke-linejoin="round"/><path d="M1645.30 658.90L1650.30 656.20L1655.30 655.00L1661.20 657.00L1664.50 658.20L1655.30 661.10Z" fill="#b7bac2" stroke="#a0a3ab" stroke-width="0.5" stroke-linejoin="round"/><path d="M1650.90 658.80L1658.30 657.30" stroke="#d9dbe0" stroke-width="0.9"/>
<path d="M1672.60 624.90L1682.60 627.10V629.50L1672.90 626.70Z" fill="#8f929b" stroke="#8f929b" stroke-width="0.4" stroke-linejoin="round"/><path d="M1682.60 627.10L1691.80 624.20V626.60L1682.60 629.50Z" fill="#70737b" stroke="#70737b" stroke-width="0.4" stroke-linejoin="round"/><path d="M1672.60 624.90L1677.60 622.20L1682.60 621.00L1688.50 623.00L1691.80 624.20L1682.60 627.10Z" fill="#b7bac2" stroke="#a0a3ab" stroke-width="0.5" stroke-linejoin="round"/><path d="M1678.20 624.80L1685.60 623.30" stroke="#d9dbe0" stroke-width="0.9"/>
<path d="M1672.60 658.90L1682.60 661.10V663.50L1672.90 660.70Z" fill="#8f929b" stroke="#8f929b" stroke-width="0.4" stroke-linejoin="round"/><path d="M1682.60 661.10L1691.80 658.20V660.60L1682.60 663.50Z" fill="#70737b" stroke="#70737b" stroke-width="0.4" stroke-linejoin="round"/><path d="M1672.60 658.90L1677.60 656.20L1682.60 655.00L1688.50 657.00L1691.80 658.20L1682.60 661.10Z" fill="#b7bac2" stroke="#a0a3ab" stroke-width="0.5" stroke-linejoin="round"/><path d="M1678.20 658.80L1685.60 657.30" stroke="#d9dbe0" stroke-width="0.9"/>
<path d="M1701.00 624.90L1711.00 627.10V629.50L1701.30 626.70Z" fill="#8f929b" stroke="#8f929b" stroke-width="0.4" stroke-linejoin="round"/><path d="M1711.00 627.10L1720.20 624.20V626.60L1711.00 629.50Z" fill="#70737b" stroke="#70737b" stroke-width="0.4" stroke-linejoin="round"/><path d="M1701.00 624.90L1706.00 622.20L1711.00 621.00L1716.90 623.00L1720.20 624.20L1711.00 627.10Z" fill="#b7bac2" stroke="#a0a3ab" stroke-width="0.5" stroke-linejoin="round"/><path d="M1706.60 624.80L1714.00 623.30" stroke="#d9dbe0" stroke-width="0.9"/>
<path d="M1701.00 658.90L1711.00 661.10V663.50L1701.30 660.70Z" fill="#8f929b" stroke="#8f929b" stroke-width="0.4" stroke-linejoin="round"/><path d="M1711.00 661.10L1720.20 658.20V660.60L1711.00 663.50Z" fill="#70737b" stroke="#70737b" stroke-width="0.4" stroke-linejoin="round"/><path d="M1701.00 658.90L1706.00 656.20L1711.00 655.00L1716.90 657.00L1720.20 658.20L1711.00 661.10Z" fill="#b7bac2" stroke="#a0a3ab" stroke-width="0.5" stroke-linejoin="round"/><path d="M1706.60 658.80L1714.00 657.30" stroke="#d9dbe0" stroke-width="0.9"/>
<text x="1434.4" y="564.5" font-size="13.2" fill="#111" stroke="#111" stroke-width="0.2">Layer-3</text>
<text x="1434.4" y="630" font-size="13.2" fill="#111" stroke="#111" stroke-width="0.2">Layer-2</text>
<text x="1434.4" y="665" font-size="13.2" fill="#111" stroke="#111" stroke-width="0.2">Layer-1</text>
<text x="1433.7" y="702.8" font-size="13.2" fill="#111" stroke="#111" stroke-width="0.2">Servers</text>
<text x="1588.6" y="555.8" font-size="12.2" fill="#111" stroke="#111" stroke-width="0.15">F</text>
<text x="1698.5" y="557.8" font-size="12.2" fill="#111" stroke="#111" stroke-width="0.15">C</text>
<text x="1588.8" y="632.2" font-size="12.2" fill="#111" stroke="#111" stroke-width="0.15">B</text>
<text x="1588.4" y="663" font-size="12.2" fill="#111" stroke="#111" stroke-width="0.15">A</text>
<text x="1690.6" y="629.4" font-size="12.2" fill="#111" stroke="#111" stroke-width="0.15">D</text>
<text x="1721.4" y="629.4" font-size="12.2" fill="#111" stroke="#111" stroke-width="0.15">G</text>
<text x="1723.3" y="664.8" font-size="12.2" fill="#111" stroke="#111" stroke-width="0.15">E</text>
<text x="1536.8" y="744.6" font-size="13.5" fill="#111" stroke="#111" stroke-width="0.2">(a)  Clos topology.</text>
</svg>
<!--/FIG10A-->
<!--FIG10B-->
<svg id="fig10b" style="left:0;top:0" width="1920" height="1080" viewBox="0 0 1920 1080" font-family="'Liberation Serif',serif" filter="url(#soft)">
<path d="M1457.80 776.70L1478.02 776.70" stroke="#0b1fb5" stroke-width="2.4" fill="none"/><path d="M1484.60 776.70L1475.20 781.40L1478.21 776.70L1475.20 772.00Z" fill="#0b1fb5"/>
<text x="1491.7" y="781.5" font-size="14.5" fill="#111" stroke="#111" stroke-width="0.25">Original Path</text>
<path d="M1581.10 776.70L1601.22 776.70" stroke="#b31212" stroke-width="2.4" fill="none"/><path d="M1607.80 776.70L1598.40 781.40L1601.41 776.70L1598.40 772.00Z" fill="#b31212"/>
<text x="1612.5" y="781.5" font-size="14.5" fill="#111" stroke="#111" stroke-width="0.25">Rerouted Path</text>
<rect x="1418" y="788.6" width="335.3" height="188.1" rx="19" fill="#f4f4f4" stroke="#a8a8a8" stroke-width="0.8" stroke-dasharray="0.9 1.5"/>
<path d="M1538.5 811.4L1593.1 839.9M1574.0 811.4L1628.8 839.9M1667.7 811.4L1538.5 839.9M1644.8 811.4L1706.6 839.9M1706.6 811.4L1683.7 839.9M1593.1 811.4L1574.0 839.9M1538.5 846.9L1593.1 873.6M1574.0 846.9L1628.8 873.6M1628.8 846.9L1538.5 873.6M1706.6 846.9L1574.0 873.6M1683.7 846.9L1706.6 873.6M1538.5 880.6L1558.0 907.1M1538.5 880.6L1593.1 907.1M1574.0 880.6L1628.8 907.1M1609.1 880.6L1667.7 907.1M1628.8 880.6L1538.5 907.1M1628.8 880.6L1574.0 907.1M1667.7 880.6L1609.1 907.1M1706.6 880.6L1644.8 907.1M1706.6 880.6L1683.7 907.1" stroke="#2b2b2b" stroke-width="0.8" fill="none"/>
<path d="M1530.5 807.9V910.6M1566.0 807.9V843.4M1566.0 877.1V910.6M1601.1 877.1V910.6M1636.8 807.9V910.6M1675.7 807.9V910.6M1714.6 807.9V910.6" stroke="#0a0a0a" stroke-width="2.4" fill="none"/>
<path d="M1530.5 910.6V933M1566.0 910.6V933M1601.1 910.6V933M1636.8 910.6V933M1675.7 910.6V933M1714.6 910.6V933" stroke="#8a8a8a" stroke-width="1.5" fill="none"/>
<path d="M1520.90 937.10L1525.30 931.70H1535.70L1540.10 937.10V963.30H1520.90Z" fill="#b1b5bf"/><rect x="1521.90" y="938.25" width="17.20" height="2.70" rx="1.5" fill="#f1f2f6"/><path d="M1523.60 940.35l0.9 -1.50" stroke="#9ba0ad" stroke-width="0.85"/><path d="M1525.50 940.35l0.9 -1.50" stroke="#9ba0ad" stroke-width="0.85"/><path d="M1527.40 940.35l0.9 -1.50" stroke="#9ba0ad" stroke-width="0.85"/><path d="M1529.30 940.35l0.9 -1.50" stroke="#9ba0ad" stroke-width="0.85"/><path d="M1531.20 940.35l0.9 -1.50" stroke="#9ba0ad" stroke-width="0.85"/><path d="M1533.10 940.35l0.9 -1.50" stroke="#9ba0ad" stroke-width="0.85"/><rect x="1521.90" y="943.45" width="17.20" height="2.70" rx="1.5" fill="#f1f2f6"/><path d="M1523.60 945.55l0.9 -1.50" stroke="#9ba0ad" stroke-width="0.85"/><path d="M1525.50 945.55l0.9 -1.50" stroke="#9ba0ad" stroke-width="0.85"/><path d="M1527.40 945.55l0.9 -1.50" stroke="#9ba0ad" stroke-width="0.85"/><path d="M1529.30 945.55l0.9 -1.50" stroke="#9ba0ad" stroke-width="0.85"/><path d="M1531.20 945.55l0.9 -1.50" stroke="#9ba0ad" stroke-width="0.85"/><path d="M1533.10 945.55l0.9 -1.50" stroke="#9ba0ad" stroke-width="0.85"/><rect x="1521.90" y="948.65" width="17.20" height="2.70" rx="1.5" fill="#f1f2f6"/><path d="M1523.60 950.75l0.9 -1.50" stroke="#9ba0ad" stroke-width="0.85"/><path d="M1525.50 950.75l0.9 -1.50" stroke="#9ba0ad" stroke-width="0.85"/><path d="M1527.40 950.75l0.9 -1.50" stroke="#9ba0ad" stroke-width="0.85"/><path d="M1529.30 950.75l0.9 -1.50" stroke="#9ba0ad" stroke-width="0.85"/><path d="M1531.20 950.75l0.9 -1.50" stroke="#9ba0ad" stroke-width="0.85"/><path d="M1533.10 950.75l0.9 -1.50" stroke="#9ba0ad" stroke-width="0.85"/><rect x="1521.90" y="953.85" width="17.20" height="2.70" rx="1.5" fill="#f1f2f6"/><path d="M1523.60 955.95l0.9 -1.50" stroke="#9ba0ad" stroke-width="0.85"/><path d="M1525.50 955.95l0.9 -1.50" stroke="#9ba0ad" stroke-width="0.85"/><path d="M1527.40 955.95l0.9 -1.50" stroke="#9ba0ad" stroke-width="0.85"/><path d="M1529.30 955.95l0.9 -1.50" stroke="#9ba0ad" stroke-width="0.85"/><path d="M1531.20 955.95l0.9 -1.50" stroke="#9ba0ad" stroke-width="0.85"/><path d="M1533.10 955.95l0.9 -1.50" stroke="#9ba0ad" stroke-width="0.85"/><rect x="1521.90" y="959.05" width="17.20" height="2.70" rx="1.5" fill="#f1f2f6"/><path d="M1523.60 961.15l0.9 -1.50" stroke="#9ba0ad" stroke-width="0.85"/><path d="M1525.50 961.15l0.9 -1.50" stroke="#9ba0ad" stroke-width="0.85"/><path d="M1527.40 961.15l0.9 -1.50" stroke="#9ba0ad" stroke-width="0.85"/><path d="M1529.30 961.15l0.9 -1.50" stroke="#9ba0ad" stroke-width="0.85"/><path d="M1531.20 961.15l0.9 -1.50" stroke="#9ba0ad" stroke-width="0.85"/><path d="M1533.10 961.15l0.9 -1.50" stroke="#9ba0ad" stroke-width="0.85"/>
<path d="M1556.40 937.10L1560.80 931.70H1571.20L1575.60 937.10V963.30H1556.40Z" fill="#b1b5bf"/><rect x="1557.40" y="938.25" width="17.20" height="2.70" rx="1.5" fill="#f1f2f6"/><path d="M1559.10 940.35l0.9 -1.50" stroke="#9ba0ad" stroke-width="0.85"/><path d="M1561.00 940.35l0.9 -1.50" stroke="#9ba0ad" stroke-width="0.85"/><path d="M1562.90 940.35l0.9 -1.50" stroke="#9ba0ad" stroke-width="0.85"/><path d="M1564.80 940.35l0.9 -1.50" stroke="#9ba0ad" stroke-width="0.85"/><path d="M1566.70 940.35l0.9 -1.50" stroke="#9ba0ad" stroke-width="0.85"/><path d="M1568.60 940.35l0.9 -1.50" stroke="#9ba0ad" stroke-width="0.85"/><rect x="1557.40" y="943.45" width="17.20" height="2.70" rx="1.5" fill="#f1f2f6"/><path d="M1559.10 945.55l0.9 -1.50" stroke="#9ba0ad" stroke-width="0.85"/><path d="M1561.00 945.55l0.9 -1.50" stroke="#9ba0ad" stroke-width="0.85"/><path d="M1562.90 945.55l0.9 -1.50" stroke="#9ba0ad" stroke-width="0.85"/><path d="M1564.80 945.55l0.9 -1.50" stroke="#9ba0ad" stroke-width="0.85"/><path d="M1566.70 945.55l0.9 -1.50" stroke="#9ba0ad" stroke-width="0.85"/><path d="M1568.60 945.55l0.9 -1.50" stroke="#9ba0ad" stroke-width="0.85"/><rect x="1557.40" y="948.65" width="17.20" height="2.70" rx="1.5" fill="#f1f2f6"/><path d="M1559.10 950.75l0.9 -1.50" stroke="#9ba0ad" stroke-width="0.85"/><path d="M1561.00 950.75l0.9 -1.50" stroke="#9ba0ad" stroke-width="0.85"/><path d="M1562.90 950.75l0.9 -1.50" stroke="#9ba0ad" stroke-width="0.85"/><path d="M1564.80 950.75l0.9 -1.50" stroke="#9ba0ad" stroke-width="0.85"/><path d="M1566.70 950.75l0.9 -1.50" stroke="#9ba0ad" stroke-width="0.85"/><path d="M1568.60 950.75l0.9 -1.50" stroke="#9ba0ad" stroke-width="0.85"/><rect x="1557.40" y="953.85" width="17.20" height="2.70" rx="1.5" fill="#f1f2f6"/><path d="M1559.10 955.95l0.9 -1.50" stroke="#9ba0ad" stroke-width="0.85"/><path d="M1561.00 955.95l0.9 -1.50" stroke="#9ba0ad" stroke-width="0.85"/><path d="M1562.90 955.95l0.9 -1.50" stroke="#9ba0ad" stroke-width="0.85"/><path d="M1564.80 955.95l0.9 -1.50" stroke="#9ba0ad" stroke-width="0.85"/><path d="M1566.70 955.95l0.9 -1.50" stroke="#9ba0ad" stroke-width="0.85"/><path d="M1568.60 955.95l0.9 -1.50" stroke="#9ba0ad" stroke-width="0.85"/><rect x="1557.40" y="959.05" width="17.20" height="2.70" rx="1.5" fill="#f1f2f6"/><path d="M1559.10 961.15l0.9 -1.50" stroke="#9ba0ad" stroke-width="0.85"/><path d="M1561.00 961.15l0.9 -1.50" stroke="#9ba0ad" stroke-width="0.85"/><path d="M1562.90 961.15l0.9 -1.50" stroke="#9ba0ad" stroke-width="0.85"/><path d="M1564.80 961.15l0.9 -1.50" stroke="#9ba0ad" stroke-width="0.85"/><path d="M1566.70 961.15l0.9 -1.50" stroke="#9ba0ad" stroke-width="0.85"/><path d="M1568.60 961.15l0.9 -1.50" stroke="#9ba0ad" stroke-width="0.85"/>
<path d="M1591.50 937.10L1595.90 931.70H1606.30L1610.70 937.10V963.30H1591.50Z" fill="#b1b5bf"/><rect x="1592.50" y="938.25" width="17.20" height="2.70" rx="1.5" fill="#f1f2f6"/><path d="M1594.20 940.35l0.9 -1.50" stroke="#9ba0ad" stroke-width="0.85"/><path d="M1596.10 940.35l0.9 -1.50" stroke="#9ba0ad" stroke-width="0.85"/><path d="M1598.00 940.35l0.9 -1.50" stroke="#9ba0ad" stroke-width="0.85"/><path d="M1599.90 940.35l0.9 -1.50" stroke="#9ba0ad" stroke-width="0.85"/><path d="M1601.80 940.35l0.9 -1.50" stroke="#9ba0ad" stroke-width="0.85"/><path d="M1603.70 940.35l0.9 -1.50" stroke="#9ba0ad" stroke-width="0.85"/><rect x="1592.50" y="943.45" width="17.20" height="2.70" rx="1.5" fill="#f1f2f6"/><path d="M1594.20 945.55l0.9 -1.50" stroke="#9ba0ad" stroke-width="0.85"/><path d="M1596.10 945.55l0.9 -1.50" stroke="#9ba0ad" stroke-width="0.85"/><path d="M1598.00 945.55l0.9 -1.50" stroke="#9ba0ad" stroke-width="0.85"/><path d="M1599.90 945.55l0.9 -1.50" stroke="#9ba0ad" stroke-width="0.85"/><path d="M1601.80 945.55l0.9 -1.50" stroke="#9ba0ad" stroke-width="0.85"/><path d="M1603.70 945.55l0.9 -1.50" stroke="#9ba0ad" stroke-width="0.85"/><rect x="1592.50" y="948.65" width="17.20" height="2.70" rx="1.5" fill="#f1f2f6"/><path d="M1594.20 950.75l0.9 -1.50" stroke="#9ba0ad" stroke-width="0.85"/><path d="M1596.10 950.75l0.9 -1.50" stroke="#9ba0ad" stroke-width="0.85"/><path d="M1598.00 950.75l0.9 -1.50" stroke="#9ba0ad" stroke-width="0.85"/><path d="M1599.90 950.75l0.9 -1.50" stroke="#9ba0ad" stroke-width="0.85"/><path d="M1601.80 950.75l0.9 -1.50" stroke="#9ba0ad" stroke-width="0.85"/><path d="M1603.70 950.75l0.9 -1.50" stroke="#9ba0ad" stroke-width="0.85"/><rect x="1592.50" y="953.85" width="17.20" height="2.70" rx="1.5" fill="#f1f2f6"/><path d="M1594.20 955.95l0.9 -1.50" stroke="#9ba0ad" stroke-width="0.85"/><path d="M1596.10 955.95l0.9 -1.50" stroke="#9ba0ad" stroke-width="0.85"/><path d="M1598.00 955.95l0.9 -1.50" stroke="#9ba0ad" stroke-width="0.85"/><path d="M1599.90 955.95l0.9 -1.50" stroke="#9ba0ad" stroke-width="0.85"/><path d="M1601.80 955.95l0.9 -1.50" stroke="#9ba0ad" stroke-width="0.85"/><path d="M1603.70 955.95l0.9 -1.50" stroke="#9ba0ad" stroke-width="0.85"/><rect x="1592.50" y="959.05" width="17.20" height="2.70" rx="1.5" fill="#f1f2f6"/><path d="M1594.20 961.15l0.9 -1.50" stroke="#9ba0ad" stroke-width="0.85"/><path d="M1596.10 961.15l0.9 -1.50" stroke="#9ba0ad" stroke-width="0.85"/><path d="M1598.00 961.15l0.9 -1.50" stroke="#9ba0ad" stroke-width="0.85"/><path d="M1599.90 961.15l0.9 -1.50" stroke="#9ba0ad" stroke-width="0.85"/><path d="M1601.80 961.15l0.9 -1.50" stroke="#9ba0ad" stroke-width="0.85"/><path d="M1603.70 961.15l0.9 -1.50" stroke="#9ba0ad" stroke-width="0.85"/>
<path d="M1627.20 937.10L1631.60 931.70H1642.00L1646.40 937.10V963.30H1627.20Z" fill="#b1b5bf"/><rect x="1628.20" y="938.25" width="17.20" height="2.70" rx="1.5" fill="#f1f2f6"/><path d="M1629.90 940.35l0.9 -1.50" stroke="#9ba0ad" stroke-width="0.85"/><path d="M1631.80 940.35l0.9 -1.50" stroke="#9ba0ad" stroke-width="0.85"/><path d="M1633.70 940.35l0.9 -1.50" stroke="#9ba0ad" stroke-width="0.85"/><path d="M1635.60 940.35l0.9 -1.50" stroke="#9ba0ad" stroke-width="0.85"/><path d="M1637.50 940.35l0.9 -1.50" stroke="#9ba0ad" stroke-width="0.85"/><path d="M1639.40 940.35l0.9 -1.50" stroke="#9ba0ad" stroke-width="0.85"/><rect x="1628.20" y="943.45" width="17.20" height="2.70" rx="1.5" fill="#f1f2f6"/><path d="M1629.90 945.55l0.9 -1.50" stroke="#9ba0ad" stroke-width="0.85"/><path d="M1631.80 945.55l0.9 -1.50" stroke="#9ba0ad" stroke-width="0.85"/><path d="M1633.70 945.55l0.9 -1.50" stroke="#9ba0ad" stroke-width="0.85"/><path d="M1635.60 945.55l0.9 -1.50" stroke="#9ba0ad" stroke-width="0.85"/><path d="M1637.50 945.55l0.9 -1.50" stroke="#9ba0ad" stroke-width="0.85"/><path d="M1639.40 945.55l0.9 -1.50" stroke="#9ba0ad" stroke-width="0.85"/><rect x="1628.20" y="948.65" width="17.20" height="2.70" rx="1.5" fill="#f1f2f6"/><path d="M1629.90 950.75l0.9 -1.50" stroke="#9ba0ad" stroke-width="0.85"/><path d="M1631.80 950.75l0.9 -1.50" stroke="#9ba0ad" stroke-width="0.85"/><path d="M1633.70 950.75l0.9 -1.50" stroke="#9ba0ad" stroke-width="0.85"/><path d="M1635.60 950.75l0.9 -1.50" stroke="#9ba0ad" stroke-width="0.85"/><path d="M1637.50 950.75l0.9 -1.50" stroke="#9ba0ad" stroke-width="0.85"/><path d="M1639.40 950.75l0.9 -1.50" stroke="#9ba0ad" stroke-width="0.85"/><rect x="1628.20" y="953.85" width="17.20" height="2.70" rx="1.5" fill="#f1f2f6"/><path d="M1629.90 955.95l0.9 -1.50" stroke="#9ba0ad" stroke-width="0.85"/><path d="M1631.80 955.95l0.9 -1.50" stroke="#9ba0ad" stroke-width="0.85"/><path d="M1633.70 955.95l0.9 -1.50" stroke="#9ba0ad" stroke-width="0.85"/><path d="M1635.60 955.95l0.9 -1.50" stroke="#9ba0ad" stroke-width="0.85"/><path d="M1637.50 955.95l0.9 -1.50" stroke="#9ba0ad" stroke-width="0.85"/><path d="M1639.40 955.95l0.9 -1.50" stroke="#9ba0ad" stroke-width="0.85"/><rect x="1628.20" y="959.05" width="17.20" height="2.70" rx="1.5" fill="#f1f2f6"/><path d="M1629.90 961.15l0.9 -1.50" stroke="#9ba0ad" stroke-width="0.85"/><path d="M1631.80 961.15l0.9 -1.50" stroke="#9ba0ad" stroke-width="0.85"/><path d="M1633.70 961.15l0.9 -1.50" stroke="#9ba0ad" stroke-width="0.85"/><path d="M1635.60 961.15l0.9 -1.50" stroke="#9ba0ad" stroke-width="0.85"/><path d="M1637.50 961.15l0.9 -1.50" stroke="#9ba0ad" stroke-width="0.85"/><path d="M1639.40 961.15l0.9 -1.50" stroke="#9ba0ad" stroke-width="0.85"/>
<path d="M1666.10 937.10L1670.50 931.70H1680.90L1685.30 937.10V963.30H1666.10Z" fill="#b1b5bf"/><rect x="1667.10" y="938.25" width="17.20" height="2.70" rx="1.5" fill="#f1f2f6"/><path d="M1668.80 940.35l0.9 -1.50" stroke="#9ba0ad" stroke-width="0.85"/><path d="M1670.70 940.35l0.9 -1.50" stroke="#9ba0ad" stroke-width="0.85"/><path d="M1672.60 940.35l0.9 -1.50" stroke="#9ba0ad" stroke-width="0.85"/><path d="M1674.50 940.35l0.9 -1.50" stroke="#9ba0ad" stroke-width="0.85"/><path d="M1676.40 940.35l0.9 -1.50" stroke="#9ba0ad" stroke-width="0.85"/><path d="M1678.30 940.35l0.9 -1.50" stroke="#9ba0ad" stroke-width="0.85"/><rect x="1667.10" y="943.45" width="17.20" height="2.70" rx="1.5" fill="#f1f2f6"/><path d="M1668.80 945.55l0.9 -1.50" stroke="#9ba0ad" stroke-width="0.85"/><path d="M1670.70 945.55l0.9 -1.50" stroke="#9ba0ad" stroke-width="0.85"/><path d="M1672.60 945.55l0.9 -1.50" stroke="#9ba0ad" stroke-width="0.85"/><path d="M1674.50 945.55l0.9 -1.50" stroke="#9ba0ad" stroke-width="0.85"/><path d="M1676.40 945.55l0.9 -1.50" stroke="#9ba0ad" stroke-width="0.85"/><path d="M1678.30 945.55l0.9 -1.50" stroke="#9ba0ad" stroke-width="0.85"/><rect x="1667.10" y="948.65" width="17.20" height="2.70" rx="1.5" fill="#f1f2f6"/><path d="M1668.80 950.75l0.9 -1.50" stroke="#9ba0ad" stroke-width="0.85"/><path d="M1670.70 950.75l0.9 -1.50" stroke="#9ba0ad" stroke-width="0.85"/><path d="M1672.60 950.75l0.9 -1.50" stroke="#9ba0ad" stroke-width="0.85"/><path d="M1674.50 950.75l0.9 -1.50" stroke="#9ba0ad" stroke-width="0.85"/><path d="M1676.40 950.75l0.9 -1.50" stroke="#9ba0ad" stroke-width="0.85"/><path d="M1678.30 950.75l0.9 -1.50" stroke="#9ba0ad" stroke-width="0.85"/><rect x="1667.10" y="953.85" width="17.20" height="2.70" rx="1.5" fill="#f1f2f6"/><path d="M1668.80 955.95l0.9 -1.50" stroke="#9ba0ad" stroke-width="0.85"/><path d="M1670.70 955.95l0.9 -1.50" stroke="#9ba0ad" stroke-width="0.85"/><path d="M1672.60 955.95l0.9 -1.50" stroke="#9ba0ad" stroke-width="0.85"/><path d="M1674.50 955.95l0.9 -1.50" stroke="#9ba0ad" stroke-width="0.85"/><path d="M1676.40 955.95l0.9 -1.50" stroke="#9ba0ad" stroke-width="0.85"/><path d="M1678.30 955.95l0.9 -1.50" stroke="#9ba0ad" stroke-width="0.85"/><rect x="1667.10" y="959.05" width="17.20" height="2.70" rx="1.5" fill="#f1f2f6"/><path d="M1668.80 961.15l0.9 -1.50" stroke="#9ba0ad" stroke-width="0.85"/><path d="M1670.70 961.15l0.9 -1.50" stroke="#9ba0ad" stroke-width="0.85"/><path d="M1672.60 961.15l0.9 -1.50" stroke="#9ba0ad" stroke-width="0.85"/><path d="M1674.50 961.15l0.9 -1.50" stroke="#9ba0ad" stroke-width="0.85"/><path d="M1676.40 961.15l0.9 -1.50" stroke="#9ba0ad" stroke-width="0.85"/><path d="M1678.30 961.15l0.9 -1.50" stroke="#9ba0ad" stroke-width="0.85"/>
<path d="M1705.00 937.10L1709.40 931.70H1719.80L1724.20 937.10V963.30H1705.00Z" fill="#b1b5bf"/><rect x="1706.00" y="938.25" width="17.20" height="2.70" rx="1.5" fill="#f1f2f6"/><path d="M1707.70 940.35l0.9 -1.50" stroke="#9ba0ad" stroke-width="0.85"/><path d="M1709.60 940.35l0.9 -1.50" stroke="#9ba0ad" stroke-width="0.85"/><path d="M1711.50 940.35l0.9 -1.50" stroke="#9ba0ad" stroke-width="0.85"/><path d="M1713.40 940.35l0.9 -1.50" stroke="#9ba0ad" stroke-width="0.85"/><path d="M1715.30 940.35l0.9 -1.50" stroke="#9ba0ad" stroke-width="0.85"/><path d="M1717.20 940.35l0.9 -1.50" stroke="#9ba0ad" stroke-width="0.85"/><rect x="1706.00" y="943.45" width="17.20" height="2.70" rx="1.5" fill="#f1f2f6"/><path d="M1707.70 945.55l0.9 -1.50" stroke="#9ba0ad" stroke-width="0.85"/><path d="M1709.60 945.55l0.9 -1.50" stroke="#9ba0ad" stroke-width="0.85"/><path d="M1711.50 945.55l0.9 -1.50" stroke="#9ba0ad" stroke-width="0.85"/><path d="M1713.40 945.55l0.9 -1.50" stroke="#9ba0ad" stroke-width="0.85"/><path d="M1715.30 945.55l0.9 -1.50" stroke="#9ba0ad" stroke-width="0.85"/><path d="M1717.20 945.55l0.9 -1.50" stroke="#9ba0ad" stroke-width="0.85"/><rect x="1706.00" y="948.65" width="17.20" height="2.70" rx="1.5" fill="#f1f2f6"/><path d="M1707.70 950.75l0.9 -1.50" stroke="#9ba0ad" stroke-width="0.85"/><path d="M1709.60 950.75l0.9 -1.50" stroke="#9ba0ad" stroke-width="0.85"/><path d="M1711.50 950.75l0.9 -1.50" stroke="#9ba0ad" stroke-width="0.85"/><path d="M1713.40 950.75l0.9 -1.50" stroke="#9ba0ad" stroke-width="0.85"/><path d="M1715.30 950.75l0.9 -1.50" stroke="#9ba0ad" stroke-width="0.85"/><path d="M1717.20 950.75l0.9 -1.50" stroke="#9ba0ad" stroke-width="0.85"/><rect x="1706.00" y="953.85" width="17.20" height="2.70" rx="1.5" fill="#f1f2f6"/><path d="M1707.70 955.95l0.9 -1.50" stroke="#9ba0ad" stroke-width="0.85"/><path d="M1709.60 955.95l0.9 -1.50" stroke="#9ba0ad" stroke-width="0.85"/><path d="M1711.50 955.95l0.9 -1.50" stroke="#9ba0ad" stroke-width="0.85"/><path d="M1713.40 955.95l0.9 -1.50" stroke="#9ba0ad" stroke-width="0.85"/><path d="M1715.30 955.95l0.9 -1.50" stroke="#9ba0ad" stroke-width="0.85"/><path d="M1717.20 955.95l0.9 -1.50" stroke="#9ba0ad" stroke-width="0.85"/><rect x="1706.00" y="959.05" width="17.20" height="2.70" rx="1.5" fill="#f1f2f6"/><path d="M1707.70 961.15l0.9 -1.50" stroke="#9ba0ad" stroke-width="0.85"/><path d="M1709.60 961.15l0.9 -1.50" stroke="#9ba0ad" stroke-width="0.85"/><path d="M1711.50 961.15l0.9 -1.50" stroke="#9ba0ad" stroke-width="0.85"/><path d="M1713.40 961.15l0.9 -1.50" stroke="#9ba0ad" stroke-width="0.85"/><path d="M1715.30 961.15l0.9 -1.50" stroke="#9ba0ad" stroke-width="0.85"/><path d="M1717.20 961.15l0.9 -1.50" stroke="#9ba0ad" stroke-width="0.85"/>
<path d="M1530.50 932.00L1530.50 921.82" stroke="#0b1fb5" stroke-width="2.7" fill="none"/><path d="M1530.50 915.80L1534.60 924.40L1530.50 921.65L1526.40 924.40Z" fill="#0b1fb5"/>
<path d="M1535.90 906.00L1556.77 886.78" stroke="#0b1fb5" stroke-width="2.7" fill="none"/><path d="M1561.20 882.70L1557.65 891.54L1556.90 886.66L1552.10 885.51Z" fill="#0b1fb5"/>
<path d="M1566.00 872.60L1566.00 855.02" stroke="#0b1fb5" stroke-width="2.7" fill="none"/><path d="M1566.00 849.00L1570.10 857.60L1566.00 854.85L1561.90 857.60Z" fill="#0b1fb5"/>
<path d="M1570.90 839.90L1592.05 817.66" stroke="#0b1fb5" stroke-width="2.7" fill="none"/><path d="M1596.20 813.30L1593.24 822.36L1592.17 817.54L1587.30 816.71Z" fill="#0b1fb5"/>
<path d="M1601.70 812.00L1601.70 832.98" stroke="#0b1fb5" stroke-width="2.7" fill="none"/><path d="M1601.70 839.00L1597.60 830.40L1601.70 833.15L1605.80 830.40Z" fill="#0b1fb5"/>
<path d="M1611.10 849.00L1664.90 872.30" stroke="#0b1fb5" stroke-width="2.4" fill="none" stroke-dasharray="2.3 2.3"/>
<path d="M1681.10 881.40L1704.44 901.47" stroke="#0b1fb5" stroke-width="2.7" fill="none"/><path d="M1709.00 905.40L1699.81 902.90L1704.57 901.59L1705.15 896.68Z" fill="#0b1fb5"/>
<path d="M1601.70 848.30L1601.70 866.28" stroke="#b31212" stroke-width="2.4" fill="none"/><path d="M1601.70 872.30L1597.60 863.70L1601.70 866.45L1605.80 863.70Z" fill="#b31212"/>
<path d="M1611.10 880.80L1698.72 906.32" stroke="#b31212" stroke-width="2.7" fill="none"/><path d="M1704.50 908.00L1695.10 909.53L1698.89 906.36L1697.39 901.66Z" fill="#b31212"/>
<path d="M1714.60 915.10L1714.60 921.58" stroke="#b31212" stroke-width="2.7" fill="none"/><path d="M1714.60 927.60L1710.50 919.00L1714.60 921.75L1718.70 919.00Z" fill="#b31212"/>
<path d="M1520.90 807.60L1530.90 809.80V812.20L1521.20 809.40Z" fill="#8f929b" stroke="#8f929b" stroke-width="0.4" stroke-linejoin="round"/><path d="M1530.90 809.80L1540.10 806.90V809.30L1530.90 812.20Z" fill="#70737b" stroke="#70737b" stroke-width="0.4" stroke-linejoin="round"/><path d="M1520.90 807.60L1525.90 804.90L1530.90 803.70L1536.80 805.70L1540.10 806.90L1530.90 809.80Z" fill="#b7bac2" stroke="#a0a3ab" stroke-width="0.5" stroke-linejoin="round"/><path d="M1526.50 807.50L1533.90 806.00" stroke="#d9dbe0" stroke-width="0.9"/>
<path d="M1556.40 807.60L1566.40 809.80V812.20L1556.70 809.40Z" fill="#8f929b" stroke="#8f929b" stroke-width="0.4" stroke-linejoin="round"/><path d="M1566.40 809.80L1575.60 806.90V809.30L1566.40 812.20Z" fill="#70737b" stroke="#70737b" stroke-width="0.4" stroke-linejoin="round"/><path d="M1556.40 807.60L1561.40 804.90L1566.40 803.70L1572.30 805.70L1575.60 806.90L1566.40 809.80Z" fill="#b7bac2" stroke="#a0a3ab" stroke-width="0.5" stroke-linejoin="round"/><path d="M1562.00 807.50L1569.40 806.00" stroke="#d9dbe0" stroke-width="0.9"/>
<path d="M1591.50 807.60L1601.50 809.80V812.20L1591.80 809.40Z" fill="#8f929b" stroke="#8f929b" stroke-width="0.4" stroke-linejoin="round"/><path d="M1601.50 809.80L1610.70 806.90V809.30L1601.50 812.20Z" fill="#70737b" stroke="#70737b" stroke-width="0.4" stroke-linejoin="round"/><path d="M1591.50 807.60L1596.50 804.90L1601.50 803.70L1607.40 805.70L1610.70 806.90L1601.50 809.80Z" fill="#b7bac2" stroke="#a0a3ab" stroke-width="0.5" stroke-linejoin="round"/><path d="M1597.10 807.50L1604.50 806.00" stroke="#d9dbe0" stroke-width="0.9"/>
<path d="M1627.20 807.60L1637.20 809.80V812.20L1627.50 809.40Z" fill="#8f929b" stroke="#8f929b" stroke-width="0.4" stroke-linejoin="round"/><path d="M1637.20 809.80L1646.40 806.90V809.30L1637.20 812.20Z" fill="#70737b" stroke="#70737b" stroke-width="0.4" stroke-linejoin="round"/><path d="M1627.20 807.60L1632.20 804.90L1637.20 803.70L1643.10 805.70L1646.40 806.90L1637.20 809.80Z" fill="#b7bac2" stroke="#a0a3ab" stroke-width="0.5" stroke-linejoin="round"/><path d="M1632.80 807.50L1640.20 806.00" stroke="#d9dbe0" stroke-width="0.9"/>
<path d="M1666.10 807.60L1676.10 809.80V812.20L1666.40 809.40Z" fill="#8f929b" stroke="#8f929b" stroke-width="0.4" stroke-linejoin="round"/><path d="M1676.10 809.80L1685.30 806.90V809.30L1676.10 812.20Z" fill="#70737b" stroke="#70737b" stroke-width="0.4" stroke-linejoin="round"/><path d="M1666.10 807.60L1671.10 804.90L1676.10 803.70L1682.00 805.70L1685.30 806.90L1676.10 809.80Z" fill="#b7bac2" stroke="#a0a3ab" stroke-width="0.5" stroke-linejoin="round"/><path d="M1671.70 807.50L1679.10 806.00" stroke="#d9dbe0" stroke-width="0.9"/>
<path d="M1705.00 807.60L1715.00 809.80V812.20L1705.30 809.40Z" fill="#8f929b" stroke="#8f929b" stroke-width="0.4" stroke-linejoin="round"/><path d="M1715.00 809.80L1724.20 806.90V809.30L1715.00 812.20Z" fill="#70737b" stroke="#70737b" stroke-width="0.4" stroke-linejoin="round"/><path d="M1705.00 807.60L1710.00 804.90L1715.00 803.70L1720.90 805.70L1724.20 806.90L1715.00 809.80Z" fill="#b7bac2" stroke="#a0a3ab" stroke-width="0.5" stroke-linejoin="round"/><path d="M1710.60 807.50L1718.00 806.00" stroke="#d9dbe0" stroke-width="0.9"/>
<path d="M1520.90 843.10L1530.90 845.30V847.70L1521.20 844.90Z" fill="#8f929b" stroke="#8f929b" stroke-width="0.4" stroke-linejoin="round"/><path d="M1530.90 845.30L1540.10 842.40V844.80L1530.90 847.70Z" fill="#70737b" stroke="#70737b" stroke-width="0.4" stroke-linejoin="round"/><path d="M1520.90 843.10L1525.90 840.40L1530.90 839.20L1536.80 841.20L1540.10 842.40L1530.90 845.30Z" fill="#b7bac2" stroke="#a0a3ab" stroke-width="0.5" stroke-linejoin="round"/><path d="M1526.50 843.00L1533.90 841.50" stroke="#d9dbe0" stroke-width="0.9"/>
<path d="M1556.40 843.10L1566.40 845.30V847.70L1556.70 844.90Z" fill="#8f929b" stroke="#8f929b" stroke-width="0.4" stroke-linejoin="round"/><path d="M1566.40 845.30L1575.60 842.40V844.80L1566.40 847.70Z" fill="#70737b" stroke="#70737b" stroke-width="0.4" stroke-linejoin="round"/><path d="M1556.40 843.10L1561.40 840.40L1566.40 839.20L1572.30 841.20L1575.60 842.40L1566.40 845.30Z" fill="#b7bac2" stroke="#a0a3ab" stroke-width="0.5" stroke-linejoin="round"/><path d="M1562.00 843.00L1569.40 841.50" stroke="#d9dbe0" stroke-width="0.9"/>
<path d="M1591.50 843.10L1601.50 845.30V847.70L1591.80 844.90Z" fill="#8f929b" stroke="#8f929b" stroke-width="0.4" stroke-linejoin="round"/><path d="M1601.50 845.30L1610.70 842.40V844.80L1601.50 847.70Z" fill="#70737b" stroke="#70737b" stroke-width="0.4" stroke-linejoin="round"/><path d="M1591.50 843.10L1596.50 840.40L1601.50 839.20L1607.40 841.20L1610.70 842.40L1601.50 845.30Z" fill="#b7bac2" stroke="#a0a3ab" stroke-width="0.5" stroke-linejoin="round"/><path d="M1597.10 843.00L1604.50 841.50" stroke="#d9dbe0" stroke-width="0.9"/>
<path d="M1627.20 843.10L1637.20 845.30V847.70L1627.50 844.90Z" fill="#8f929b" stroke="#8f929b" stroke-width="0.4" stroke-linejoin="round"/><path d="M1637.20 845.30L1646.40 842.40V844.80L1637.20 847.70Z" fill="#70737b" stroke="#70737b" stroke-width="0.4" stroke-linejoin="round"/><path d="M1627.20 843.10L1632.20 840.40L1637.20 839.20L1643.10 841.20L1646.40 842.40L1637.20 845.30Z" fill="#b7bac2" stroke="#a0a3ab" stroke-width="0.5" stroke-linejoin="round"/><path d="M1632.80 843.00L1640.20 841.50" stroke="#d9dbe0" stroke-width="0.9"/>
<path d="M1666.10 843.10L1676.10 845.30V847.70L1666.40 844.90Z" fill="#8f929b" stroke="#8f929b" stroke-width="0.4" stroke-linejoin="round"/><path d="M1676.10 845.30L1685.30 842.40V844.80L1676.10 847.70Z" fill="#70737b" stroke="#70737b" stroke-width="0.4" stroke-linejoin="round"/><path d="M1666.10 843.10L1671.10 840.40L1676.10 839.20L1682.00 841.20L1685.30 842.40L1676.10 845.30Z" fill="#b7bac2" stroke="#a0a3ab" stroke-width="0.5" stroke-linejoin="round"/><path d="M1671.70 843.00L1679.10 841.50" stroke="#d9dbe0" stroke-width="0.9"/>
<path d="M1705.00 843.10L1715.00 845.30V847.70L1705.30 844.90Z" fill="#8f929b" stroke="#8f929b" stroke-width="0.4" stroke-linejoin="round"/><path d="M1715.00 845.30L1724.20 842.40V844.80L1715.00 847.70Z" fill="#70737b" stroke="#70737b" stroke-width="0.4" stroke-linejoin="round"/><path d="M1705.00 843.10L1710.00 840.40L1715.00 839.20L1720.90 841.20L1724.20 842.40L1715.00 845.30Z" fill="#b7bac2" stroke="#a0a3ab" stroke-width="0.5" stroke-linejoin="round"/><path d="M1710.60 843.00L1718.00 841.50" stroke="#d9dbe0" stroke-width="0.9"/>
<path d="M1520.90 876.80L1530.90 879.00V881.40L1521.20 878.60Z" fill="#8f929b" stroke="#8f929b" stroke-width="0.4" stroke-linejoin="round"/><path d="M1530.90 879.00L1540.10 876.10V878.50L1530.90 881.40Z" fill="#70737b" stroke="#70737b" stroke-width="0.4" stroke-linejoin="round"/><path d="M1520.90 876.80L1525.90 874.10L1530.90 872.90L1536.80 874.90L1540.10 876.10L1530.90 879.00Z" fill="#b7bac2" stroke="#a0a3ab" stroke-width="0.5" stroke-linejoin="round"/><path d="M1526.50 876.70L1533.90 875.20" stroke="#d9dbe0" stroke-width="0.9"/>
<path d="M1556.40 876.80L1566.40 879.00V881.40L1556.70 878.60Z" fill="#8f929b" stroke="#8f929b" stroke-width="0.4" stroke-linejoin="round"/><path d="M1566.40 879.00L1575.60 876.10V878.50L1566.40 881.40Z" fill="#70737b" stroke="#70737b" stroke-width="0.4" stroke-linejoin="round"/><path d="M1556.40 876.80L1561.40 874.10L1566.40 872.90L1572.30 874.90L1575.60 876.10L1566.40 879.00Z" fill="#b7bac2" stroke="#a0a3ab" stroke-width="0.5" stroke-linejoin="round"/><path d="M1562.00 876.70L1569.40 875.20" stroke="#d9dbe0" stroke-width="0.9"/>
<path d="M1591.50 876.80L1601.50 879.00V881.40L1591.80 878.60Z" fill="#8f929b" stroke="#8f929b" stroke-width="0.4" stroke-linejoin="round"/><path d="M1601.50 879.00L1610.70 876.10V878.50L1601.50 881.40Z" fill="#70737b" stroke="#70737b" stroke-width="0.4" stroke-linejoin="round"/><path d="M1591.50 876.80L1596.50 874.10L1601.50 872.90L1607.40 874.90L1610.70 876.10L1601.50 879.00Z" fill="#b7bac2" stroke="#a0a3ab" stroke-width="0.5" stroke-linejoin="round"/><path d="M1597.10 876.70L1604.50 875.20" stroke="#d9dbe0" stroke-width="0.9"/>
<path d="M1627.20 876.80L1637.20 879.00V881.40L1627.50 878.60Z" fill="#8f929b" stroke="#8f929b" stroke-width="0.4" stroke-linejoin="round"/><path d="M1637.20 879.00L1646.40 876.10V878.50L1637.20 881.40Z" fill="#70737b" stroke="#70737b" stroke-width="0.4" stroke-linejoin="round"/><path d="M1627.20 876.80L1632.20 874.10L1637.20 872.90L1643.10 874.90L1646.40 876.10L1637.20 879.00Z" fill="#b7bac2" stroke="#a0a3ab" stroke-width="0.5" stroke-linejoin="round"/><path d="M1632.80 876.70L1640.20 875.20" stroke="#d9dbe0" stroke-width="0.9"/>
<path d="M1666.10 876.80L1676.10 879.00V881.40L1666.40 878.60Z" fill="#8f929b" stroke="#8f929b" stroke-width="0.4" stroke-linejoin="round"/><path d="M1676.10 879.00L1685.30 876.10V878.50L1676.10 881.40Z" fill="#70737b" stroke="#70737b" stroke-width="0.4" stroke-linejoin="round"/><path d="M1666.10 876.80L1671.10 874.10L1676.10 872.90L1682.00 874.90L1685.30 876.10L1676.10 879.00Z" fill="#b7bac2" stroke="#a0a3ab" stroke-width="0.5" stroke-linejoin="round"/><path d="M1671.70 876.70L1679.10 875.20" stroke="#d9dbe0" stroke-width="0.9"/>
<path d="M1705.00 876.80L1715.00 879.00V881.40L1705.30 878.60Z" fill="#8f929b" stroke="#8f929b" stroke-width="0.4" stroke-linejoin="round"/><path d="M1715.00 879.00L1724.20 876.10V878.50L1715.00 881.40Z" fill="#70737b" stroke="#70737b" stroke-width="0.4" stroke-linejoin="round"/><path d="M1705.00 876.80L1710.00 874.10L1715.00 872.90L1720.90 874.90L1724.20 876.10L1715.00 879.00Z" fill="#b7bac2" stroke="#a0a3ab" stroke-width="0.5" stroke-linejoin="round"/><path d="M1710.60 876.70L1718.00 875.20" stroke="#d9dbe0" stroke-width="0.9"/>
<path d="M1520.90 910.30L1530.90 912.50V914.90L1521.20 912.10Z" fill="#8f929b" stroke="#8f929b" stroke-width="0.4" stroke-linejoin="round"/><path d="M1530.90 912.50L1540.10 909.60V912.00L1530.90 914.90Z" fill="#70737b" stroke="#70737b" stroke-width="0.4" stroke-linejoin="round"/><path d="M1520.90 910.30L1525.90 907.60L1530.90 906.40L1536.80 908.40L1540.10 909.60L1530.90 912.50Z" fill="#b7bac2" stroke="#a0a3ab" stroke-width="0.5" stroke-linejoin="round"/><path d="M1526.50 910.20L1533.90 908.70" stroke="#d9dbe0" stroke-width="0.9"/>
<path d="M1556.40 910.30L1566.40 912.50V914.90L1556.70 912.10Z" fill="#8f929b" stroke="#8f929b" stroke-width="0.4" stroke-linejoin="round"/><path d="M1566.40 912.50L1575.60 909.60V912.00L1566.40 914.90Z" fill="#70737b" stroke="#70737b" stroke-width="0.4" stroke-linejoin="round"/><path d="M1556.40 910.30L1561.40 907.60L1566.40 906.40L1572.30 908.40L1575.60 909.60L1566.40 912.50Z" fill="#b7bac2" stroke="#a0a3ab" stroke-width="0.5" stroke-linejoin="round"/><path d="M1562.00 910.20L1569.40 908.70" stroke="#d9dbe0" stroke-width="0.9"/>
<path d="M1591.50 910.30L1601.50 912.50V914.90L1591.80 912.10Z" fill="#8f929b" stroke="#8f929b" stroke-width="0.4" stroke-linejoin="round"/><path d="M1601.50 912.50L1610.70 909.60V912.00L1601.50 914.90Z" fill="#70737b" stroke="#70737b" stroke-width="0.4" stroke-linejoin="round"/><path d="M1591.50 910.30L1596.50 907.60L1601.50 906.40L1607.40 908.40L1610.70 909.60L1601.50 912.50Z" fill="#b7bac2" stroke="#a0a3ab" stroke-width="0.5" stroke-linejoin="round"/><path d="M1597.10 910.20L1604.50 908.70" stroke="#d9dbe0" stroke-width="0.9"/>
<path d="M1627.20 910.30L1637.20 912.50V914.90L1627.50 912.10Z" fill="#8f929b" stroke="#8f929b" stroke-width="0.4" stroke-linejoin="round"/><path d="M1637.20 912.50L1646.40 909.60V912.00L1637.20 914.90Z" fill="#70737b" stroke="#70737b" stroke-width="0.4" stroke-linejoin="round"/><path d="M1627.20 910.30L1632.20 907.60L1637.20 906.40L1643.10 908.40L1646.40 909.60L1637.20 912.50Z" fill="#b7bac2" stroke="#a0a3ab" stroke-width="0.5" stroke-linejoin="round"/><path d="M1632.80 910.20L1640.20 908.70" stroke="#d9dbe0" stroke-width="0.9"/>
<path d="M1666.10 910.30L1676.10 912.50V914.90L1666.40 912.10Z" fill="#8f929b" stroke="#8f929b" stroke-width="0.4" stroke-linejoin="round"/><path d="M1676.10 912.50L1685.30 909.60V912.00L1676.10 914.90Z" fill="#70737b" stroke="#70737b" stroke-width="0.4" stroke-linejoin="round"/><path d="M1666.10 910.30L1671.10 907.60L1676.10 906.40L1682.00 908.40L1685.30 909.60L1676.10 912.50Z" fill="#b7bac2" stroke="#a0a3ab" stroke-width="0.5" stroke-linejoin="round"/><path d="M1671.70 910.20L1679.10 908.70" stroke="#d9dbe0" stroke-width="0.9"/>
<path d="M1705.00 910.30L1715.00 912.50V914.90L1705.30 912.10Z" fill="#8f929b" stroke="#8f929b" stroke-width="0.4" stroke-linejoin="round"/><path d="M1715.00 912.50L1724.20 909.60V912.00L1715.00 914.90Z" fill="#70737b" stroke="#70737b" stroke-width="0.4" stroke-linejoin="round"/><path d="M1705.00 910.30L1710.00 907.60L1715.00 906.40L1720.90 908.40L1724.20 909.60L1715.00 912.50Z" fill="#b7bac2" stroke="#a0a3ab" stroke-width="0.5" stroke-linejoin="round"/><path d="M1710.60 910.20L1718.00 908.70" stroke="#d9dbe0" stroke-width="0.9"/>
<text x="1433.9" y="811.9" font-size="13" fill="#111" stroke="#111" stroke-width="0.2">Virtual Layer-4</text>
<text x="1433.9" y="848" font-size="13" fill="#111" stroke="#111" stroke-width="0.2">Virtual Layer-3</text>
<text x="1433.9" y="881.7" font-size="13" fill="#111" stroke="#111" stroke-width="0.2">Virtual Layer-2</text>
<text x="1433.9" y="915" font-size="13" fill="#111" stroke="#111" stroke-width="0.2">Virtual Layer-1</text>
<text x="1468.9" y="953.6" font-size="13" fill="#111" stroke="#111" stroke-width="0.2">Servers</text>
<text x="1611.1" y="810.9" font-size="12.2" fill="#111" stroke="#111" stroke-width="0.15">D</text>
<text x="1575.9" y="849.2" font-size="12.2" fill="#111" stroke="#111" stroke-width="0.15">C</text>
<text x="1612.4" y="847.2" font-size="12.2" fill="#111" stroke="#111" stroke-width="0.15">E</text>
<text x="1576.1" y="880" font-size="12.2" fill="#111" stroke="#111" stroke-width="0.15">B</text>
<text x="1611.5" y="877.3" font-size="12.2" fill="#111" stroke="#111" stroke-width="0.15">H</text>
<text x="1688.3" y="880" font-size="12.2" fill="#111" stroke="#111" stroke-width="0.15">F</text>
<text x="1726.3" y="914.4" font-size="12.2" fill="#111" stroke="#111" stroke-width="0.15">G</text>
<text x="1540.1" y="917.9" font-size="12.2" fill="#111" stroke="#111" stroke-width="0.15">A</text>
<text x="1535.6" y="999.1" font-size="13.6" fill="#111" stroke="#111" stroke-width="0.2">(b)  FC’s topology.</text>
<text x="1444.4" y="1042.1" font-size="17.25" fill="#111" stroke="#111" stroke-width="0.2"><tspan font-weight="bold">Figure 10:</tspan> Rerouting under link failures.</text>
</svg>
<!--/FIG10B-->
<!--FIG4-->
<svg id="fig4" style="left:0;top:0" width="1920" height="1080" viewBox="0 0 1920 1080" font-family="'Liberation Serif',serif" filter="url(#soft)">
<defs><linearGradient id="swl" x1="0" x2="1" y1="0" y2="0"><stop offset="0" stop-color="#c9cfd9"/><stop offset="1" stop-color="#aab2bf"/></linearGradient><linearGradient id="swr" x1="0" x2="1" y1="0" y2="0"><stop offset="0" stop-color="#a3abb8"/><stop offset="1" stop-color="#78818f"/></linearGradient></defs>
<path d="M368.5 855.6L448.1 805.9M413.9 855.6L448.1 835.2M507.8 805L588 855.6M507.8 834.1L539.8 855.6M368.5 903.1L448.1 954.1M413.9 903.1L448.1 925.4M513.3 923.5L540.7 903.1M513.3 953.1L588 903.1" stroke="#1a1a1a" stroke-width="1.9" fill="none"/>
<rect x="448.1" y="795.7" width="59.7" height="48.2" fill="#f6f6f6" stroke="#444" stroke-width="1.3" stroke-dasharray="4.8 3"/>
<rect x="448.1" y="795.7" width="17.6" height="18.0" fill="none" stroke="#666" stroke-width="0.9" stroke-dasharray="1.3 1.6"/>
<rect x="490.2" y="795.7" width="17.6" height="18.0" fill="none" stroke="#666" stroke-width="0.9" stroke-dasharray="1.3 1.6"/>
<rect x="448.1" y="825.9" width="17.6" height="18.0" fill="none" stroke="#666" stroke-width="0.9" stroke-dasharray="1.3 1.6"/>
<rect x="490.2" y="825.9" width="17.6" height="18.0" fill="none" stroke="#666" stroke-width="0.9" stroke-dasharray="1.3 1.6"/>
<path d="M456.9 813.4L476.3 819.5V825.7L456.9 819.6Z" fill="url(#swl)" stroke="#7b8494" stroke-width="0.7" stroke-linejoin="round"/><path d="M476.3 819.5L499.1 812.3V818.5L476.3 825.7Z" fill="url(#swr)" stroke="#6c7584" stroke-width="0.7" stroke-linejoin="round"/><path d="M456.9 813.4L479.1 807.0L499.1 812.3L476.3 819.5Z" fill="#d3d8e1" stroke="#8a93a2" stroke-width="0.7" stroke-linejoin="round"/><path d="M467.9 812.8l7 -1.7" stroke="#6f7887" stroke-width="1.3"/><path d="M478.9 810.8l7 -1.7" stroke="#6f7887" stroke-width="1.3"/><path d="M473.9 815.2l7 -1.7" stroke="#6f7887" stroke-width="1.3"/><path d="M484.4 813.0l7 -1.7" stroke="#6f7887" stroke-width="1.3"/>
<text x="456.5" y="811.0" font-size="17.8" text-anchor="middle" fill="#111" stroke="#111" stroke-width="0.25">1</text>
<text x="498.4" y="810.8" font-size="17.8" text-anchor="middle" fill="#111" stroke="#111" stroke-width="0.25">2</text>
<text x="456.1" y="840.7" font-size="17.8" text-anchor="middle" fill="#111" stroke="#111" stroke-width="0.25">4</text>
<text x="498.6" y="840.8" font-size="17.8" text-anchor="middle" fill="#111" stroke="#111" stroke-width="0.25">3</text>
<text x="470.1" y="840.7" font-size="18.5" font-style="italic" fill="#111" stroke="#111" stroke-width="0.2">S<tspan font-size="12" font-style="normal" dy="2.8" dx="0.8">2</tspan></text>
<rect x="358.3" y="855.6" width="65.8" height="47.5" fill="#f6f6f6" stroke="#444" stroke-width="1.3" stroke-dasharray="4.8 3"/>
<rect x="358.3" y="855.6" width="17.6" height="18.0" fill="none" stroke="#666" stroke-width="0.9" stroke-dasharray="1.3 1.6"/>
<rect x="406.5" y="855.6" width="17.6" height="18.0" fill="none" stroke="#666" stroke-width="0.9" stroke-dasharray="1.3 1.6"/>
<rect x="358.3" y="885.1" width="17.6" height="18.0" fill="none" stroke="#666" stroke-width="0.9" stroke-dasharray="1.3 1.6"/>
<rect x="406.5" y="885.1" width="17.6" height="18.0" fill="none" stroke="#666" stroke-width="0.9" stroke-dasharray="1.3 1.6"/>
<path d="M370.1 873.0L389.5 879.1V885.3L370.1 879.2Z" fill="url(#swl)" stroke="#7b8494" stroke-width="0.7" stroke-linejoin="round"/><path d="M389.5 879.1L412.3 871.9V878.1L389.5 885.3Z" fill="url(#swr)" stroke="#6c7584" stroke-width="0.7" stroke-linejoin="round"/><path d="M370.1 873.0L392.3 866.6L412.3 871.9L389.5 879.1Z" fill="#d3d8e1" stroke="#8a93a2" stroke-width="0.7" stroke-linejoin="round"/><path d="M381.1 872.4l7 -1.7" stroke="#6f7887" stroke-width="1.3"/><path d="M392.1 870.4l7 -1.7" stroke="#6f7887" stroke-width="1.3"/><path d="M387.1 874.8l7 -1.7" stroke="#6f7887" stroke-width="1.3"/><path d="M397.6 872.6l7 -1.7" stroke="#6f7887" stroke-width="1.3"/>
<text x="366.7" y="870.9" font-size="17.8" text-anchor="middle" fill="#111" stroke="#111" stroke-width="0.25">2</text>
<text x="414.7" y="870.7" font-size="17.8" text-anchor="middle" fill="#111" stroke="#111" stroke-width="0.25">3</text>
<text x="366.3" y="899.9" font-size="17.8" text-anchor="middle" fill="#111" stroke="#111" stroke-width="0.25">1</text>
<text x="414.9" y="900.0" font-size="17.8" text-anchor="middle" fill="#111" stroke="#111" stroke-width="0.25">4</text>
<text x="383.3" y="899.9" font-size="18.5" font-style="italic" fill="#111" stroke="#111" stroke-width="0.2">S<tspan font-size="12" font-style="normal" dy="2.8" dx="0.8">1</tspan></text>
<rect x="531.5" y="855.6" width="65.7" height="47.5" fill="#f6f6f6" stroke="#444" stroke-width="1.3" stroke-dasharray="4.8 3"/>
<rect x="531.5" y="855.6" width="17.6" height="18.0" fill="none" stroke="#666" stroke-width="0.9" stroke-dasharray="1.3 1.6"/>
<rect x="579.6" y="855.6" width="17.6" height="18.0" fill="none" stroke="#666" stroke-width="0.9" stroke-dasharray="1.3 1.6"/>
<rect x="531.5" y="885.1" width="17.6" height="18.0" fill="none" stroke="#666" stroke-width="0.9" stroke-dasharray="1.3 1.6"/>
<rect x="579.6" y="885.1" width="17.6" height="18.0" fill="none" stroke="#666" stroke-width="0.9" stroke-dasharray="1.3 1.6"/>
<path d="M543.2 873.0L562.6 879.1V885.3L543.2 879.2Z" fill="url(#swl)" stroke="#7b8494" stroke-width="0.7" stroke-linejoin="round"/><path d="M562.6 879.1L585.5 871.9V878.1L562.6 885.3Z" fill="url(#swr)" stroke="#6c7584" stroke-width="0.7" stroke-linejoin="round"/><path d="M543.2 873.0L565.5 866.6L585.5 871.9L562.6 879.1Z" fill="#d3d8e1" stroke="#8a93a2" stroke-width="0.7" stroke-linejoin="round"/><path d="M554.2 872.4l7 -1.7" stroke="#6f7887" stroke-width="1.3"/><path d="M565.2 870.4l7 -1.7" stroke="#6f7887" stroke-width="1.3"/><path d="M560.2 874.8l7 -1.7" stroke="#6f7887" stroke-width="1.3"/><path d="M570.8 872.6l7 -1.7" stroke="#6f7887" stroke-width="1.3"/>
<text x="539.9" y="870.9" font-size="17.8" text-anchor="middle" fill="#111" stroke="#111" stroke-width="0.25">4</text>
<text x="587.8" y="870.7" font-size="17.8" text-anchor="middle" fill="#111" stroke="#111" stroke-width="0.25">1</text>
<text x="539.5" y="899.9" font-size="17.8" text-anchor="middle" fill="#111" stroke="#111" stroke-width="0.25">3</text>
<text x="588.0" y="900.0" font-size="17.8" text-anchor="middle" fill="#111" stroke="#111" stroke-width="0.25">2</text>
<text x="556.5" y="899.9" font-size="18.5" font-style="italic" fill="#111" stroke="#111" stroke-width="0.2">S<tspan font-size="12" font-style="normal" dy="2.8" dx="0.8">3</tspan></text>
<rect x="448.1" y="914.8" width="65.2" height="47.6" fill="#f6f6f6" stroke="#444" stroke-width="1.3" stroke-dasharray="4.8 3"/>
<rect x="448.1" y="914.8" width="17.6" height="18.0" fill="none" stroke="#666" stroke-width="0.9" stroke-dasharray="1.3 1.6"/>
<rect x="495.7" y="914.8" width="17.6" height="18.0" fill="none" stroke="#666" stroke-width="0.9" stroke-dasharray="1.3 1.6"/>
<rect x="448.1" y="944.4" width="17.6" height="18.0" fill="none" stroke="#666" stroke-width="0.9" stroke-dasharray="1.3 1.6"/>
<rect x="495.7" y="944.4" width="17.6" height="18.0" fill="none" stroke="#666" stroke-width="0.9" stroke-dasharray="1.3 1.6"/>
<path d="M459.6 932.2L479.0 938.3V944.5L459.6 938.4Z" fill="url(#swl)" stroke="#7b8494" stroke-width="0.7" stroke-linejoin="round"/><path d="M479.0 938.3L501.8 931.1V937.3L479.0 944.5Z" fill="url(#swr)" stroke="#6c7584" stroke-width="0.7" stroke-linejoin="round"/><path d="M459.6 932.2L481.8 925.8L501.8 931.1L479.0 938.3Z" fill="#d3d8e1" stroke="#8a93a2" stroke-width="0.7" stroke-linejoin="round"/><path d="M470.6 931.6l7 -1.7" stroke="#6f7887" stroke-width="1.3"/><path d="M481.6 929.6l7 -1.7" stroke="#6f7887" stroke-width="1.3"/><path d="M476.6 934.0l7 -1.7" stroke="#6f7887" stroke-width="1.3"/><path d="M487.1 931.8l7 -1.7" stroke="#6f7887" stroke-width="1.3"/>
<text x="456.5" y="930.1" font-size="17.8" text-anchor="middle" fill="#111" stroke="#111" stroke-width="0.25">3</text>
<text x="503.9" y="929.9" font-size="17.8" text-anchor="middle" fill="#111" stroke="#111" stroke-width="0.25">4</text>
<text x="456.1" y="959.2" font-size="17.8" text-anchor="middle" fill="#111" stroke="#111" stroke-width="0.25">2</text>
<text x="504.1" y="959.3" font-size="17.8" text-anchor="middle" fill="#111" stroke="#111" stroke-width="0.25">1</text>
<text x="472.8" y="959.2" font-size="18.5" font-style="italic" fill="#111" stroke="#111" stroke-width="0.2">S<tspan font-size="12" font-style="normal" dy="2.8" dx="0.8">4</tspan></text>
<text x="394.4" y="824.4" font-family="'Liberation Sans',sans-serif" font-size="19.8" fill="#111" stroke="#111" stroke-width="0.5">e<tspan font-size="10.5" dy="3.2" dx="0.6" stroke-width="0.15">1</tspan></text>
<text x="546.3" y="824.4" font-family="'Liberation Sans',sans-serif" font-size="19.8" fill="#111" stroke="#111" stroke-width="0.5">e<tspan font-size="10.5" dy="3.2" dx="0.6" stroke-width="0.15">2</tspan></text>
<text x="431.5" y="855.9" font-family="'Liberation Sans',sans-serif" font-size="19.8" fill="#111" stroke="#111" stroke-width="0.5">e<tspan font-size="10.5" dy="3.2" dx="0.6" stroke-width="0.15">5</tspan></text>
<text x="509.6" y="855" font-family="'Liberation Sans',sans-serif" font-size="19.8" fill="#111" stroke="#111" stroke-width="0.5">e<tspan font-size="10.5" dy="3.2" dx="0.6" stroke-width="0.15">6</tspan></text>
<text x="431.5" y="911.5" font-family="'Liberation Sans',sans-serif" font-size="19.8" fill="#111" stroke="#111" stroke-width="0.5">e<tspan font-size="10.5" dy="3.2" dx="0.6" stroke-width="0.15">8</tspan></text>
<text x="513" y="911.5" font-family="'Liberation Sans',sans-serif" font-size="19.8" fill="#111" stroke="#111" stroke-width="0.5">e<tspan font-size="10.5" dy="3.2" dx="0.6" stroke-width="0.15">7</tspan></text>
<text x="394.4" y="943" font-family="'Liberation Sans',sans-serif" font-size="19.8" fill="#111" stroke="#111" stroke-width="0.5">e<tspan font-size="10.5" dy="3.2" dx="0.6" stroke-width="0.15">4</tspan></text>
<text x="546.3" y="947.6" font-family="'Liberation Sans',sans-serif" font-size="19.8" fill="#111" stroke="#111" stroke-width="0.5">e<tspan font-size="10.5" dy="3.2" dx="0.6" stroke-width="0.15">3</tspan></text>
<text x="421" y="997" font-size="15.2" fill="#111" stroke="#111" stroke-width="0.2">(a)  Flattend Clos.</text>
<rect x="628.4" y="820.3" width="244.8" height="18.4" fill="#f6f6f6"/>
<rect x="628.4" y="886.4" width="244.8" height="18.0" fill="#f6f6f6"/>
<rect x="628.4" y="770.6" width="46.4" height="199.4" rx="5" fill="#f6f6f6"/>
<rect x="694.0" y="770.6" width="46.9" height="199.4" rx="5" fill="#f6f6f6"/>
<rect x="760.3" y="770.6" width="46.8" height="199.4" rx="5" fill="#f6f6f6"/>
<rect x="826.6" y="770.6" width="46.6" height="199.4" rx="5" fill="#f6f6f6"/>
<rect x="630.4" y="773.4" width="42.4" height="45.8" fill="#d3e2f7"/>
<rect x="630.4" y="839.7" width="42.4" height="45.7" fill="#d3e2f7"/>
<rect x="630.4" y="905.4" width="42.4" height="45.7" fill="#d3e2f7"/>
<rect x="696.0" y="773.4" width="42.9" height="45.8" fill="#d3e2f7"/>
<rect x="696.0" y="839.7" width="42.9" height="45.7" fill="#d3e2f7"/>
<rect x="696.0" y="905.4" width="42.9" height="45.7" fill="#d3e2f7"/>
<rect x="762.3" y="773.4" width="42.8" height="45.8" fill="#d3e2f7"/>
<rect x="762.3" y="839.7" width="42.8" height="45.7" fill="#d3e2f7"/>
<rect x="762.3" y="905.4" width="42.8" height="45.7" fill="#d3e2f7"/>
<rect x="828.6" y="773.4" width="42.6" height="45.8" fill="#d3e2f7"/>
<rect x="828.6" y="839.7" width="42.6" height="45.7" fill="#d3e2f7"/>
<rect x="828.6" y="905.4" width="42.6" height="45.7" fill="#d3e2f7"/>
<rect x="643.8" y="807.8" width="15.4" height="11.4" fill="#fbeac0"/>
<text x="651.5" y="818.3" font-size="13.4" font-family="'Liberation Sans',sans-serif" text-anchor="middle" fill="#111">4</text>
<rect x="643.8" y="840.7" width="15.4" height="10.9" fill="#fbeac0"/>
<text x="651.5" y="851.0" font-size="13.4" font-family="'Liberation Sans',sans-serif" text-anchor="middle" fill="#111">3</text>
<rect x="643.8" y="873.5" width="15.4" height="11.9" fill="#fbeac0"/>
<text x="651.5" y="884.2" font-size="13.4" font-family="'Liberation Sans',sans-serif" text-anchor="middle" fill="#111">2</text>
<rect x="643.8" y="906.4" width="15.4" height="11.5" fill="#fbeac0"/>
<text x="651.5" y="916.9" font-size="13.4" font-family="'Liberation Sans',sans-serif" text-anchor="middle" fill="#111">1</text>
<text x="643.3" y="801.0" font-size="16.0" font-style="italic" fill="#111" stroke="#111" stroke-width="0.2">S</text><text x="653.1" y="794.6" font-size="10.0" fill="#111" stroke="#111" stroke-width="0.15">3</text><text x="653.1" y="805.0" font-size="10.0" fill="#111" stroke="#111" stroke-width="0.15">1</text>
<text x="643.3" y="867.1" font-size="16.0" font-style="italic" fill="#111" stroke="#111" stroke-width="0.2">S</text><text x="653.1" y="860.7" font-size="10.0" fill="#111" stroke="#111" stroke-width="0.15">2</text><text x="653.1" y="871.1" font-size="10.0" fill="#111" stroke="#111" stroke-width="0.15">1</text>
<text x="643.3" y="932.4" font-size="16.0" font-style="italic" fill="#111" stroke="#111" stroke-width="0.2">S</text><text x="653.1" y="926.0" font-size="10.0" fill="#111" stroke="#111" stroke-width="0.15">1</text><text x="653.1" y="936.4" font-size="10.0" fill="#111" stroke="#111" stroke-width="0.15">1</text>
<text x="644.9" y="965.1" font-size="16.6" font-style="italic" fill="#111" stroke="#111" stroke-width="0.2">S</text><text x="655.0" y="969.2" font-size="10.4" fill="#111" stroke="#111" stroke-width="0.15">1</text>
<path d="M651.5 821.5V838.5M651.5 887.3V904.3" stroke="#111" stroke-width="1.6" stroke-dasharray="4 6" fill="none"/>
<rect x="709.5" y="807.8" width="15.4" height="11.4" fill="#fbeac0"/>
<text x="717.2" y="818.3" font-size="13.4" font-family="'Liberation Sans',sans-serif" text-anchor="middle" fill="#111">4</text>
<rect x="709.5" y="840.7" width="15.4" height="10.9" fill="#fbeac0"/>
<text x="717.2" y="851.0" font-size="13.4" font-family="'Liberation Sans',sans-serif" text-anchor="middle" fill="#111">3</text>
<rect x="709.5" y="873.5" width="15.4" height="11.9" fill="#fbeac0"/>
<text x="717.2" y="884.2" font-size="13.4" font-family="'Liberation Sans',sans-serif" text-anchor="middle" fill="#111">2</text>
<rect x="709.5" y="906.4" width="15.4" height="11.5" fill="#fbeac0"/>
<text x="717.2" y="916.9" font-size="13.4" font-family="'Liberation Sans',sans-serif" text-anchor="middle" fill="#111">1</text>
<text x="709.0" y="801.0" font-size="16.0" font-style="italic" fill="#111" stroke="#111" stroke-width="0.2">S</text><text x="718.8" y="794.6" font-size="10.0" fill="#111" stroke="#111" stroke-width="0.15">3</text><text x="718.8" y="805.0" font-size="10.0" fill="#111" stroke="#111" stroke-width="0.15">2</text>
<text x="709.0" y="867.1" font-size="16.0" font-style="italic" fill="#111" stroke="#111" stroke-width="0.2">S</text><text x="718.8" y="860.7" font-size="10.0" fill="#111" stroke="#111" stroke-width="0.15">2</text><text x="718.8" y="871.1" font-size="10.0" fill="#111" stroke="#111" stroke-width="0.15">2</text>
<text x="709.0" y="932.4" font-size="16.0" font-style="italic" fill="#111" stroke="#111" stroke-width="0.2">S</text><text x="718.8" y="926.0" font-size="10.0" fill="#111" stroke="#111" stroke-width="0.15">1</text><text x="718.8" y="936.4" font-size="10.0" fill="#111" stroke="#111" stroke-width="0.15">2</text>
<text x="710.6" y="965.1" font-size="16.6" font-style="italic" fill="#111" stroke="#111" stroke-width="0.2">S</text><text x="720.7" y="969.2" font-size="10.4" fill="#111" stroke="#111" stroke-width="0.15">2</text>
<path d="M717.2 821.5V838.5M717.2 887.3V904.3" stroke="#111" stroke-width="1.6" stroke-dasharray="4 6" fill="none"/>
<rect x="775.9" y="807.8" width="15.4" height="11.4" fill="#fbeac0"/>
<text x="783.6" y="818.3" font-size="13.4" font-family="'Liberation Sans',sans-serif" text-anchor="middle" fill="#111">4</text>
<rect x="775.9" y="840.7" width="15.4" height="10.9" fill="#fbeac0"/>
<text x="783.6" y="851.0" font-size="13.4" font-family="'Liberation Sans',sans-serif" text-anchor="middle" fill="#111">3</text>
<rect x="775.9" y="873.5" width="15.4" height="11.9" fill="#fbeac0"/>
<text x="783.6" y="884.2" font-size="13.4" font-family="'Liberation Sans',sans-serif" text-anchor="middle" fill="#111">2</text>
<rect x="775.9" y="906.4" width="15.4" height="11.5" fill="#fbeac0"/>
<text x="783.6" y="916.9" font-size="13.4" font-family="'Liberation Sans',sans-serif" text-anchor="middle" fill="#111">1</text>
<text x="775.4" y="801.0" font-size="16.0" font-style="italic" fill="#111" stroke="#111" stroke-width="0.2">S</text><text x="785.2" y="794.6" font-size="10.0" fill="#111" stroke="#111" stroke-width="0.15">3</text><text x="785.2" y="805.0" font-size="10.0" fill="#111" stroke="#111" stroke-width="0.15">3</text>
<text x="775.4" y="867.1" font-size="16.0" font-style="italic" fill="#111" stroke="#111" stroke-width="0.2">S</text><text x="785.2" y="860.7" font-size="10.0" fill="#111" stroke="#111" stroke-width="0.15">2</text><text x="785.2" y="871.1" font-size="10.0" fill="#111" stroke="#111" stroke-width="0.15">3</text>
<text x="775.4" y="932.4" font-size="16.0" font-style="italic" fill="#111" stroke="#111" stroke-width="0.2">S</text><text x="785.2" y="926.0" font-size="10.0" fill="#111" stroke="#111" stroke-width="0.15">1</text><text x="785.2" y="936.4" font-size="10.0" fill="#111" stroke="#111" stroke-width="0.15">3</text>
<text x="777.0" y="965.1" font-size="16.6" font-style="italic" fill="#111" stroke="#111" stroke-width="0.2">S</text><text x="787.1" y="969.2" font-size="10.4" fill="#111" stroke="#111" stroke-width="0.15">3</text>
<path d="M783.6 821.5V838.5M783.6 887.3V904.3" stroke="#111" stroke-width="1.6" stroke-dasharray="4 6" fill="none"/>
<rect x="841.8" y="807.8" width="15.4" height="11.4" fill="#fbeac0"/>
<text x="849.5" y="818.3" font-size="13.4" font-family="'Liberation Sans',sans-serif" text-anchor="middle" fill="#111">4</text>
<rect x="841.8" y="840.7" width="15.4" height="10.9" fill="#fbeac0"/>
<text x="849.5" y="851.0" font-size="13.4" font-family="'Liberation Sans',sans-serif" text-anchor="middle" fill="#111">3</text>
<rect x="841.8" y="873.5" width="15.4" height="11.9" fill="#fbeac0"/>
<text x="849.5" y="884.2" font-size="13.4" font-family="'Liberation Sans',sans-serif" text-anchor="middle" fill="#111">2</text>
<rect x="841.8" y="906.4" width="15.4" height="11.5" fill="#fbeac0"/>
<text x="849.5" y="916.9" font-size="13.4" font-family="'Liberation Sans',sans-serif" text-anchor="middle" fill="#111">1</text>
<text x="841.3" y="801.0" font-size="16.0" font-style="italic" fill="#111" stroke="#111" stroke-width="0.2">S</text><text x="851.1" y="794.6" font-size="10.0" fill="#111" stroke="#111" stroke-width="0.15">3</text><text x="851.1" y="805.0" font-size="10.0" fill="#111" stroke="#111" stroke-width="0.15">4</text>
<text x="841.3" y="867.1" font-size="16.0" font-style="italic" fill="#111" stroke="#111" stroke-width="0.2">S</text><text x="851.1" y="860.7" font-size="10.0" fill="#111" stroke="#111" stroke-width="0.15">2</text><text x="851.1" y="871.1" font-size="10.0" fill="#111" stroke="#111" stroke-width="0.15">4</text>
<text x="841.3" y="932.4" font-size="16.0" font-style="italic" fill="#111" stroke="#111" stroke-width="0.2">S</text><text x="851.1" y="926.0" font-size="10.0" fill="#111" stroke="#111" stroke-width="0.15">1</text><text x="851.1" y="936.4" font-size="10.0" fill="#111" stroke="#111" stroke-width="0.15">4</text>
<text x="842.9" y="965.1" font-size="16.6" font-style="italic" fill="#111" stroke="#111" stroke-width="0.2">S</text><text x="853.0" y="969.2" font-size="10.4" fill="#111" stroke="#111" stroke-width="0.15">4</text>
<path d="M849.5 821.5V838.5M849.5 887.3V904.3" stroke="#111" stroke-width="1.6" stroke-dasharray="4 6" fill="none"/>
<path d="M652.8 822.3Q655.3 822.3 657.8 822.5L842.0 837.5Q844.5 837.7 847.0 837.7" stroke="#111" stroke-width="1.5" fill="none"/>
<path d="M652.8 837.7Q655.3 837.7 657.8 837.0L710.6 823.0Q713.1 822.3 715.6 822.3" stroke="#e8202a" stroke-width="1.5" fill="none"/>
<path d="M719.5 837.7Q722.0 837.7 724.5 837.0L777.3 822.4Q779.8 821.7 782.3 821.7" stroke="#111" stroke-width="1.5" fill="none"/>
<path d="M786.2 837.7Q788.7 837.7 791.2 837.0L843.0 822.4Q845.5 821.7 848.0 821.7" stroke="#111" stroke-width="1.5" fill="none"/>
<path d="M653.8 888.0Q656.3 888.0 658.8 888.7L710.6 902.7Q713.1 903.4 715.6 903.4" stroke="#1a1ad0" stroke-width="1.5" fill="none"/>
<path d="M652.8 903.4Q655.3 903.4 657.8 903.2L842.0 887.6Q844.5 887.4 847.0 887.4" stroke="#111" stroke-width="1.5" fill="none"/>
<path d="M719.5 888.4Q722.0 888.4 724.5 889.0L777.3 902.8Q779.8 903.4 782.3 903.4" stroke="#111" stroke-width="1.5" fill="none"/>
<path d="M786.2 888.4Q788.7 888.4 791.2 889.1L843.0 902.7Q845.5 903.4 848.0 903.4" stroke="#111" stroke-width="1.5" fill="none"/>
<text x="680" y="997" font-size="15.2" fill="#111" stroke="#111" stroke-width="0.2">(b)  Virtualized topology.</text>
<rect x="947.6" y="770.6" width="70.1" height="201.5" rx="7.5" fill="#f4f4f4"/>
<rect x="1026" y="770.6" width="70.3" height="201.5" rx="7.5" fill="#f4f4f4"/>
<rect x="1104.9" y="770.6" width="68.5" height="201.5" rx="7.5" fill="#f4f4f4"/>
<rect x="1183.3" y="770.6" width="69.3" height="201.5" rx="7.5" fill="#f4f4f4"/>
<rect x="969.4" y="781.3" width="27.2" height="25.9" fill="#d3e2f7"/>
<text x="974.1" y="800.0" font-size="19.3" font-style="italic" fill="#111" stroke="#111" stroke-width="0.2">S</text><text x="984.8" y="792.5" font-size="11.2" fill="#111" stroke="#111" stroke-width="0.15">3</text><text x="984.8" y="804.8" font-size="11.2" fill="#111" stroke="#111" stroke-width="0.15">1</text>
<text x="974.1" y="968.3" font-size="19.3" font-style="italic" fill="#111" stroke="#111" stroke-width="0.2">S</text><text x="985.0" y="970.9" font-size="11.2" fill="#111" stroke="#111" stroke-width="0.15">1</text>
<rect x="1047.9" y="781.3" width="27.2" height="25.9" fill="#d3e2f7"/>
<text x="1052.6" y="800.0" font-size="19.3" font-style="italic" fill="#111" stroke="#111" stroke-width="0.2">S</text><text x="1063.3" y="792.5" font-size="11.2" fill="#111" stroke="#111" stroke-width="0.15">3</text><text x="1063.3" y="804.8" font-size="11.2" fill="#111" stroke="#111" stroke-width="0.15">2</text>
<text x="1052.6" y="968.3" font-size="19.3" font-style="italic" fill="#111" stroke="#111" stroke-width="0.2">S</text><text x="1063.5" y="970.9" font-size="11.2" fill="#111" stroke="#111" stroke-width="0.15">2</text>
<rect x="1125.5" y="781.3" width="27.2" height="25.9" fill="#d3e2f7"/>
<text x="1130.2" y="800.0" font-size="19.3" font-style="italic" fill="#111" stroke="#111" stroke-width="0.2">S</text><text x="1140.9" y="792.5" font-size="11.2" fill="#111" stroke="#111" stroke-width="0.15">3</text><text x="1140.9" y="804.8" font-size="11.2" fill="#111" stroke="#111" stroke-width="0.15">3</text>
<text x="1130.2" y="968.3" font-size="19.3" font-style="italic" fill="#111" stroke="#111" stroke-width="0.2">S</text><text x="1141.1" y="970.9" font-size="11.2" fill="#111" stroke="#111" stroke-width="0.15">3</text>
<rect x="1203.6" y="781.3" width="27.2" height="25.9" fill="#d3e2f7"/>
<text x="1208.3" y="800.0" font-size="19.3" font-style="italic" fill="#111" stroke="#111" stroke-width="0.2">S</text><text x="1219.0" y="792.5" font-size="11.2" fill="#111" stroke="#111" stroke-width="0.15">3</text><text x="1219.0" y="804.8" font-size="11.2" fill="#111" stroke="#111" stroke-width="0.15">4</text>
<text x="1208.3" y="968.3" font-size="19.3" font-style="italic" fill="#111" stroke="#111" stroke-width="0.2">S</text><text x="1219.2" y="970.9" font-size="11.2" fill="#111" stroke="#111" stroke-width="0.15">4</text>
<rect x="947.6" y="852" width="27.8" height="27.1" fill="#d3e2f7"/>
<text x="948.4" y="873.4" font-size="19.6" font-style="italic" fill="#111" stroke="#111" stroke-width="0.25">S</text>
<text x="959.4" y="864.5" font-size="12.2" fill="#111" stroke="#111" stroke-width="0.15">1,2</text>
<text x="959.2" y="875.3" font-size="11.6" font-style="italic" fill="#111" stroke="#111" stroke-width="0.15">u</text>
<rect x="947.6" y="923.3" width="27.8" height="26.9" fill="#d3e2f7"/>
<text x="948.4" y="944.9" font-size="19.6" font-style="italic" fill="#111" stroke="#111" stroke-width="0.25">S</text>
<text x="959.4" y="936.0" font-size="12.2" fill="#111" stroke="#111" stroke-width="0.15">1,1</text>
<text x="959.2" y="946.8" font-size="11.6" font-style="italic" fill="#111" stroke="#111" stroke-width="0.15">u</text>
<rect x="990.8" y="852" width="26.9" height="27.1" fill="#d3e2f7"/>
<text x="991.6" y="873.4" font-size="19.6" font-style="italic" fill="#111" stroke="#111" stroke-width="0.25">S</text>
<text x="1002.6" y="864.5" font-size="12.2" fill="#111" stroke="#111" stroke-width="0.15">1,2</text>
<text x="1002.4" y="875.3" font-size="11.6" font-style="italic" fill="#111" stroke="#111" stroke-width="0.15">d</text>
<rect x="990.8" y="923.3" width="26.9" height="26.9" fill="#d3e2f7"/>
<text x="991.6" y="944.9" font-size="19.6" font-style="italic" fill="#111" stroke="#111" stroke-width="0.25">S</text>
<text x="1002.6" y="936.0" font-size="12.2" fill="#111" stroke="#111" stroke-width="0.15">1,1</text>
<text x="1002.4" y="946.8" font-size="11.6" font-style="italic" fill="#111" stroke="#111" stroke-width="0.15">d</text>
<rect x="1026" y="852" width="27.5" height="27.1" fill="#d3e2f7"/>
<text x="1026.8" y="873.4" font-size="19.6" font-style="italic" fill="#111" stroke="#111" stroke-width="0.25">S</text>
<text x="1037.8" y="864.5" font-size="12.2" fill="#111" stroke="#111" stroke-width="0.15">2,2</text>
<text x="1037.6" y="875.3" font-size="11.6" font-style="italic" fill="#111" stroke="#111" stroke-width="0.15">u</text>
<rect x="1026" y="923.3" width="27.5" height="26.9" fill="#d3e2f7"/>
<text x="1026.8" y="944.9" font-size="19.6" font-style="italic" fill="#111" stroke="#111" stroke-width="0.25">S</text>
<text x="1037.8" y="936.0" font-size="12.2" fill="#111" stroke="#111" stroke-width="0.15">2,1</text>
<text x="1037.6" y="946.8" font-size="11.6" font-style="italic" fill="#111" stroke="#111" stroke-width="0.15">u</text>
<rect x="1069" y="852" width="27.3" height="27.1" fill="#d3e2f7"/>
<text x="1069.8" y="873.4" font-size="19.6" font-style="italic" fill="#111" stroke="#111" stroke-width="0.25">S</text>
<text x="1080.8" y="864.5" font-size="12.2" fill="#111" stroke="#111" stroke-width="0.15">2,2</text>
<text x="1080.6" y="875.3" font-size="11.6" font-style="italic" fill="#111" stroke="#111" stroke-width="0.15">d</text>
<rect x="1069" y="923.3" width="27.3" height="26.9" fill="#d3e2f7"/>
<text x="1069.8" y="944.9" font-size="19.6" font-style="italic" fill="#111" stroke="#111" stroke-width="0.25">S</text>
<text x="1080.8" y="936.0" font-size="12.2" fill="#111" stroke="#111" stroke-width="0.15">2,1</text>
<text x="1080.6" y="946.8" font-size="11.6" font-style="italic" fill="#111" stroke="#111" stroke-width="0.15">d</text>
<rect x="1104.9" y="852" width="26.3" height="27.1" fill="#d3e2f7"/>
<text x="1105.7" y="873.4" font-size="19.6" font-style="italic" fill="#111" stroke="#111" stroke-width="0.25">S</text>
<text x="1116.7" y="864.5" font-size="12.2" fill="#111" stroke="#111" stroke-width="0.15">3,2</text>
<text x="1116.5" y="875.3" font-size="11.6" font-style="italic" fill="#111" stroke="#111" stroke-width="0.15">u</text>
<rect x="1104.9" y="923.3" width="26.3" height="26.9" fill="#d3e2f7"/>
<text x="1105.7" y="944.9" font-size="19.6" font-style="italic" fill="#111" stroke="#111" stroke-width="0.25">S</text>
<text x="1116.7" y="936.0" font-size="12.2" fill="#111" stroke="#111" stroke-width="0.15">3,1</text>
<text x="1116.5" y="946.8" font-size="11.6" font-style="italic" fill="#111" stroke="#111" stroke-width="0.15">u</text>
<rect x="1147.1" y="852" width="26.3" height="27.1" fill="#d3e2f7"/>
<text x="1147.9" y="873.4" font-size="19.6" font-style="italic" fill="#111" stroke="#111" stroke-width="0.25">S</text>
<text x="1158.9" y="864.5" font-size="12.2" fill="#111" stroke="#111" stroke-width="0.15">3,2</text>
<text x="1158.7" y="875.3" font-size="11.6" font-style="italic" fill="#111" stroke="#111" stroke-width="0.15">d</text>
<rect x="1147.1" y="923.3" width="26.3" height="26.9" fill="#d3e2f7"/>
<text x="1147.9" y="944.9" font-size="19.6" font-style="italic" fill="#111" stroke="#111" stroke-width="0.25">S</text>
<text x="1158.9" y="936.0" font-size="12.2" fill="#111" stroke="#111" stroke-width="0.15">3,1</text>
<text x="1158.7" y="946.8" font-size="11.6" font-style="italic" fill="#111" stroke="#111" stroke-width="0.15">d</text>
<rect x="1183.3" y="852" width="25.9" height="27.1" fill="#d3e2f7"/>
<text x="1184.1" y="873.4" font-size="19.6" font-style="italic" fill="#111" stroke="#111" stroke-width="0.25">S</text>
<text x="1195.1" y="864.5" font-size="12.2" fill="#111" stroke="#111" stroke-width="0.15">4,2</text>
<text x="1194.9" y="875.3" font-size="11.6" font-style="italic" fill="#111" stroke="#111" stroke-width="0.15">u</text>
<rect x="1183.3" y="923.3" width="25.9" height="26.9" fill="#d3e2f7"/>
<text x="1184.1" y="944.9" font-size="19.6" font-style="italic" fill="#111" stroke="#111" stroke-width="0.25">S</text>
<text x="1195.1" y="936.0" font-size="12.2" fill="#111" stroke="#111" stroke-width="0.15">4,1</text>
<text x="1194.9" y="946.8" font-size="11.6" font-style="italic" fill="#111" stroke="#111" stroke-width="0.15">u</text>
<rect x="1225.1" y="852" width="27.5" height="27.1" fill="#d3e2f7"/>
<text x="1225.9" y="873.4" font-size="19.6" font-style="italic" fill="#111" stroke="#111" stroke-width="0.25">S</text>
<text x="1236.9" y="864.5" font-size="12.2" fill="#111" stroke="#111" stroke-width="0.15">4,2</text>
<text x="1236.7" y="875.3" font-size="11.6" font-style="italic" fill="#111" stroke="#111" stroke-width="0.15">d</text>
<rect x="1225.1" y="923.3" width="27.5" height="26.9" fill="#d3e2f7"/>
<text x="1225.9" y="944.9" font-size="19.6" font-style="italic" fill="#111" stroke="#111" stroke-width="0.25">S</text>
<text x="1236.9" y="936.0" font-size="12.2" fill="#111" stroke="#111" stroke-width="0.15">4,1</text>
<text x="1236.7" y="946.8" font-size="11.6" font-style="italic" fill="#111" stroke="#111" stroke-width="0.15">d</text>
<path d="M961.9 851.0L980.8 811.8" stroke="#111" stroke-width="1.55" fill="none" stroke-dasharray="4.6 3.6"/><path d="M981.2 815.6L981.5 810.4L977.6 813.9L980.2 813.0Z" fill="#111" stroke="#111" stroke-width="0.5" stroke-linejoin="round"/>
<path d="M984.5 810.4L1003.4 849.6" stroke="#111" stroke-width="1.55" fill="none" stroke-dasharray="4.6 3.6"/><path d="M1000.2 847.5L1004.1 851.0L1003.8 845.8L1002.8 848.4Z" fill="#111" stroke="#111" stroke-width="0.5" stroke-linejoin="round"/>
<path d="M961.9 922.3L961.9 882.4" stroke="#111" stroke-width="1.55" fill="none" stroke-dasharray="4.6 3.6"/><path d="M963.9 885.7L961.9 880.9L959.9 885.7L961.9 883.8Z" fill="#111" stroke="#111" stroke-width="0.5" stroke-linejoin="round"/>
<path d="M1004.1 880.9L1004.1 920.8" stroke="#111" stroke-width="1.55" fill="none" stroke-dasharray="4.6 3.6"/><path d="M1002.1 917.5L1004.1 922.3L1006.1 917.5L1004.1 919.4Z" fill="#111" stroke="#111" stroke-width="0.5" stroke-linejoin="round"/>
<path d="M1040.6 851.0L1059.4 811.8" stroke="#111" stroke-width="1.55" fill="none" stroke-dasharray="4.6 3.6"/><path d="M1059.7 815.6L1060.0 810.4L1056.1 813.9L1058.8 813.0Z" fill="#111" stroke="#111" stroke-width="0.5" stroke-linejoin="round"/>
<path d="M1063.0 810.4L1082.3 849.7" stroke="#111" stroke-width="1.55" fill="none" stroke-dasharray="4.6 3.6"/><path d="M1079.1 847.6L1083.0 851.0L1082.7 845.8L1081.7 848.4Z" fill="#111" stroke="#111" stroke-width="0.5" stroke-linejoin="round"/>
<path d="M1040.6 922.3L1040.6 882.4" stroke="#1fb41f" stroke-width="1.55" fill="none" stroke-dasharray="4.6 3.6"/><path d="M1042.6 885.7L1040.6 880.9L1038.6 885.7L1040.6 883.8Z" fill="#1fb41f" stroke="#1fb41f" stroke-width="0.5" stroke-linejoin="round"/>
<path d="M1083.0 880.9L1083.0 920.8" stroke="#111" stroke-width="1.55" fill="none" stroke-dasharray="4.6 3.6"/><path d="M1081.0 917.5L1083.0 922.3L1085.0 917.5L1083.0 919.4Z" fill="#111" stroke="#111" stroke-width="0.5" stroke-linejoin="round"/>
<path d="M1118.2 851.0L1137.0 811.8" stroke="#111" stroke-width="1.55" fill="none" stroke-dasharray="4.6 3.6"/><path d="M1137.3 815.6L1137.6 810.4L1133.7 813.9L1136.4 813.0Z" fill="#111" stroke="#111" stroke-width="0.5" stroke-linejoin="round"/>
<path d="M1140.6 810.4L1159.9 849.7" stroke="#1fb41f" stroke-width="1.55" fill="none" stroke-dasharray="4.6 3.6"/><path d="M1156.7 847.6L1160.6 851.0L1160.3 845.8L1159.3 848.4Z" fill="#1fb41f" stroke="#1fb41f" stroke-width="0.5" stroke-linejoin="round"/>
<path d="M1118.2 922.3L1118.2 882.4" stroke="#111" stroke-width="1.55" fill="none" stroke-dasharray="4.6 3.6"/><path d="M1120.2 885.7L1118.2 880.9L1116.2 885.7L1118.2 883.8Z" fill="#111" stroke="#111" stroke-width="0.5" stroke-linejoin="round"/>
<path d="M1160.6 880.9L1160.6 920.8" stroke="#1fb41f" stroke-width="1.55" fill="none" stroke-dasharray="4.6 3.6"/><path d="M1158.6 917.5L1160.6 922.3L1162.6 917.5L1160.6 919.4Z" fill="#1fb41f" stroke="#1fb41f" stroke-width="0.5" stroke-linejoin="round"/>
<path d="M1195.3 851.0L1215.0 811.7" stroke="#111" stroke-width="1.55" fill="none" stroke-dasharray="4.6 3.6"/><path d="M1215.3 815.6L1215.7 810.4L1211.8 813.8L1214.4 813.0Z" fill="#111" stroke="#111" stroke-width="0.5" stroke-linejoin="round"/>
<path d="M1218.7 810.4L1237.6 849.6" stroke="#111" stroke-width="1.55" fill="none" stroke-dasharray="4.6 3.6"/><path d="M1234.4 847.5L1238.3 851.0L1238.0 845.8L1237.0 848.4Z" fill="#111" stroke="#111" stroke-width="0.5" stroke-linejoin="round"/>
<path d="M1195.3 922.3L1195.3 882.4" stroke="#111" stroke-width="1.55" fill="none" stroke-dasharray="4.6 3.6"/><path d="M1197.3 885.7L1195.3 880.9L1193.3 885.7L1195.3 883.8Z" fill="#111" stroke="#111" stroke-width="0.5" stroke-linejoin="round"/>
<path d="M1238.3 880.9L1238.3 920.8" stroke="#111" stroke-width="1.55" fill="none" stroke-dasharray="4.6 3.6"/><path d="M1236.3 917.5L1238.3 922.3L1240.3 917.5L1238.3 919.4Z" fill="#111" stroke="#111" stroke-width="0.5" stroke-linejoin="round"/>
<path d="M961.9 851.0L1059.6 811.0" stroke="#e8202a" stroke-width="1.55" fill="none"/><path d="M1057.3 814.1L1061.0 810.4L1055.8 810.4L1058.3 811.5Z" fill="#e8202a" stroke="#e8202a" stroke-width="0.5" stroke-linejoin="round"/>
<path d="M1064.0 810.9L1005.3 850.2" stroke="#e8202a" stroke-width="1.55" fill="none"/><path d="M1007.0 846.7L1004.1 851.0L1009.2 850.0L1006.5 849.4Z" fill="#e8202a" stroke="#e8202a" stroke-width="0.5" stroke-linejoin="round"/>
<path d="M1040.6 851.0L1137.2 811.0" stroke="#1fb41f" stroke-width="1.55" fill="none"/><path d="M1134.9 814.1L1138.6 810.4L1133.4 810.4L1135.9 811.5Z" fill="#1fb41f" stroke="#1fb41f" stroke-width="0.5" stroke-linejoin="round"/>
<path d="M1141.6 810.9L1084.2 850.2" stroke="#111" stroke-width="1.55" fill="none"/><path d="M1085.8 846.6L1083.0 851.0L1088.1 849.9L1085.4 849.4Z" fill="#111" stroke="#111" stroke-width="0.5" stroke-linejoin="round"/>
<path d="M1118.2 851.0L1215.3 811.0" stroke="#111" stroke-width="1.55" fill="none"/><path d="M1213.0 814.1L1216.7 810.4L1211.5 810.4L1214.0 811.5Z" fill="#111" stroke="#111" stroke-width="0.5" stroke-linejoin="round"/>
<path d="M1219.7 810.9L1161.8 850.2" stroke="#111" stroke-width="1.55" fill="none"/><path d="M1163.4 846.6L1160.6 851.0L1165.7 850.0L1163.0 849.4Z" fill="#111" stroke="#111" stroke-width="0.5" stroke-linejoin="round"/>
<path d="M1195.3 851.0L984.0 810.7" stroke="#111" stroke-width="1.55" fill="none"/><path d="M987.6 809.3L982.5 810.4L986.8 813.3L985.3 810.9Z" fill="#111" stroke="#111" stroke-width="0.5" stroke-linejoin="round"/>
<path d="M985.5 810.9L1236.8 850.8" stroke="#111" stroke-width="1.55" fill="none"/><path d="M1233.2 852.2L1238.3 851.0L1233.9 848.3L1235.5 850.5Z" fill="#111" stroke="#111" stroke-width="0.5" stroke-linejoin="round"/>
<path d="M1040.6 922.3L963.2 881.6" stroke="#1a1ad0" stroke-width="1.55" fill="none"/><path d="M967.1 881.4L961.9 880.9L965.2 884.9L964.4 882.2Z" fill="#1a1ad0" stroke="#1a1ad0" stroke-width="0.5" stroke-linejoin="round"/>
<path d="M1004.1 880.9L1081.7 921.6" stroke="#1a1ad0" stroke-width="1.55" fill="none"/><path d="M1077.8 921.8L1083.0 922.3L1079.7 918.3L1080.4 921.0Z" fill="#1a1ad0" stroke="#1a1ad0" stroke-width="0.5" stroke-linejoin="round"/>
<path d="M1118.2 922.3L1041.9 881.6" stroke="#111" stroke-width="1.55" fill="none"/><path d="M1045.8 881.4L1040.6 880.9L1043.9 884.9L1043.1 882.3Z" fill="#111" stroke="#111" stroke-width="0.5" stroke-linejoin="round"/>
<path d="M1083.0 880.9L1159.3 921.6" stroke="#111" stroke-width="1.55" fill="none"/><path d="M1155.4 921.8L1160.6 922.3L1157.3 918.3L1158.1 920.9Z" fill="#111" stroke="#111" stroke-width="0.5" stroke-linejoin="round"/>
<path d="M1195.3 922.3L1119.5 881.6" stroke="#111" stroke-width="1.55" fill="none"/><path d="M1123.4 881.4L1118.2 880.9L1121.5 884.9L1120.7 882.3Z" fill="#111" stroke="#111" stroke-width="0.5" stroke-linejoin="round"/>
<path d="M1160.6 880.9L1237.0 921.6" stroke="#111" stroke-width="1.55" fill="none"/><path d="M1233.1 921.8L1238.3 922.3L1235.0 918.3L1235.8 920.9Z" fill="#111" stroke="#111" stroke-width="0.5" stroke-linejoin="round"/>
<path d="M961.9 922.3L1193.8 881.2" stroke="#111" stroke-width="1.55" fill="none"/><path d="M1190.9 883.7L1195.3 880.9L1190.2 879.8L1192.5 881.4Z" fill="#111" stroke="#111" stroke-width="0.5" stroke-linejoin="round"/>
<path d="M1238.3 880.9L1005.6 922.0" stroke="#111" stroke-width="1.55" fill="none"/><path d="M1008.5 919.5L1004.1 922.3L1009.2 923.4L1006.9 921.8Z" fill="#111" stroke="#111" stroke-width="0.5" stroke-linejoin="round"/>
<text x="979.7" y="997.6" font-size="15.25" fill="#111" stroke="#111" stroke-width="0.2">(c)  Directed virtual up-down topology.</text>
<text x="648.5" y="1045.2" font-size="19.2" fill="#111" stroke="#111" stroke-width="0.2"><tspan font-weight="bold">Figure 4:</tspan> FC’s topology and routing design.</text>
</svg>
<!--/FIG4-->
</body>
</html>
